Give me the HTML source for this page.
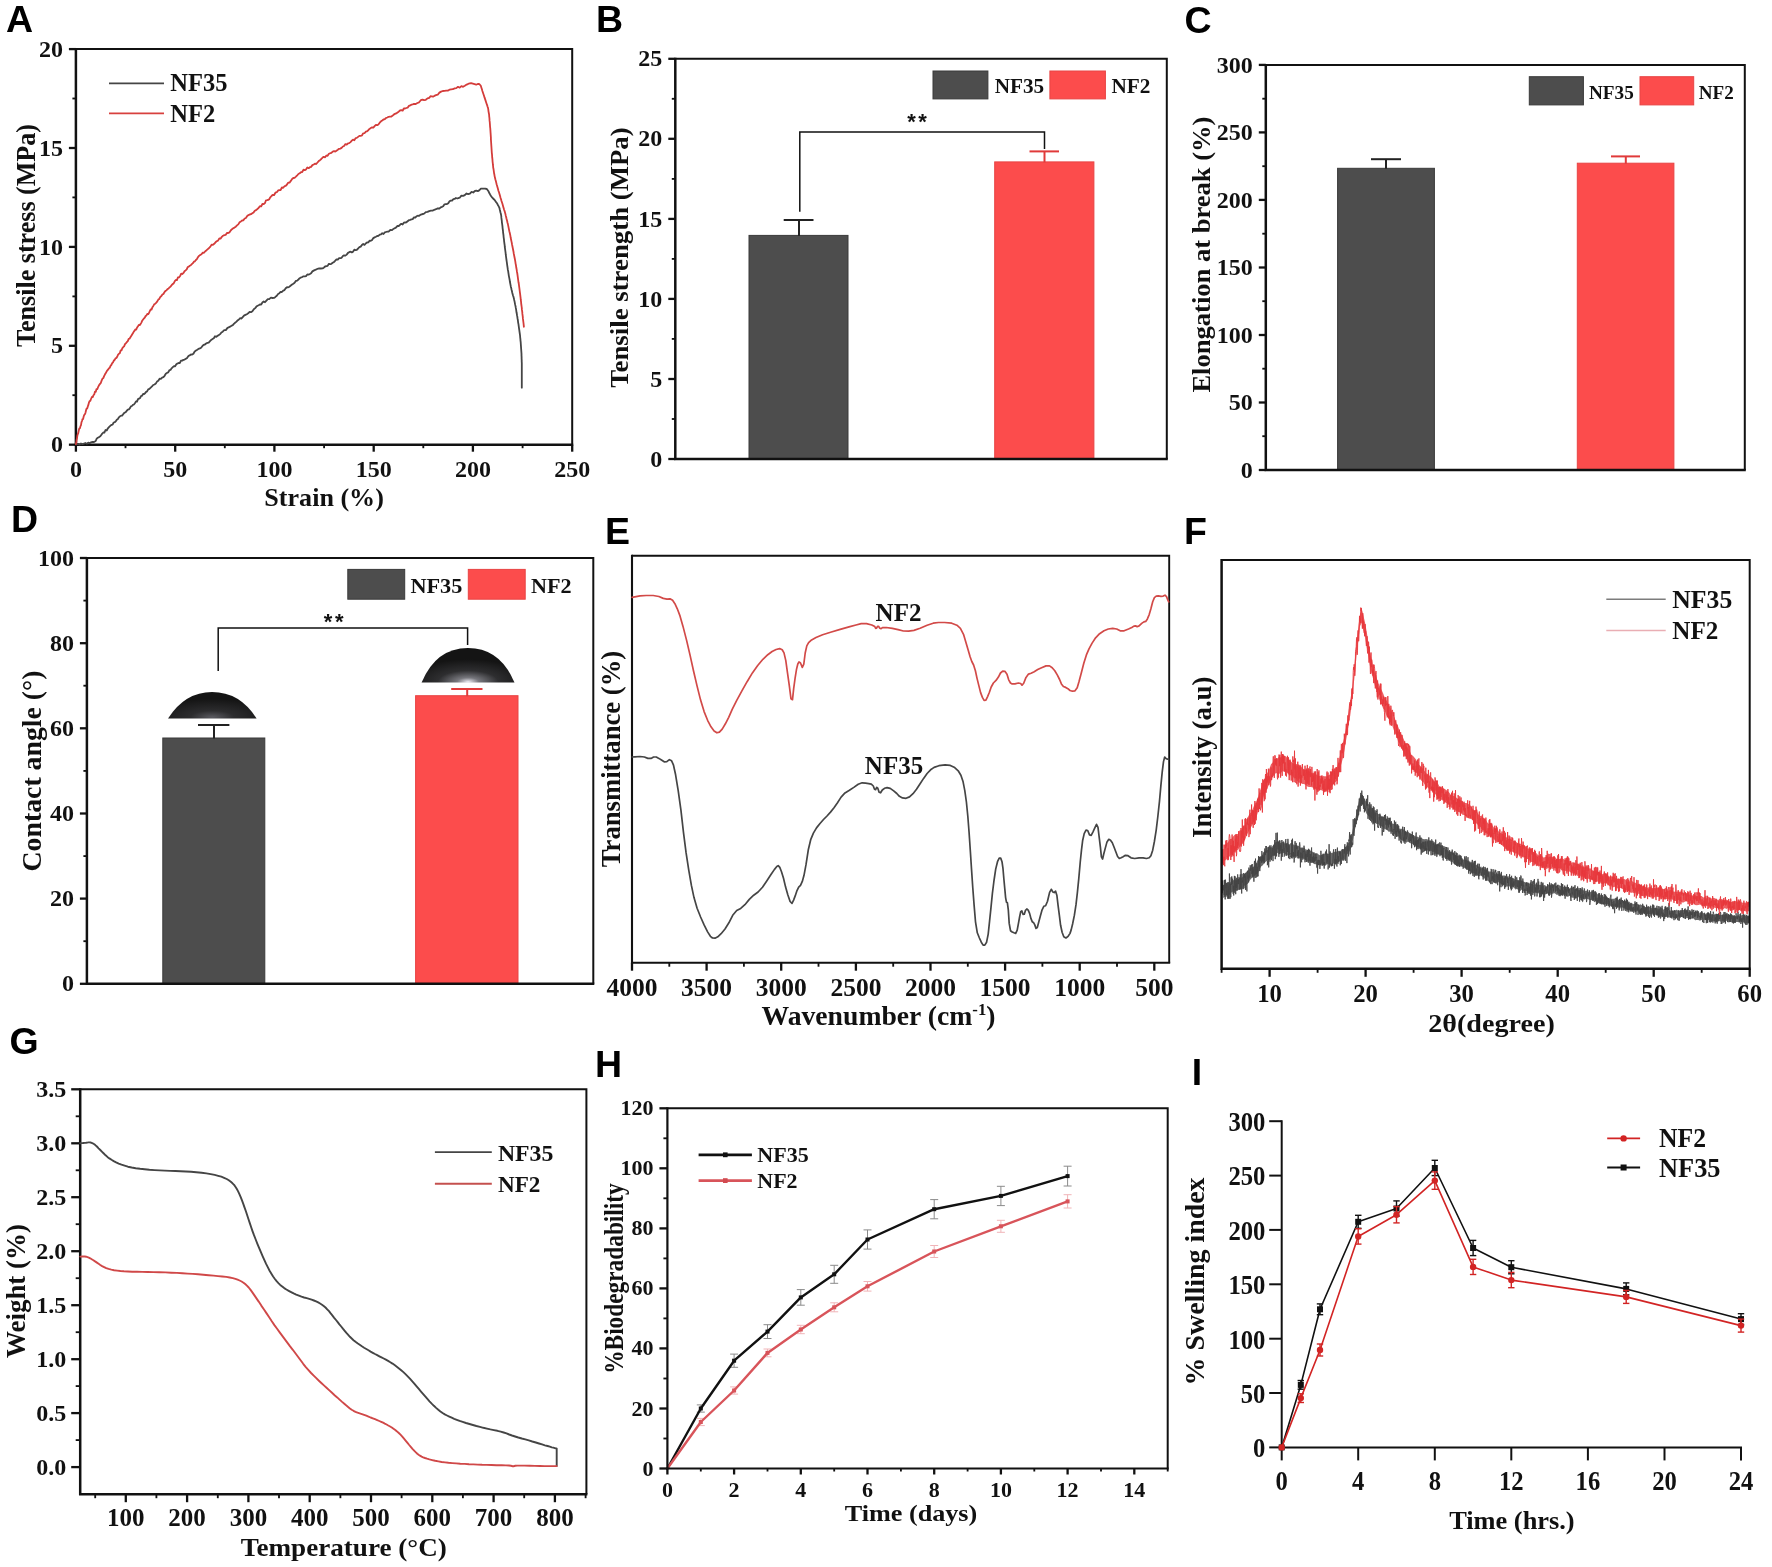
<!DOCTYPE html>
<html><head><meta charset="utf-8"><title>Figure</title>
<style>html,body{margin:0;padding:0;background:#fff}svg{display:block;filter:blur(0.45px)}</style></head>
<body><svg width="1772" height="1567" viewBox="0 0 1772 1567">
<rect width="1772" height="1567" fill="#fff"/>
<text x="6.0" y="32.3" font-size="37.5" text-anchor="start" font-family="Liberation Sans, sans-serif" font-weight="bold" fill="#000" >A</text>
<text x="596.0" y="32.3" font-size="37.5" text-anchor="start" font-family="Liberation Sans, sans-serif" font-weight="bold" fill="#000" >B</text>
<text x="1184.5" y="33.0" font-size="37.5" text-anchor="start" font-family="Liberation Sans, sans-serif" font-weight="bold" fill="#000" >C</text>
<text x="11.0" y="532.0" font-size="37.5" text-anchor="start" font-family="Liberation Sans, sans-serif" font-weight="bold" fill="#000" >D</text>
<text x="605.0" y="543.5" font-size="37.5" text-anchor="start" font-family="Liberation Sans, sans-serif" font-weight="bold" fill="#000" >E</text>
<text x="1184.0" y="543.5" font-size="37.5" text-anchor="start" font-family="Liberation Sans, sans-serif" font-weight="bold" fill="#000" >F</text>
<text x="9.5" y="1053.5" font-size="37.5" text-anchor="start" font-family="Liberation Sans, sans-serif" font-weight="bold" fill="#000" >G</text>
<text x="595.0" y="1077.0" font-size="37.5" text-anchor="start" font-family="Liberation Sans, sans-serif" font-weight="bold" fill="#000" >H</text>
<text x="1191.7" y="1085.0" font-size="37.5" text-anchor="start" font-family="Liberation Sans, sans-serif" font-weight="bold" fill="#000" >I</text>
<path d="M75.9,48.1 V444.7 H573.2" fill="none" stroke="#111" stroke-width="2.5" stroke-linejoin="miter"/>
<path d="M75.9,49.1 H572.2 V444.7" fill="none" stroke="#111" stroke-width="2.0" stroke-linejoin="miter"/>
<line x1="68.9" y1="49.1" x2="75.9" y2="49.1" stroke="#111" stroke-width="2.3" />
<text x="62.9" y="56.7" font-size="24" text-anchor="end" font-family="Liberation Serif, serif" font-weight="bold" fill="#111" >20</text>
<line x1="68.9" y1="148.0" x2="75.9" y2="148.0" stroke="#111" stroke-width="2.3" />
<text x="62.9" y="155.6" font-size="24" text-anchor="end" font-family="Liberation Serif, serif" font-weight="bold" fill="#111" >15</text>
<line x1="68.9" y1="246.9" x2="75.9" y2="246.9" stroke="#111" stroke-width="2.3" />
<text x="62.9" y="254.5" font-size="24" text-anchor="end" font-family="Liberation Serif, serif" font-weight="bold" fill="#111" >10</text>
<line x1="68.9" y1="345.8" x2="75.9" y2="345.8" stroke="#111" stroke-width="2.3" />
<text x="62.9" y="353.4" font-size="24" text-anchor="end" font-family="Liberation Serif, serif" font-weight="bold" fill="#111" >5</text>
<line x1="68.9" y1="444.7" x2="75.9" y2="444.7" stroke="#111" stroke-width="2.3" />
<text x="62.9" y="452.3" font-size="24" text-anchor="end" font-family="Liberation Serif, serif" font-weight="bold" fill="#111" >0</text>
<line x1="72.4" y1="98.5" x2="75.9" y2="98.5" stroke="#111" stroke-width="1.8399999999999999" />
<line x1="72.4" y1="197.4" x2="75.9" y2="197.4" stroke="#111" stroke-width="1.8399999999999999" />
<line x1="72.4" y1="296.4" x2="75.9" y2="296.4" stroke="#111" stroke-width="1.8399999999999999" />
<line x1="72.4" y1="395.2" x2="75.9" y2="395.2" stroke="#111" stroke-width="1.8399999999999999" />
<line x1="75.9" y1="444.7" x2="75.9" y2="451.7" stroke="#111" stroke-width="2.3" />
<text x="75.9" y="476.8" font-size="24" text-anchor="middle" font-family="Liberation Serif, serif" font-weight="bold" fill="#111" >0</text>
<line x1="175.2" y1="444.7" x2="175.2" y2="451.7" stroke="#111" stroke-width="2.3" />
<text x="175.2" y="476.8" font-size="24" text-anchor="middle" font-family="Liberation Serif, serif" font-weight="bold" fill="#111" >50</text>
<line x1="274.4" y1="444.7" x2="274.4" y2="451.7" stroke="#111" stroke-width="2.3" />
<text x="274.4" y="476.8" font-size="24" text-anchor="middle" font-family="Liberation Serif, serif" font-weight="bold" fill="#111" >100</text>
<line x1="373.7" y1="444.7" x2="373.7" y2="451.7" stroke="#111" stroke-width="2.3" />
<text x="373.7" y="476.8" font-size="24" text-anchor="middle" font-family="Liberation Serif, serif" font-weight="bold" fill="#111" >150</text>
<line x1="472.9" y1="444.7" x2="472.9" y2="451.7" stroke="#111" stroke-width="2.3" />
<text x="472.9" y="476.8" font-size="24" text-anchor="middle" font-family="Liberation Serif, serif" font-weight="bold" fill="#111" >200</text>
<line x1="572.2" y1="444.7" x2="572.2" y2="451.7" stroke="#111" stroke-width="2.3" />
<text x="572.2" y="476.8" font-size="24" text-anchor="middle" font-family="Liberation Serif, serif" font-weight="bold" fill="#111" >250</text>
<line x1="125.5" y1="444.7" x2="125.5" y2="448.2" stroke="#111" stroke-width="1.8399999999999999" />
<line x1="224.8" y1="444.7" x2="224.8" y2="448.2" stroke="#111" stroke-width="1.8399999999999999" />
<line x1="324.1" y1="444.7" x2="324.1" y2="448.2" stroke="#111" stroke-width="1.8399999999999999" />
<line x1="423.3" y1="444.7" x2="423.3" y2="448.2" stroke="#111" stroke-width="1.8399999999999999" />
<line x1="522.6" y1="444.7" x2="522.6" y2="448.2" stroke="#111" stroke-width="1.8399999999999999" />
<text x="324.1" y="506.0" font-size="24.5" text-anchor="middle" font-family="Liberation Serif, serif" font-weight="bold" fill="#111"  textLength="119.5" lengthAdjust="spacingAndGlyphs">Strain (%)</text>
<text transform="translate(35.0,235.5) rotate(-90)" font-size="26.5" text-anchor="middle" font-family="Liberation Serif, serif" font-weight="bold" fill="#111"  textLength="223.0" lengthAdjust="spacingAndGlyphs">Tensile stress (MPa)</text>
<polyline points="75.9,444.3 78.1,443.8 79.5,444.6 81.0,443.5 82.5,444.2 83.9,443.7 85.3,443.0 86.8,443.7 88.2,442.7 89.6,443.2 91.0,442.4 92.5,441.9 94.0,442.0 95.7,441.0 96.7,438.6 97.8,437.7 99.1,437.1 100.3,436.3 101.8,434.2 103.3,432.5 104.4,432.6 105.5,430.0 106.7,430.5 107.9,428.3 109.2,426.8 110.5,425.6 111.5,424.9 112.6,424.7 113.7,422.5 114.7,422.2 115.8,421.3 116.8,419.8 117.9,419.1 118.9,417.3 120.0,416.3 121.1,415.7 122.1,415.6 123.2,414.2 124.3,412.9 125.5,412.3 126.7,410.9 127.8,409.6 128.9,409.4 129.9,408.2 130.9,406.4 131.9,406.0 132.9,404.9 133.9,404.5 134.9,403.2 136.0,401.4 137.0,401.6 138.0,399.1 139.0,398.6 140.0,398.2 141.0,396.1 142.1,395.7 143.1,393.9 144.1,394.0 145.1,393.2 146.1,391.9 147.1,391.4 148.2,389.4 149.4,388.9 150.7,387.6 152.0,386.4 153.2,385.0 154.5,384.5 155.8,383.6 157.0,381.6 158.3,380.8 159.6,378.7 160.9,378.8 162.1,377.6 163.4,377.2 164.6,375.8 165.8,373.8 167.0,372.9 168.2,372.4 169.4,370.2 170.5,369.9 171.6,368.3 172.8,367.2 174.0,366.1 175.1,366.4 176.3,364.3 177.4,363.6 178.6,363.0 179.8,363.0 181.0,360.7 182.2,360.6 183.4,359.9 184.6,359.6 185.9,358.7 187.1,357.9 188.4,356.0 189.6,355.4 190.9,354.5 192.2,354.6 193.4,353.8 194.7,351.5 196.0,350.6 197.3,349.8 198.5,348.9 199.8,348.4 201.1,347.7 202.3,346.2 203.6,344.8 204.9,344.5 206.1,343.5 207.4,342.9 208.7,342.6 210.0,341.2 211.2,339.9 212.5,339.1 213.8,338.3 215.0,336.3 216.3,336.9 217.6,335.8 218.8,335.1 220.1,334.1 221.4,332.5 222.7,331.7 224.2,330.2 225.8,330.1 227.3,328.1 228.7,327.3 230.1,326.7 231.5,325.8 232.8,325.1 234.1,323.6 235.4,322.5 236.5,321.6 237.6,320.4 238.7,319.8 240.0,318.2 241.3,318.7 242.5,317.3 244.0,315.6 245.4,314.9 246.8,314.2 248.2,313.3 249.6,311.9 251.0,312.2 252.4,311.3 253.8,309.2 255.2,308.1 256.4,306.6 257.6,305.8 258.7,305.3 259.9,304.4 261.2,304.5 262.4,302.5 263.7,301.4 265.0,302.2 266.4,300.7 267.8,299.2 269.2,299.2 270.9,297.7 272.6,298.0 274.0,297.9 275.4,296.9 276.8,295.7 278.1,294.0 279.4,293.2 280.6,291.9 281.9,292.0 283.2,290.6 284.5,290.1 285.7,288.3 287.0,287.2 288.3,287.3 289.5,286.7 290.8,285.5 292.1,284.5 293.3,283.7 294.6,282.7 295.9,280.9 297.2,280.6 298.4,279.5 299.7,278.2 301.0,277.4 302.2,277.1 303.5,276.3 304.8,276.4 306.0,276.1 307.3,274.5 308.6,274.6 309.9,274.0 311.1,273.2 312.4,271.4 314.1,270.4 315.8,269.7 317.5,268.8 319.2,268.3 320.9,268.5 322.6,268.4 323.8,267.7 325.1,266.5 326.4,266.2 327.6,265.9 328.9,263.8 330.2,264.1 331.4,263.8 332.7,262.8 334.0,262.0 335.3,260.7 336.5,259.4 337.8,259.7 339.1,258.2 340.3,258.2 341.6,257.8 342.9,256.0 344.1,255.3 345.4,255.6 346.7,254.6 348.0,252.9 349.2,252.2 350.5,251.7 351.8,252.4 353.0,251.7 354.3,249.7 355.6,250.2 356.8,249.8 358.1,248.5 359.4,247.1 360.7,246.6 361.9,245.0 363.2,244.0 364.5,244.9 365.7,243.5 367.0,242.5 368.3,242.4 369.5,240.7 370.8,240.8 372.1,239.9 373.3,238.1 374.6,237.4 375.9,236.8 377.2,236.0 378.4,235.9 379.7,234.7 381.0,234.4 382.2,233.2 383.5,234.0 384.8,232.4 386.0,232.0 387.3,231.6 388.6,231.6 390.3,230.0 392.0,230.2 393.7,228.7 394.9,228.1 396.2,227.4 397.5,225.9 398.7,226.0 400.0,224.8 401.3,223.8 402.6,224.5 403.8,222.7 405.1,222.5 406.4,222.3 407.6,221.3 408.9,220.2 410.2,219.9 411.4,219.4 412.7,219.1 414.0,217.3 415.3,217.5 416.5,216.3 417.8,215.7 419.1,215.9 420.3,214.8 421.6,214.3 422.9,214.0 424.1,213.7 425.8,212.2 427.5,211.9 429.2,211.1 430.9,210.7 432.6,210.6 434.3,209.8 436.0,209.2 437.7,208.4 439.4,208.5 440.7,207.4 441.9,206.9 443.2,206.3 444.5,204.3 445.7,204.1 447.0,204.1 448.3,203.2 449.5,201.3 450.8,200.6 452.1,200.5 453.4,199.2 454.6,198.9 455.9,198.0 457.2,198.5 458.4,198.1 459.7,197.7 461.4,195.6 463.1,195.9 464.8,195.1 466.5,193.5 468.2,194.2 469.9,193.7 471.6,191.8 473.2,192.5 474.9,191.0 476.4,190.7 477.8,191.1 479.2,190.4 480.9,188.7 482.6,188.7 485.1,188.6 486.8,189.0 488.5,191.3 489.3,193.0 490.2,194.7 491.2,196.2 492.3,197.7 493.6,199.0 494.8,200.2 496.0,201.9 497.2,203.6 497.9,205.0 498.7,206.4 499.4,207.8 499.7,209.3 500.1,210.7 500.4,212.2 500.8,213.6 501.1,215.0 501.3,216.5 501.4,217.9 501.6,219.4 501.8,220.8 501.9,222.3 502.1,223.7 502.3,225.2 502.5,226.6 502.6,228.1 502.8,229.5 503.0,231.0 503.1,232.5 503.3,233.9 503.5,235.4 503.6,236.8 503.8,238.3 504.0,239.7 504.1,241.2 504.3,242.6 504.5,244.1 504.7,245.5 504.8,247.0 505.0,248.4 505.2,249.9 505.4,251.3 505.6,252.8 505.7,254.2 505.9,255.7 506.1,257.1 506.3,258.6 506.5,260.0 506.7,261.5 506.9,262.9 507.1,264.4 507.3,265.8 507.5,267.2 507.7,268.6 507.9,270.0 508.2,271.4 508.4,272.8 508.6,274.2 508.8,275.6 509.1,277.1 509.4,278.7 509.7,280.2 509.9,281.8 510.2,283.3 510.5,284.9 510.8,286.4 511.2,287.9 511.5,289.5 511.9,291.0 512.2,292.5 512.6,294.0 513.0,295.5 513.5,296.9 513.9,298.4 514.2,300.0 514.6,301.6 514.9,303.3 515.2,304.9 515.6,306.5 515.8,307.9 516.1,309.4 516.3,310.8 516.5,312.3 516.8,313.7 517.0,315.2 517.3,316.6 517.5,318.2 517.8,319.7 518.0,321.3 518.2,322.8 518.5,324.4 518.7,325.9 518.9,327.4 519.1,328.8 519.3,330.2 519.5,331.6 519.7,333.0 519.9,334.4 520.1,336.0 520.2,337.5 520.4,339.1 520.5,340.6 520.7,342.2 520.8,343.7 520.9,345.2 521.0,346.6 521.1,348.1 521.2,349.5 521.3,351.0 521.4,352.4 521.5,353.9 521.5,355.4 521.6,356.9 521.6,358.5 521.7,360.0 521.7,361.5 521.8,363.1 521.8,364.6 521.8,366.2 521.8,367.6 521.8,369.0 521.8,370.5 521.8,371.9 521.8,373.3 521.8,374.8 521.8,376.2 521.8,377.7 521.8,379.1 521.8,380.5 521.8,382.0 521.8,383.4 521.8,384.9 521.8,386.3 521.8,387.7" fill="none" stroke="#454545" stroke-width="1.8" stroke-linejoin="round" stroke-linecap="round" />
<polyline points="75.9,444.1 76.1,442.9 76.4,442.2 76.6,439.6 76.9,439.1 77.1,437.5 77.4,435.4 77.8,434.2 78.3,432.9 78.7,430.9 79.3,428.4 79.9,428.4 80.4,426.4 81.0,425.2 81.5,422.2 82.0,421.0 82.5,419.1 83.1,419.1 83.6,416.8 84.1,415.2 84.6,414.4 85.1,413.9 85.6,412.3 86.1,410.0 86.7,408.4 87.2,408.4 87.8,406.4 88.3,405.2 88.9,402.7 89.6,401.2 90.3,400.9 91.0,399.0 91.9,397.0 92.7,397.1 93.5,395.2 94.3,394.2 95.0,391.6 95.8,391.8 96.5,389.1 97.4,389.0 98.2,386.8 99.1,385.1 99.9,384.0 100.7,383.2 101.6,380.6 102.4,378.8 103.3,378.1 104.1,376.1 105.0,374.3 105.8,373.0 106.7,371.3 107.4,370.4 108.2,369.4 109.0,368.2 109.7,367.8 110.5,365.8 111.3,365.0 112.2,363.2 113.0,362.3 113.9,360.5 114.7,359.8 115.6,358.1 116.4,358.1 117.3,356.5 118.1,354.6 118.9,353.8 119.8,353.3 120.6,350.5 121.5,350.4 122.3,348.3 123.2,347.1 124.1,346.4 125.0,344.2 126.0,343.1 126.9,342.0 127.8,341.2 128.7,338.9 129.5,338.7 130.4,337.3 131.2,336.1 132.1,334.5 132.9,333.3 133.8,331.6 134.6,330.6 135.5,329.4 136.3,329.5 137.1,327.5 138.0,326.2 138.8,324.9 139.7,325.1 140.5,324.1 141.4,322.6 142.2,320.7 143.1,319.5 143.9,318.5 144.8,317.7 145.6,316.0 146.5,315.4 147.3,313.9 148.2,314.1 149.0,313.0 149.8,311.1 150.7,309.4 151.5,309.6 152.4,307.3 153.2,306.2 154.2,304.3 155.3,303.7 156.3,302.6 157.3,301.4 158.3,299.6 159.3,298.9 160.3,296.9 161.4,296.1 162.4,294.6 163.4,294.0 164.4,292.3 165.3,291.1 166.3,290.5 167.3,289.3 168.2,288.8 169.4,287.5 170.5,286.6 171.6,285.2 172.8,284.0 173.8,283.2 174.8,281.2 175.8,280.0 176.9,280.1 177.9,277.5 179.0,277.3 180.1,276.0 181.2,273.7 182.3,274.0 183.5,272.9 184.5,271.3 185.6,270.4 186.7,269.4 187.7,267.1 188.8,266.7 189.8,265.7 190.8,265.2 191.8,264.2 192.9,263.2 193.9,261.7 194.9,261.3 195.9,260.0 196.9,259.1 197.9,257.3 199.0,255.9 200.2,255.0 201.5,254.2 202.8,252.6 204.0,252.8 205.3,251.2 206.6,250.2 207.8,249.1 209.1,248.0 210.4,246.6 211.6,244.6 212.9,244.9 214.2,243.8 215.5,242.3 216.7,241.3 218.0,240.6 219.3,238.5 220.5,238.7 221.8,236.9 223.1,235.7 224.3,235.1 225.6,234.9 226.9,233.0 228.2,233.0 229.4,232.4 230.7,230.5 232.0,229.2 233.2,228.3 234.5,227.6 235.8,226.7 237.0,225.4 238.3,224.4 239.6,222.3 240.9,221.4 242.1,220.5 243.4,220.3 244.7,218.5 245.9,218.0 247.2,216.0 248.5,215.1 249.7,214.5 251.0,214.2 252.3,213.3 253.6,212.4 254.8,210.8 256.1,210.1 257.4,209.0 258.6,207.9 259.9,206.2 261.2,206.4 262.4,204.0 263.7,204.2 265.0,203.0 266.0,200.3 267.1,200.2 268.2,199.9 269.2,199.2 270.3,197.3 271.5,196.0 272.6,195.0 274.0,195.2 275.4,192.7 276.8,192.2 278.1,190.5 279.4,190.2 280.6,190.0 281.9,187.5 283.2,187.8 284.5,186.2 285.7,185.8 287.0,184.5 288.3,182.6 289.5,182.7 290.8,180.9 292.1,179.0 293.3,178.0 294.6,177.8 295.9,176.6 297.2,175.3 298.4,174.0 299.7,173.3 301.0,172.2 302.2,172.0 303.5,169.7 304.8,170.2 306.0,169.5 307.3,167.4 308.6,168.2 309.9,167.2 311.1,166.9 312.4,165.1 313.7,164.5 314.9,163.7 316.2,164.0 317.5,162.5 318.7,161.1 320.0,160.2 321.3,159.0 322.6,157.6 323.8,156.8 325.1,157.3 326.4,155.5 327.6,155.8 328.9,153.8 330.2,153.2 331.4,152.9 332.7,151.6 334.0,151.2 335.3,151.5 336.5,150.7 337.8,149.8 339.1,148.8 340.3,148.6 341.6,147.9 342.9,146.5 344.1,146.0 345.4,144.1 346.7,144.6 348.0,143.3 349.2,143.1 350.5,142.1 351.8,140.7 353.0,139.6 354.3,140.3 355.6,138.1 356.8,137.9 358.1,136.9 359.4,135.9 360.7,135.9 361.9,135.5 363.2,133.3 364.5,133.2 365.7,131.7 367.0,131.3 368.3,130.2 369.5,128.9 370.8,128.1 372.1,127.3 373.3,127.7 374.6,126.1 375.9,124.8 377.2,125.2 378.4,124.5 379.7,122.7 381.0,121.3 382.2,120.5 383.5,119.5 384.8,119.2 386.0,118.0 387.3,117.5 388.6,116.8 389.9,116.7 391.1,116.7 392.4,115.8 393.7,114.6 394.9,113.9 396.2,113.4 397.5,112.5 398.7,111.7 400.0,110.5 401.3,110.2 402.6,110.7 403.8,108.5 405.1,108.5 406.4,108.0 407.6,107.7 408.9,105.9 410.2,105.4 411.4,104.7 412.7,104.3 414.0,103.8 415.7,104.0 417.4,103.0 419.1,102.3 420.8,100.2 422.5,99.6 424.1,100.2 425.8,99.8 427.5,98.4 429.2,97.9 430.5,96.2 431.8,96.3 433.0,96.7 434.3,95.9 436.0,95.2 437.7,94.7 439.4,92.6 441.1,91.6 442.8,91.0 444.5,90.9 446.2,90.7 447.8,90.6 449.5,89.7 451.2,89.3 452.9,89.2 454.6,88.4 456.3,88.1 458.0,86.8 459.7,87.7 461.4,86.2 463.1,86.8 464.8,85.8 466.7,84.6 468.6,83.7 471.1,83.2 473.7,83.9 476.2,84.7 478.2,83.8 479.5,84.2 480.8,85.8 481.4,87.7 482.0,89.6 482.4,91.0 482.9,92.5 483.4,94.0 484.0,95.7 484.5,97.4 485.1,99.1 485.6,100.6 486.1,102.2 486.6,103.7 487.1,105.1 487.5,106.5 488.0,107.9 488.3,109.6 488.5,111.3 488.8,113.0 489.1,114.7 489.2,116.3 489.4,117.8 489.5,119.4 489.6,120.9 489.8,122.5 489.9,124.0 490.0,125.5 490.1,127.0 490.3,128.6 490.4,130.1 490.5,131.6 490.6,133.1 490.7,134.6 490.8,136.1 490.9,137.6 490.9,139.1 491.0,140.5 491.1,142.0 491.2,143.5 491.3,145.0 491.4,146.5 491.5,148.0 491.6,149.6 491.7,151.2 491.8,152.8 492.0,154.3 492.1,155.9 492.2,157.5 492.4,158.9 492.5,160.4 492.6,161.8 492.8,163.3 492.9,164.7 493.1,166.2 493.2,167.6 493.5,169.0 493.7,170.4 493.9,171.9 494.1,173.3 494.4,174.7 494.6,176.1 495.0,177.8 495.4,179.5 495.9,181.2 496.3,182.9 496.6,184.2 497.0,185.6 497.4,186.9 497.8,188.3 498.1,189.6 498.5,191.0 499.0,192.3 499.4,193.7 499.8,195.1 500.2,196.4 500.6,197.9 501.1,199.5 501.5,201.0 502.0,202.5 502.5,204.0 502.9,205.4 503.3,206.9 503.7,208.3 504.1,209.7 504.6,211.1 505.0,212.5 505.4,213.9 505.7,215.4 506.1,216.8 506.4,218.3 506.8,219.8 507.2,221.2 507.5,222.7 507.9,224.1 508.2,225.6 508.5,227.1 508.8,228.6 509.1,230.1 509.4,231.5 509.8,233.0 510.1,234.5 510.4,235.9 510.6,237.3 510.9,238.7 511.2,240.2 511.5,241.6 511.8,243.0 512.0,244.4 512.3,245.8 512.6,247.2 512.9,248.7 513.2,250.2 513.5,251.7 513.7,253.2 514.0,254.7 514.3,256.2 514.6,257.7 514.9,259.2 515.2,260.8 515.4,262.2 515.6,263.6 515.9,265.0 516.1,266.4 516.3,267.8 516.6,269.2 516.8,270.6 517.0,272.0 517.3,273.5 517.5,274.9 517.7,276.4 517.9,277.9 518.1,279.4 518.3,280.9 518.5,282.3 518.8,283.8 519.0,285.3 519.2,286.9 519.4,288.4 519.6,290.0 519.8,291.6 520.0,293.2 520.2,294.7 520.4,296.3 520.6,297.8 520.7,299.2 520.9,300.7 521.1,302.1 521.2,303.6 521.4,305.0 521.6,306.5 521.8,307.9 521.9,309.4 522.1,310.9 522.3,312.4 522.4,313.9 522.6,315.4 522.8,316.9 522.9,318.4 523.1,319.9 523.3,321.5 523.5,323.0 523.7,324.9 523.9,326.8" fill="none" stroke="#d43c3a" stroke-width="1.8" stroke-linejoin="round" stroke-linecap="round" />
<line x1="109.0" y1="83.3" x2="164.0" y2="83.3" stroke="#454545" stroke-width="1.7" />
<text x="170.3" y="91.4" font-size="24.5" text-anchor="start" font-family="Liberation Serif, serif" font-weight="bold" fill="#111" >NF35</text>
<line x1="109.0" y1="113.4" x2="164.0" y2="113.4" stroke="#d8403e" stroke-width="1.7" />
<text x="170.3" y="121.9" font-size="24.5" text-anchor="start" font-family="Liberation Serif, serif" font-weight="bold" fill="#111" >NF2</text>
<rect x="749.0" y="235.4" width="99.0" height="223.6" fill="#4d4d4d" stroke="#3a3a3a" stroke-width="1"/>
<rect x="994.7" y="161.9" width="99.2" height="297.1" fill="#fc4c4c" stroke="#e84444" stroke-width="1"/>
<line x1="799.0" y1="220.0" x2="799.0" y2="235.9" stroke="#222" stroke-width="2" />
<line x1="783.7" y1="220.0" x2="813.5" y2="220.0" stroke="#222" stroke-width="2" />
<line x1="1044.5" y1="151.4" x2="1044.5" y2="162.4" stroke="#e03a3a" stroke-width="2" />
<line x1="1029.5" y1="151.4" x2="1059.0" y2="151.4" stroke="#e03a3a" stroke-width="2" />
<path d="M675.3,57.8 V459.0 H1167.8" fill="none" stroke="#111" stroke-width="2.5" stroke-linejoin="miter"/>
<path d="M675.3,58.8 H1166.8 V459.0" fill="none" stroke="#111" stroke-width="2.0" stroke-linejoin="miter"/>
<line x1="668.3" y1="58.8" x2="675.3" y2="58.8" stroke="#111" stroke-width="2.3" />
<text x="662.3" y="66.4" font-size="24" text-anchor="end" font-family="Liberation Serif, serif" font-weight="bold" fill="#111" >25</text>
<line x1="668.3" y1="138.8" x2="675.3" y2="138.8" stroke="#111" stroke-width="2.3" />
<text x="662.3" y="146.4" font-size="24" text-anchor="end" font-family="Liberation Serif, serif" font-weight="bold" fill="#111" >20</text>
<line x1="668.3" y1="218.9" x2="675.3" y2="218.9" stroke="#111" stroke-width="2.3" />
<text x="662.3" y="226.5" font-size="24" text-anchor="end" font-family="Liberation Serif, serif" font-weight="bold" fill="#111" >15</text>
<line x1="668.3" y1="298.9" x2="675.3" y2="298.9" stroke="#111" stroke-width="2.3" />
<text x="662.3" y="306.5" font-size="24" text-anchor="end" font-family="Liberation Serif, serif" font-weight="bold" fill="#111" >10</text>
<line x1="668.3" y1="379.0" x2="675.3" y2="379.0" stroke="#111" stroke-width="2.3" />
<text x="662.3" y="386.6" font-size="24" text-anchor="end" font-family="Liberation Serif, serif" font-weight="bold" fill="#111" >5</text>
<line x1="668.3" y1="459.0" x2="675.3" y2="459.0" stroke="#111" stroke-width="2.3" />
<text x="662.3" y="466.6" font-size="24" text-anchor="end" font-family="Liberation Serif, serif" font-weight="bold" fill="#111" >0</text>
<line x1="671.8" y1="98.8" x2="675.3" y2="98.8" stroke="#111" stroke-width="1.8399999999999999" />
<line x1="671.8" y1="178.9" x2="675.3" y2="178.9" stroke="#111" stroke-width="1.8399999999999999" />
<line x1="671.8" y1="258.9" x2="675.3" y2="258.9" stroke="#111" stroke-width="1.8399999999999999" />
<line x1="671.8" y1="338.9" x2="675.3" y2="338.9" stroke="#111" stroke-width="1.8399999999999999" />
<line x1="671.8" y1="419.0" x2="675.3" y2="419.0" stroke="#111" stroke-width="1.8399999999999999" />
<text transform="translate(627.8,257.6) rotate(-90)" font-size="25" text-anchor="middle" font-family="Liberation Serif, serif" font-weight="bold" fill="#111"  textLength="260.5" lengthAdjust="spacingAndGlyphs">Tensile strength (MPa)</text>
<polyline points="799.8,211.7 799.8,132 1044.5,132 1044.5,149" fill="none" stroke="#111" stroke-width="1.5"/>
<text x="918.3" y="128.7" font-size="22" text-anchor="middle" font-family="Liberation Sans, sans-serif" font-weight="bold" fill="#111" letter-spacing="2.5">**</text>
<rect x="933.0" y="71.0" width="54.9" height="27.9" fill="#4d4d4d" stroke="#3a3a3a" stroke-width="1"/>
<text x="994.7" y="92.8" font-size="21" text-anchor="start" font-family="Liberation Serif, serif" font-weight="bold" fill="#111"  textLength="49.5" lengthAdjust="spacingAndGlyphs">NF35</text>
<rect x="1049.9" y="71.0" width="55.5" height="27.9" fill="#fc4c4c" stroke="#e84444" stroke-width="1"/>
<text x="1111.5" y="92.8" font-size="21" text-anchor="start" font-family="Liberation Serif, serif" font-weight="bold" fill="#111"  textLength="39.0" lengthAdjust="spacingAndGlyphs">NF2</text>
<rect x="1337.6" y="168.3" width="96.8" height="301.7" fill="#4d4d4d" stroke="#3a3a3a" stroke-width="1"/>
<rect x="1577.3" y="163.2" width="96.6" height="306.8" fill="#fc4c4c" stroke="#e84444" stroke-width="1"/>
<line x1="1386.0" y1="159.2" x2="1386.0" y2="168.8" stroke="#222" stroke-width="2" />
<line x1="1371.0" y1="159.2" x2="1401.0" y2="159.2" stroke="#222" stroke-width="2" />
<line x1="1625.8" y1="156.4" x2="1625.8" y2="163.7" stroke="#e03a3a" stroke-width="2" />
<line x1="1611.0" y1="156.4" x2="1640.0" y2="156.4" stroke="#e03a3a" stroke-width="2" />
<path d="M1265.8,63.9 V470.0 H1745.8" fill="none" stroke="#111" stroke-width="2.5" stroke-linejoin="miter"/>
<path d="M1265.8,64.9 H1744.8 V470.0" fill="none" stroke="#111" stroke-width="2.0" stroke-linejoin="miter"/>
<line x1="1258.8" y1="64.9" x2="1265.8" y2="64.9" stroke="#111" stroke-width="2.3" />
<text x="1252.8" y="72.5" font-size="24" text-anchor="end" font-family="Liberation Serif, serif" font-weight="bold" fill="#111" >300</text>
<line x1="1258.8" y1="132.4" x2="1265.8" y2="132.4" stroke="#111" stroke-width="2.3" />
<text x="1252.8" y="140.0" font-size="24" text-anchor="end" font-family="Liberation Serif, serif" font-weight="bold" fill="#111" >250</text>
<line x1="1258.8" y1="199.9" x2="1265.8" y2="199.9" stroke="#111" stroke-width="2.3" />
<text x="1252.8" y="207.5" font-size="24" text-anchor="end" font-family="Liberation Serif, serif" font-weight="bold" fill="#111" >200</text>
<line x1="1258.8" y1="267.5" x2="1265.8" y2="267.5" stroke="#111" stroke-width="2.3" />
<text x="1252.8" y="275.1" font-size="24" text-anchor="end" font-family="Liberation Serif, serif" font-weight="bold" fill="#111" >150</text>
<line x1="1258.8" y1="335.0" x2="1265.8" y2="335.0" stroke="#111" stroke-width="2.3" />
<text x="1252.8" y="342.6" font-size="24" text-anchor="end" font-family="Liberation Serif, serif" font-weight="bold" fill="#111" >100</text>
<line x1="1258.8" y1="402.5" x2="1265.8" y2="402.5" stroke="#111" stroke-width="2.3" />
<text x="1252.8" y="410.1" font-size="24" text-anchor="end" font-family="Liberation Serif, serif" font-weight="bold" fill="#111" >50</text>
<line x1="1258.8" y1="470.0" x2="1265.8" y2="470.0" stroke="#111" stroke-width="2.3" />
<text x="1252.8" y="477.6" font-size="24" text-anchor="end" font-family="Liberation Serif, serif" font-weight="bold" fill="#111" >0</text>
<line x1="1262.3" y1="98.7" x2="1265.8" y2="98.7" stroke="#111" stroke-width="1.8399999999999999" />
<line x1="1262.3" y1="166.2" x2="1265.8" y2="166.2" stroke="#111" stroke-width="1.8399999999999999" />
<line x1="1262.3" y1="233.7" x2="1265.8" y2="233.7" stroke="#111" stroke-width="1.8399999999999999" />
<line x1="1262.3" y1="301.2" x2="1265.8" y2="301.2" stroke="#111" stroke-width="1.8399999999999999" />
<line x1="1262.3" y1="368.7" x2="1265.8" y2="368.7" stroke="#111" stroke-width="1.8399999999999999" />
<line x1="1262.3" y1="436.2" x2="1265.8" y2="436.2" stroke="#111" stroke-width="1.8399999999999999" />
<text transform="translate(1210.0,254.6) rotate(-90)" font-size="24.7" text-anchor="middle" font-family="Liberation Serif, serif" font-weight="bold" fill="#111"  textLength="276.0" lengthAdjust="spacingAndGlyphs">Elongation at break (%)</text>
<rect x="1529.3" y="76.7" width="54.1" height="28.2" fill="#4d4d4d" stroke="#3a3a3a" stroke-width="1"/>
<text x="1589.0" y="99.2" font-size="19.5" text-anchor="start" font-family="Liberation Serif, serif" font-weight="bold" fill="#111"  textLength="44.8" lengthAdjust="spacingAndGlyphs">NF35</text>
<rect x="1640.0" y="76.7" width="53.7" height="28.2" fill="#fc4c4c" stroke="#e84444" stroke-width="1"/>
<text x="1698.8" y="99.2" font-size="19.5" text-anchor="start" font-family="Liberation Serif, serif" font-weight="bold" fill="#111"  textLength="35.0" lengthAdjust="spacingAndGlyphs">NF2</text>
<rect x="162.8" y="738.0" width="102.0" height="245.8" fill="#4d4d4d" stroke="#3a3a3a" stroke-width="1"/>
<rect x="415.6" y="695.7" width="102.4" height="288.1" fill="#fc4c4c" stroke="#e84444" stroke-width="1"/>
<line x1="214.0" y1="725.0" x2="214.0" y2="738.5" stroke="#222" stroke-width="2" />
<line x1="198.0" y1="725.0" x2="229.4" y2="725.0" stroke="#222" stroke-width="2" />
<line x1="467.2" y1="689.0" x2="467.2" y2="696.2" stroke="#e03a3a" stroke-width="2" />
<line x1="451.2" y1="689.0" x2="482.5" y2="689.0" stroke="#e03a3a" stroke-width="2" />
<path d="M86.9,557.0 V983.8 H594.3" fill="none" stroke="#111" stroke-width="2.5" stroke-linejoin="miter"/>
<path d="M86.9,558.0 H593.3 V983.8" fill="none" stroke="#111" stroke-width="2.0" stroke-linejoin="miter"/>
<line x1="79.9" y1="558.0" x2="86.9" y2="558.0" stroke="#111" stroke-width="2.3" />
<text x="73.9" y="565.6" font-size="24" text-anchor="end" font-family="Liberation Serif, serif" font-weight="bold" fill="#111" >100</text>
<line x1="79.9" y1="643.2" x2="86.9" y2="643.2" stroke="#111" stroke-width="2.3" />
<text x="73.9" y="650.8" font-size="24" text-anchor="end" font-family="Liberation Serif, serif" font-weight="bold" fill="#111" >80</text>
<line x1="79.9" y1="728.3" x2="86.9" y2="728.3" stroke="#111" stroke-width="2.3" />
<text x="73.9" y="735.9" font-size="24" text-anchor="end" font-family="Liberation Serif, serif" font-weight="bold" fill="#111" >60</text>
<line x1="79.9" y1="813.5" x2="86.9" y2="813.5" stroke="#111" stroke-width="2.3" />
<text x="73.9" y="821.1" font-size="24" text-anchor="end" font-family="Liberation Serif, serif" font-weight="bold" fill="#111" >40</text>
<line x1="79.9" y1="898.6" x2="86.9" y2="898.6" stroke="#111" stroke-width="2.3" />
<text x="73.9" y="906.2" font-size="24" text-anchor="end" font-family="Liberation Serif, serif" font-weight="bold" fill="#111" >20</text>
<line x1="79.9" y1="983.8" x2="86.9" y2="983.8" stroke="#111" stroke-width="2.3" />
<text x="73.9" y="991.4" font-size="24" text-anchor="end" font-family="Liberation Serif, serif" font-weight="bold" fill="#111" >0</text>
<line x1="83.4" y1="600.6" x2="86.9" y2="600.6" stroke="#111" stroke-width="1.8399999999999999" />
<line x1="83.4" y1="685.7" x2="86.9" y2="685.7" stroke="#111" stroke-width="1.8399999999999999" />
<line x1="83.4" y1="770.9" x2="86.9" y2="770.9" stroke="#111" stroke-width="1.8399999999999999" />
<line x1="83.4" y1="856.1" x2="86.9" y2="856.1" stroke="#111" stroke-width="1.8399999999999999" />
<line x1="83.4" y1="941.2" x2="86.9" y2="941.2" stroke="#111" stroke-width="1.8399999999999999" />
<text transform="translate(40.5,771.0) rotate(-90)" font-size="26.5" text-anchor="middle" font-family="Liberation Serif, serif" font-weight="bold" fill="#111"  textLength="201.0" lengthAdjust="spacingAndGlyphs">Contact angle (°)</text>
<polyline points="218.2,671 218.2,628 467.6,628 467.6,645" fill="none" stroke="#111" stroke-width="1.5"/>
<text x="334.9" y="628.5" font-size="22" text-anchor="middle" font-family="Liberation Sans, sans-serif" font-weight="bold" fill="#111" letter-spacing="2.5">**</text>
<rect x="347.8" y="569.4" width="56.9" height="29.8" fill="#4d4d4d" stroke="#3a3a3a" stroke-width="1"/>
<text x="410.4" y="592.8" font-size="22" text-anchor="start" font-family="Liberation Serif, serif" font-weight="bold" fill="#111"  textLength="52.0" lengthAdjust="spacingAndGlyphs">NF35</text>
<rect x="468.3" y="569.4" width="56.9" height="29.8" fill="#fc4c4c" stroke="#e84444" stroke-width="1"/>
<text x="531.0" y="592.8" font-size="22" text-anchor="start" font-family="Liberation Serif, serif" font-weight="bold" fill="#111"  textLength="40.6" lengthAdjust="spacingAndGlyphs">NF2</text>
<defs><radialGradient id="dg1" cx="0.5" cy="0.95" r="0.7"><stop offset="0" stop-color="#5a5a60"/><stop offset="0.35" stop-color="#2c2c2e"/><stop offset="1" stop-color="#141414"/></radialGradient>
<radialGradient id="dg2" cx="0.5" cy="0.98" r="0.65"><stop offset="0" stop-color="#e8e8f0"/><stop offset="0.18" stop-color="#77777d"/><stop offset="0.5" stop-color="#2e2e30"/><stop offset="1" stop-color="#141414"/></radialGradient></defs>
<path d="M168,718.5 Q185,692 212,692 Q240,692 256.6,718.5 Z" fill="url(#dg1)"/>
<path d="M421.6,682.5 Q436,648 468,648 Q500,648 514.5,682.5 Z" fill="url(#dg2)"/>
<path d="M632.0,554.8 V962.7 H1170.2" fill="none" stroke="#111" stroke-width="2.1" stroke-linejoin="miter"/>
<path d="M632.0,555.8 H1169.2 V962.7" fill="none" stroke="#111" stroke-width="1.9" stroke-linejoin="miter"/>
<line x1="632.0" y1="962.7" x2="632.0" y2="970.7" stroke="#111" stroke-width="2.3" />
<text x="632.0" y="995.6" font-size="25.5" text-anchor="middle" font-family="Liberation Serif, serif" font-weight="bold" fill="#111" >4000</text>
<line x1="706.6" y1="962.7" x2="706.6" y2="970.7" stroke="#111" stroke-width="2.3" />
<text x="706.6" y="995.6" font-size="25.5" text-anchor="middle" font-family="Liberation Serif, serif" font-weight="bold" fill="#111" >3500</text>
<line x1="781.2" y1="962.7" x2="781.2" y2="970.7" stroke="#111" stroke-width="2.3" />
<text x="781.2" y="995.6" font-size="25.5" text-anchor="middle" font-family="Liberation Serif, serif" font-weight="bold" fill="#111" >3000</text>
<line x1="855.9" y1="962.7" x2="855.9" y2="970.7" stroke="#111" stroke-width="2.3" />
<text x="855.9" y="995.6" font-size="25.5" text-anchor="middle" font-family="Liberation Serif, serif" font-weight="bold" fill="#111" >2500</text>
<line x1="930.5" y1="962.7" x2="930.5" y2="970.7" stroke="#111" stroke-width="2.3" />
<text x="930.5" y="995.6" font-size="25.5" text-anchor="middle" font-family="Liberation Serif, serif" font-weight="bold" fill="#111" >2000</text>
<line x1="1005.1" y1="962.7" x2="1005.1" y2="970.7" stroke="#111" stroke-width="2.3" />
<text x="1005.1" y="995.6" font-size="25.5" text-anchor="middle" font-family="Liberation Serif, serif" font-weight="bold" fill="#111" >1500</text>
<line x1="1079.7" y1="962.7" x2="1079.7" y2="970.7" stroke="#111" stroke-width="2.3" />
<text x="1079.7" y="995.6" font-size="25.5" text-anchor="middle" font-family="Liberation Serif, serif" font-weight="bold" fill="#111" >1000</text>
<line x1="1154.3" y1="962.7" x2="1154.3" y2="970.7" stroke="#111" stroke-width="2.3" />
<text x="1154.3" y="995.6" font-size="25.5" text-anchor="middle" font-family="Liberation Serif, serif" font-weight="bold" fill="#111" >500</text>
<line x1="669.3" y1="962.7" x2="669.3" y2="966.7" stroke="#111" stroke-width="1.8399999999999999" />
<line x1="743.9" y1="962.7" x2="743.9" y2="966.7" stroke="#111" stroke-width="1.8399999999999999" />
<line x1="818.5" y1="962.7" x2="818.5" y2="966.7" stroke="#111" stroke-width="1.8399999999999999" />
<line x1="893.2" y1="962.7" x2="893.2" y2="966.7" stroke="#111" stroke-width="1.8399999999999999" />
<line x1="967.8" y1="962.7" x2="967.8" y2="966.7" stroke="#111" stroke-width="1.8399999999999999" />
<line x1="1042.4" y1="962.7" x2="1042.4" y2="966.7" stroke="#111" stroke-width="1.8399999999999999" />
<line x1="1117.0" y1="962.7" x2="1117.0" y2="966.7" stroke="#111" stroke-width="1.8399999999999999" />
<text x="878.5" y="1025.0" font-size="26.5" text-anchor="middle" font-family="Liberation Serif, serif" font-weight="bold" fill="#111"  textLength="234.0" lengthAdjust="spacingAndGlyphs">Wavenumber (cm<tspan dy="-10" font-size="16">-1</tspan><tspan dy="10">)</tspan></text>
<text transform="translate(620.0,759.0) rotate(-90)" font-size="26.5" text-anchor="middle" font-family="Liberation Serif, serif" font-weight="bold" fill="#111"  textLength="216.5" lengthAdjust="spacingAndGlyphs">Transmittance (%)</text>
<polyline points="632.1,597.3 634.8,596.8 640.0,595.9 646.2,595.5 653.2,595.5 658.9,596.5 663.3,598.4 667.0,599.2 670.0,598.8 672.6,600.3 674.9,603.7 677.3,608.8 680.0,615.9 683.0,626.4 686.6,640.4 690.1,655.4 693.6,671.2 697.1,686.1 700.6,700.1 704.1,711.6 707.6,720.3 711.0,726.8 714.1,731.0 716.9,732.8 719.4,732.1 722.2,729.1 725.4,723.8 728.7,717.3 732.2,709.4 736.6,700.6 741.9,690.9 747.1,681.7 752.4,672.9 757.7,665.5 762.9,659.3 767.8,654.7 772.1,651.5 776.1,649.5 779.6,648.6 782.2,649.8 784.0,652.9 785.8,660.6 787.5,672.9 789.3,685.7 791.0,698.8 792.5,699.7 793.7,688.3 795.1,678.2 796.5,669.4 797.8,664.0 799.0,661.9 800.5,663.0 802.3,667.4 803.8,664.1 805.2,653.0 806.8,645.9 808.6,642.7 811.6,639.9 816.0,637.5 822.6,634.8 831.4,632.0 840.2,629.4 849.0,626.9 856.0,625.0 861.2,623.6 866.5,623.6 871.8,625.0 874.8,626.6 875.7,628.3 876.6,628.2 877.5,626.3 878.5,626.3 879.8,628.2 881.1,628.7 882.5,627.6 886.3,627.5 892.4,628.4 898.1,629.6 903.4,631.0 908.6,631.2 913.9,630.4 920.1,628.3 927.1,625.2 933.2,623.2 938.5,622.5 944.6,622.5 951.7,623.2 956.9,625.2 960.4,628.3 963.5,634.3 966.1,643.1 968.3,650.5 970.1,656.7 971.8,661.5 973.6,665.0 975.4,670.7 977.1,678.6 978.9,685.9 980.6,692.6 982.4,697.4 984.1,700.4 985.9,700.1 987.6,696.6 989.4,692.2 991.2,687.0 993.4,683.0 996.0,680.4 998.4,677.1 1000.5,673.0 1002.7,671.1 1004.9,671.3 1007.0,674.2 1008.7,679.8 1010.5,683.0 1012.2,683.9 1014.9,683.9 1018.4,683.0 1020.7,683.5 1022.0,685.2 1023.7,683.2 1026.0,677.4 1028.5,674.1 1031.1,673.2 1034.2,671.7 1037.7,669.6 1041.6,667.7 1046.0,665.9 1049.5,665.9 1052.2,667.7 1054.8,670.7 1057.4,675.1 1059.6,679.5 1061.4,683.9 1063.4,686.5 1065.7,687.4 1067.9,688.7 1070.0,690.5 1072.4,691.2 1075.0,690.8 1077.2,687.8 1078.9,682.0 1081.1,673.8 1083.8,663.3 1086.4,654.9 1089.0,648.8 1092.1,643.1 1095.6,637.8 1099.6,633.7 1104.0,630.7 1108.3,629.0 1112.7,628.4 1116.7,629.0 1120.2,630.8 1124.1,630.8 1128.5,629.0 1131.8,627.5 1133.9,626.1 1135.6,625.8 1137.1,626.7 1139.1,625.9 1141.7,623.4 1143.9,621.9 1145.7,621.4 1147.4,618.9 1149.2,614.6 1150.9,608.8 1152.7,601.8 1154.4,597.6 1156.2,596.2 1158.4,595.8 1161.0,596.3 1163.2,596.1 1165.0,595.2 1166.5,596.6 1167.9,600.1 1168.7,601.8" fill="none" stroke="#d24a48" stroke-width="1.7" stroke-linejoin="round" stroke-linecap="round" />
<polyline points="632.1,757.0 634.8,756.8 640.0,756.5 644.4,757.0 647.9,758.4 651.0,758.4 653.6,757.0 656.3,757.0 658.9,758.4 661.5,760.0 664.2,761.8 666.8,761.7 669.4,759.7 671.6,760.8 673.4,764.8 675.6,774.8 678.2,790.6 680.9,809.9 683.5,832.7 686.1,852.9 688.8,870.4 691.4,885.4 694.0,897.6 697.1,908.2 700.6,917.0 704.1,924.9 707.6,931.9 710.4,936.3 712.5,938.0 715.0,938.2 717.8,936.8 721.1,933.7 725.0,929.0 728.9,922.8 732.7,915.3 736.7,910.5 740.7,908.4 744.9,904.7 749.3,899.4 753.7,895.2 758.1,892.0 762.5,887.2 766.9,880.7 770.8,874.8 774.3,869.6 776.8,866.5 778.2,865.6 779.8,867.4 781.5,871.8 783.5,878.3 785.6,887.1 787.8,894.8 790.1,901.5 792.0,903.3 793.6,900.1 795.2,895.9 797.0,890.6 798.7,887.1 800.5,885.4 802.3,881.4 804.0,875.3 806.0,864.7 808.3,849.8 810.8,839.3 813.4,833.1 816.5,827.9 820.0,823.5 823.5,819.5 827.0,816.0 830.5,812.1 834.0,807.7 837.5,802.7 841.1,797.1 845.0,792.9 849.4,790.3 853.8,787.4 858.2,784.2 862.1,782.8 865.6,783.2 868.7,783.6 871.3,784.1 873.3,786.0 874.5,789.2 875.6,789.6 876.7,787.3 877.8,788.2 879.1,792.2 880.6,792.8 882.3,790.0 884.5,788.3 887.1,787.6 890.2,788.4 893.7,790.9 896.8,793.5 899.4,796.3 902.5,797.9 906.0,798.3 909.5,796.9 913.0,793.7 916.5,789.3 920.1,783.7 923.6,778.4 927.1,773.5 930.6,769.8 934.1,767.4 938.9,765.7 945.1,764.8 950.3,765.4 954.7,767.6 958.2,770.8 960.9,775.2 963.1,781.8 964.8,790.6 966.4,802.0 967.8,816.0 969.1,832.7 970.4,852.0 971.6,870.4 972.8,888.0 974.1,905.1 975.5,921.8 977.3,932.8 979.4,938.0 981.3,942.2 983.1,945.1 984.8,945.1 986.6,942.2 988.2,934.1 989.6,920.9 991.0,907.3 992.4,893.3 994.0,880.5 995.7,869.1 997.5,861.7 999.2,858.1 1000.7,858.1 1002.0,861.7 1003.0,868.7 1003.9,879.2 1004.8,888.9 1005.6,897.6 1006.5,902.3 1007.4,902.8 1008.3,909.8 1009.2,923.4 1010.5,930.7 1012.2,932.0 1014.0,932.8 1015.7,933.4 1017.2,930.1 1018.5,923.1 1019.6,917.0 1020.7,911.7 1021.8,910.8 1023.0,914.3 1024.3,914.2 1025.5,910.3 1026.8,909.0 1028.2,910.2 1029.6,913.4 1031.0,918.7 1032.3,921.8 1033.6,922.7 1034.8,924.9 1036.0,928.4 1037.3,927.5 1038.7,922.2 1040.3,916.3 1042.1,909.8 1043.8,906.3 1045.6,905.8 1047.5,901.2 1049.6,892.4 1051.4,889.3 1052.8,891.9 1054.2,892.6 1055.6,891.2 1056.9,895.5 1058.1,905.7 1059.4,915.6 1060.6,925.3 1062.1,932.3 1063.8,936.7 1065.9,938.0 1068.1,936.3 1069.9,933.6 1071.1,930.1 1072.6,924.0 1074.4,915.2 1076.0,904.7 1077.4,892.4 1078.8,878.3 1080.2,862.5 1081.5,849.8 1082.7,840.2 1084.2,833.6 1086.0,830.1 1087.7,830.5 1089.5,834.9 1091.2,835.3 1093.0,831.8 1094.7,828.1 1096.5,824.3 1098.0,827.3 1099.2,837.3 1100.4,847.2 1101.4,856.8 1102.6,859.0 1103.8,853.8 1105.3,848.1 1107.0,841.9 1108.8,839.3 1110.5,840.2 1112.3,842.8 1114.1,847.2 1115.8,851.7 1117.6,856.5 1119.3,858.5 1121.1,857.8 1123.1,856.7 1125.4,855.3 1128.0,855.7 1131.0,857.8 1134.7,858.5 1139.1,857.8 1143.0,857.8 1146.5,858.5 1149.2,857.8 1150.9,855.7 1152.7,850.2 1154.4,841.5 1156.2,830.1 1157.9,816.0 1159.5,801.1 1160.9,785.3 1162.2,772.1 1163.5,761.6 1164.7,757.0 1165.9,758.4 1167.1,759.1 1168.1,759.1 1168.7,759.1" fill="none" stroke="#454545" stroke-width="1.7" stroke-linejoin="round" stroke-linecap="round" />
<text x="898.5" y="621.0" font-size="25" text-anchor="middle" font-family="Liberation Serif, serif" font-weight="bold" fill="#111" >NF2</text>
<text x="894.0" y="774.0" font-size="25" text-anchor="middle" font-family="Liberation Serif, serif" font-weight="bold" fill="#111" >NF35</text>
<clipPath id="cf"><rect x="1221.6" y="559.9" width="528.1000000000001" height="408.9"/></clipPath>
<polygon points="1223.2,885.2 1224.8,883.6 1226.5,882.8 1228.1,882.6 1229.8,883.0 1231.4,881.0 1233.1,880.5 1234.7,878.9 1236.4,879.8 1238.0,879.7 1239.7,877.5 1241.3,878.3 1243.0,876.4 1244.6,873.8 1246.3,871.8 1247.9,870.8 1249.6,868.8 1251.2,867.9 1252.9,867.3 1254.5,865.5 1256.2,863.2 1257.8,859.7 1259.5,857.7 1261.1,857.0 1262.8,853.9 1264.4,850.7 1266.1,850.5 1267.7,849.8 1269.4,847.0 1271.0,847.4 1272.7,846.1 1274.3,843.2 1276.0,842.0 1277.6,841.5 1279.3,842.4 1280.9,842.9 1282.6,841.7 1284.2,843.3 1285.9,843.6 1287.5,842.5 1289.2,844.4 1290.8,843.1 1292.5,843.0 1294.1,845.6 1295.8,844.8 1297.4,845.6 1299.1,845.9 1300.7,847.9 1302.4,848.2 1304.0,847.4 1305.7,849.5 1307.3,849.7 1309.0,849.6 1310.6,850.8 1312.3,851.5 1313.9,853.2 1315.6,853.4 1317.2,853.2 1318.9,854.7 1320.5,855.4 1322.2,854.6 1323.8,854.0 1325.5,853.3 1327.1,853.4 1328.8,854.0 1330.4,852.2 1332.1,853.3 1333.7,851.8 1335.4,851.9 1337.0,851.5 1338.7,850.8 1340.3,851.1 1342.0,849.4 1343.6,849.6 1345.3,847.1 1346.9,845.1 1348.6,842.4 1350.2,840.9 1351.9,833.7 1353.5,825.4 1355.2,818.9 1356.8,811.3 1358.5,803.0 1360.1,795.7 1361.8,794.1 1363.4,797.0 1365.1,800.1 1366.7,803.0 1368.4,803.9 1370.0,805.2 1371.7,808.3 1373.3,809.6 1375.0,812.8 1376.6,812.3 1378.3,814.0 1379.9,814.2 1381.6,816.2 1383.2,816.6 1384.9,817.2 1386.5,818.5 1388.2,820.9 1389.8,822.3 1391.5,822.7 1393.1,824.1 1394.8,823.6 1396.4,824.7 1398.1,827.5 1399.7,828.8 1401.4,828.8 1403.0,828.9 1404.7,830.2 1406.3,831.8 1408.0,831.7 1409.6,833.1 1411.3,834.0 1412.9,835.4 1414.6,835.7 1416.2,836.7 1417.9,836.8 1419.5,838.0 1421.2,837.3 1422.8,839.1 1424.5,839.3 1426.1,838.9 1427.8,839.6 1429.4,840.4 1431.1,841.2 1432.7,840.7 1434.4,842.1 1436.0,844.0 1437.7,845.0 1439.3,844.8 1441.0,845.7 1442.6,847.6 1444.3,848.3 1445.9,849.5 1447.6,850.1 1449.2,851.9 1450.9,851.7 1452.5,852.8 1454.2,852.7 1455.8,855.8 1457.5,856.1 1459.1,855.4 1460.8,856.6 1462.4,859.0 1464.1,859.7 1465.7,859.7 1467.4,860.6 1469.0,860.6 1470.7,862.9 1472.3,863.4 1474.0,863.1 1475.6,864.6 1477.3,865.5 1478.9,866.7 1480.6,868.2 1482.2,867.9 1483.9,869.1 1485.5,870.3 1487.2,869.7 1488.8,871.6 1490.5,871.5 1492.1,871.7 1493.8,873.2 1495.4,874.2 1497.1,874.1 1498.7,874.0 1500.4,874.8 1502.0,875.6 1503.7,875.5 1505.3,875.5 1507.0,877.0 1508.6,878.2 1510.3,877.1 1511.9,877.5 1513.6,878.5 1515.2,879.5 1516.9,879.7 1518.5,879.9 1520.2,880.5 1521.8,881.0 1523.5,881.5 1525.1,882.3 1526.8,882.8 1528.4,882.4 1530.1,883.9 1531.7,884.1 1533.4,884.6 1535.0,884.2 1536.7,884.2 1538.3,885.0 1540.0,884.8 1541.6,885.6 1543.3,885.5 1544.9,885.1 1546.6,886.4 1548.2,884.8 1549.9,884.5 1551.5,885.3 1553.2,884.3 1554.8,886.3 1556.5,885.8 1558.1,884.4 1559.8,885.6 1561.4,886.2 1563.1,886.9 1564.7,886.8 1566.4,886.7 1568.0,887.1 1569.7,888.5 1571.3,887.1 1573.0,887.8 1574.6,889.8 1576.3,888.3 1577.9,889.6 1579.6,889.9 1581.2,889.3 1582.9,889.4 1584.5,891.5 1586.2,890.4 1587.8,891.6 1589.5,892.8 1591.1,891.6 1592.8,891.5 1594.4,891.8 1596.1,892.8 1597.7,894.3 1599.4,895.5 1601.0,895.1 1602.7,896.5 1604.3,896.8 1606.0,896.4 1607.6,897.8 1609.3,898.5 1610.9,899.1 1612.6,898.8 1614.2,898.7 1615.9,897.9 1617.5,898.8 1619.2,900.2 1620.8,899.3 1622.5,900.2 1624.1,901.4 1625.8,900.6 1627.4,901.5 1629.1,901.6 1630.7,903.3 1632.4,903.6 1634.0,904.2 1635.7,902.8 1637.3,903.8 1639.0,905.0 1640.6,904.3 1642.3,905.4 1643.9,905.8 1645.6,907.4 1647.2,906.8 1648.9,906.3 1650.5,907.5 1652.2,908.4 1653.8,907.9 1655.5,908.2 1657.1,907.9 1658.8,909.5 1660.4,907.4 1662.1,907.7 1663.7,909.7 1665.4,907.8 1667.0,909.3 1668.7,910.5 1670.3,910.5 1672.0,910.8 1673.6,910.5 1675.3,910.7 1676.9,909.4 1678.6,911.4 1680.2,910.0 1681.9,909.7 1683.5,910.0 1685.2,910.4 1686.8,910.5 1688.5,912.6 1690.1,911.3 1691.8,912.6 1693.4,911.8 1695.1,913.2 1696.7,912.2 1698.4,911.3 1700.0,913.4 1701.7,911.7 1703.3,912.9 1705.0,914.3 1706.6,913.2 1708.3,912.5 1709.9,913.5 1711.6,914.6 1713.2,915.0 1714.9,914.2 1716.5,914.2 1718.2,913.8 1719.8,915.0 1721.5,914.9 1723.1,914.0 1724.8,915.3 1726.4,914.2 1728.1,914.2 1729.7,915.2 1731.4,914.1 1733.0,915.6 1734.7,916.3 1736.3,916.2 1738.0,915.2 1739.6,916.6 1741.3,915.2 1742.9,914.9 1744.6,915.3 1746.2,916.6 1747.9,915.3 1749.5,916.9 1749.5,923.1 1747.9,923.6 1746.2,923.2 1744.6,923.7 1742.9,921.5 1741.3,921.3 1739.6,922.6 1738.0,922.1 1736.3,922.0 1734.7,922.7 1733.0,922.2 1731.4,922.2 1729.7,921.0 1728.1,922.8 1726.4,920.6 1724.8,922.8 1723.1,920.4 1721.5,922.0 1719.8,921.3 1718.2,920.7 1716.5,922.4 1714.9,921.6 1713.2,921.2 1711.6,921.2 1709.9,919.6 1708.3,919.9 1706.6,920.5 1705.0,919.8 1703.3,920.1 1701.7,919.8 1700.0,920.8 1698.4,920.0 1696.7,920.0 1695.1,920.2 1693.4,918.2 1691.8,918.4 1690.1,919.5 1688.5,918.4 1686.8,917.7 1685.2,919.2 1683.5,917.7 1681.9,917.0 1680.2,916.8 1678.6,916.6 1676.9,917.7 1675.3,918.1 1673.6,918.1 1672.0,917.0 1670.3,917.5 1668.7,917.4 1667.0,916.3 1665.4,917.1 1663.7,916.5 1662.1,917.3 1660.4,915.4 1658.8,915.2 1657.1,916.1 1655.5,914.7 1653.8,914.4 1652.2,914.4 1650.5,914.4 1648.9,914.1 1647.2,914.0 1645.6,915.6 1643.9,913.3 1642.3,914.7 1640.6,913.4 1639.0,911.9 1637.3,911.0 1635.7,912.0 1634.0,910.2 1632.4,911.3 1630.7,909.3 1629.1,910.7 1627.4,909.9 1625.8,909.3 1624.1,908.2 1622.5,907.4 1620.8,907.5 1619.2,907.1 1617.5,908.0 1615.9,906.6 1614.2,906.4 1612.6,905.4 1610.9,906.0 1609.3,905.3 1607.6,904.2 1606.0,904.2 1604.3,903.7 1602.7,904.1 1601.0,904.2 1599.4,903.6 1597.7,903.0 1596.1,901.3 1594.4,902.3 1592.8,900.2 1591.1,899.3 1589.5,900.1 1587.8,898.9 1586.2,898.7 1584.5,899.4 1582.9,898.4 1581.2,898.0 1579.6,897.7 1577.9,896.9 1576.3,898.5 1574.6,897.7 1573.0,897.7 1571.3,897.5 1569.7,895.8 1568.0,896.7 1566.4,896.5 1564.7,894.1 1563.1,895.5 1561.4,895.3 1559.8,894.3 1558.1,894.7 1556.5,894.8 1554.8,893.3 1553.2,893.4 1551.5,894.0 1549.9,893.3 1548.2,893.3 1546.6,894.0 1544.9,894.6 1543.3,893.7 1541.6,893.8 1540.0,893.8 1538.3,893.3 1536.7,892.7 1535.0,892.2 1533.4,893.2 1531.7,891.4 1530.1,892.9 1528.4,891.7 1526.8,890.9 1525.1,890.9 1523.5,891.5 1521.8,889.5 1520.2,891.0 1518.5,890.0 1516.9,889.0 1515.2,889.6 1513.6,886.8 1511.9,886.7 1510.3,887.2 1508.6,885.4 1507.0,887.0 1505.3,884.3 1503.7,885.1 1502.0,884.2 1500.4,883.4 1498.7,882.3 1497.1,882.0 1495.4,883.3 1493.8,881.8 1492.1,880.8 1490.5,881.7 1488.8,881.5 1487.2,880.6 1485.5,879.8 1483.9,877.7 1482.2,876.6 1480.6,875.6 1478.9,876.6 1477.3,875.2 1475.6,873.7 1474.0,873.3 1472.3,873.4 1470.7,871.4 1469.0,869.8 1467.4,870.0 1465.7,869.0 1464.1,867.6 1462.4,866.8 1460.8,866.4 1459.1,866.6 1457.5,865.8 1455.8,865.0 1454.2,864.4 1452.5,861.7 1450.9,862.1 1449.2,859.9 1447.6,859.3 1445.9,859.0 1444.3,857.5 1442.6,856.6 1441.0,855.1 1439.3,854.7 1437.7,853.9 1436.0,853.7 1434.4,851.2 1432.7,852.4 1431.1,850.4 1429.4,851.6 1427.8,850.6 1426.1,850.8 1424.5,849.2 1422.8,848.5 1421.2,848.5 1419.5,848.1 1417.9,847.1 1416.2,846.6 1414.6,846.4 1412.9,844.0 1411.3,843.6 1409.6,842.9 1408.0,841.5 1406.3,842.8 1404.7,841.0 1403.0,841.1 1401.4,840.1 1399.7,838.6 1398.1,836.1 1396.4,836.8 1394.8,834.3 1393.1,832.8 1391.5,831.6 1389.8,831.8 1388.2,831.5 1386.5,829.0 1384.9,829.5 1383.2,827.4 1381.6,826.3 1379.9,826.2 1378.3,823.7 1376.6,824.0 1375.0,822.7 1373.3,821.4 1371.7,819.0 1370.0,817.0 1368.4,815.7 1366.7,813.9 1365.1,810.6 1363.4,806.7 1361.8,803.3 1360.1,806.4 1358.5,813.5 1356.8,821.3 1355.2,828.6 1353.5,836.7 1351.9,845.7 1350.2,849.9 1348.6,853.0 1346.9,854.6 1345.3,859.0 1343.6,860.6 1342.0,859.6 1340.3,860.9 1338.7,861.7 1337.0,863.4 1335.4,864.1 1333.7,863.5 1332.1,863.9 1330.4,865.0 1328.8,864.5 1327.1,864.3 1325.5,865.5 1323.8,864.2 1322.2,866.1 1320.5,865.0 1318.9,865.3 1317.2,864.6 1315.6,864.3 1313.9,864.1 1312.3,861.9 1310.6,861.4 1309.0,861.1 1307.3,861.9 1305.7,860.0 1304.0,859.0 1302.4,858.1 1300.7,857.8 1299.1,858.8 1297.4,858.4 1295.8,855.7 1294.1,857.1 1292.5,855.9 1290.8,854.3 1289.2,855.1 1287.5,855.5 1285.9,854.9 1284.2,853.0 1282.6,853.3 1280.9,853.2 1279.3,854.5 1277.6,852.7 1276.0,854.6 1274.3,856.1 1272.7,855.8 1271.0,858.3 1269.4,859.9 1267.7,860.3 1266.1,861.5 1264.4,863.0 1262.8,865.2 1261.1,866.6 1259.5,869.8 1257.8,873.4 1256.2,874.3 1254.5,876.1 1252.9,877.5 1251.2,878.6 1249.6,880.7 1247.9,883.8 1246.3,884.5 1244.6,885.4 1243.0,888.5 1241.3,890.0 1239.7,889.3 1238.0,890.2 1236.4,890.8 1234.7,890.8 1233.1,891.6 1231.4,892.6 1229.8,894.7 1228.1,895.2 1226.5,896.7 1224.8,896.7 1223.2,897.9" fill="#454545" fill-opacity="0.8" clip-path="url(#cf)"/>
<polyline points="1221.9,882.1 1222.2,893.2 1222.5,885.1 1222.8,880.3 1223.2,890.1 1223.5,890.2 1223.8,885.1 1224.2,895.0 1224.5,879.9 1224.8,894.1 1225.2,899.4 1225.5,879.7 1225.8,888.1 1226.1,883.0 1226.5,894.8 1226.8,885.2 1227.1,883.3 1227.5,894.8 1227.8,898.8 1228.1,882.0 1228.5,898.5 1228.8,886.2 1229.1,898.7 1229.4,873.5 1229.8,885.8 1230.1,898.8 1230.4,884.1 1230.8,897.2 1231.1,877.3 1231.4,884.7 1231.8,876.4 1232.1,883.9 1232.4,878.7 1232.7,880.4 1233.1,893.7 1233.4,885.9 1233.7,895.5 1234.1,883.3 1234.4,875.9 1234.7,892.7 1235.1,876.3 1235.4,880.4 1235.7,894.2 1236.0,880.4 1236.4,887.8 1236.7,877.8 1237.0,890.5 1237.4,887.7 1237.7,874.4 1238.0,884.0 1238.4,879.0 1238.7,884.1 1239.0,877.2 1239.3,889.1 1239.7,889.7 1240.0,880.7 1240.3,874.4 1240.7,888.9 1241.0,869.1 1241.3,884.2 1241.7,893.5 1242.0,873.8 1242.3,882.6 1242.6,881.2 1243.0,880.2 1243.3,889.1 1243.6,873.1 1244.0,876.5 1244.3,877.9 1244.6,873.8 1245.0,888.3 1245.3,875.9 1245.6,889.9 1245.9,873.2 1246.3,882.0 1246.6,885.2 1246.9,891.4 1247.3,873.2 1247.6,870.7 1247.9,878.8 1248.3,875.6 1248.6,882.3 1248.9,867.6 1249.2,878.3 1249.6,872.6 1249.9,877.2 1250.2,865.2 1250.6,870.7 1250.9,867.3 1251.2,867.4 1251.6,864.8 1251.9,874.1 1252.2,864.0 1252.5,876.6 1252.9,867.4 1253.2,873.2 1253.5,869.6 1253.9,881.7 1254.2,864.3 1254.5,860.9 1254.9,876.9 1255.2,877.9 1255.5,858.6 1255.8,870.2 1256.2,877.5 1256.5,868.4 1256.8,863.3 1257.2,876.5 1257.5,866.8 1257.8,876.4 1258.2,876.2 1258.5,856.1 1258.8,862.7 1259.1,867.2 1259.5,857.0 1259.8,871.1 1260.1,856.5 1260.5,860.7 1260.8,859.9 1261.1,856.5 1261.5,862.7 1261.8,851.1 1262.1,852.4 1262.4,861.1 1262.8,855.5 1263.1,862.5 1263.4,856.7 1263.8,860.7 1264.1,852.1 1264.4,863.2 1264.8,848.5 1265.1,854.9 1265.4,854.9 1265.7,846.2 1266.1,846.8 1266.4,846.0 1266.7,852.6 1267.1,847.3 1267.4,865.2 1267.7,861.1 1268.1,863.9 1268.4,846.9 1268.7,867.4 1269.0,850.4 1269.4,846.1 1269.7,845.5 1270.0,861.7 1270.4,847.6 1270.7,846.6 1271.0,845.4 1271.4,860.2 1271.7,857.6 1272.0,852.1 1272.3,848.2 1272.7,852.1 1273.0,861.1 1273.3,848.2 1273.7,845.3 1274.0,851.6 1274.3,855.3 1274.7,840.0 1275.0,844.1 1275.3,859.2 1275.6,852.3 1276.0,832.9 1276.3,846.9 1276.6,856.4 1277.0,842.2 1277.3,832.6 1277.6,844.6 1278.0,849.4 1278.3,841.5 1278.6,847.2 1278.9,856.9 1279.3,840.5 1279.6,853.8 1279.9,840.5 1280.3,851.0 1280.6,844.9 1280.9,846.9 1281.3,860.7 1281.6,848.8 1281.9,840.0 1282.2,856.9 1282.6,849.3 1282.9,850.6 1283.2,851.3 1283.6,841.6 1283.9,842.2 1284.2,856.6 1284.6,855.7 1284.9,847.8 1285.2,847.6 1285.5,840.4 1285.9,839.1 1286.2,855.9 1286.5,843.9 1286.9,847.5 1287.2,849.3 1287.5,851.8 1287.9,838.9 1288.2,843.5 1288.5,858.2 1288.8,845.5 1289.2,845.5 1289.5,853.1 1289.8,859.1 1290.2,856.2 1290.5,856.7 1290.8,853.9 1291.2,853.1 1291.5,857.9 1291.8,839.8 1292.1,858.5 1292.5,838.7 1292.8,852.7 1293.1,857.4 1293.5,852.0 1293.8,856.8 1294.1,862.5 1294.5,859.7 1294.8,844.6 1295.1,841.2 1295.4,857.3 1295.8,857.7 1296.1,842.9 1296.4,845.2 1296.8,849.0 1297.1,846.5 1297.4,856.1 1297.8,851.8 1298.1,855.5 1298.4,850.2 1298.7,857.7 1299.1,856.5 1299.4,844.0 1299.7,842.4 1300.1,846.5 1300.4,867.4 1300.7,852.7 1301.1,852.9 1301.4,859.9 1301.7,862.3 1302.0,847.5 1302.4,853.5 1302.7,859.5 1303.0,859.6 1303.4,850.9 1303.7,851.8 1304.0,845.7 1304.4,849.4 1304.7,854.4 1305.0,862.3 1305.3,853.8 1305.7,859.9 1306.0,851.3 1306.3,862.0 1306.7,860.0 1307.0,854.0 1307.3,857.0 1307.7,850.1 1308.0,851.6 1308.3,862.7 1308.6,848.8 1309.0,852.4 1309.3,849.8 1309.6,860.9 1310.0,865.7 1310.3,854.1 1310.6,862.6 1311.0,859.5 1311.3,850.9 1311.6,847.5 1311.9,863.0 1312.3,857.2 1312.6,859.4 1312.9,862.3 1313.3,856.2 1313.6,862.7 1313.9,852.3 1314.3,862.0 1314.6,861.7 1314.9,857.3 1315.2,860.9 1315.6,856.8 1315.9,853.5 1316.2,857.8 1316.6,857.0 1316.9,867.6 1317.2,862.2 1317.6,873.6 1317.9,860.2 1318.2,865.1 1318.5,859.9 1318.9,861.2 1319.2,862.6 1319.5,860.3 1319.9,868.9 1320.2,863.5 1320.5,865.1 1320.9,850.8 1321.2,856.7 1321.5,858.0 1321.8,863.6 1322.2,854.8 1322.5,860.1 1322.8,865.5 1323.2,853.7 1323.5,864.9 1323.8,862.1 1324.2,868.6 1324.5,862.1 1324.8,865.6 1325.1,855.1 1325.5,851.6 1325.8,854.5 1326.1,854.1 1326.5,849.6 1326.8,863.4 1327.1,853.8 1327.5,861.6 1327.8,856.1 1328.1,869.4 1328.4,865.3 1328.8,864.4 1329.1,844.2 1329.4,867.7 1329.8,853.6 1330.1,851.4 1330.4,864.0 1330.8,864.3 1331.1,866.2 1331.4,864.0 1331.7,866.2 1332.1,865.1 1332.4,863.1 1332.7,865.9 1333.1,853.5 1333.4,851.0 1333.7,849.3 1334.1,857.9 1334.4,868.7 1334.7,864.5 1335.0,858.9 1335.4,864.3 1335.7,849.0 1336.0,861.4 1336.4,859.4 1336.7,865.6 1337.0,866.5 1337.4,847.6 1337.7,859.2 1338.0,863.8 1338.3,856.0 1338.7,861.8 1339.0,857.4 1339.3,852.1 1339.7,854.2 1340.0,851.5 1340.3,865.3 1340.7,852.2 1341.0,857.4 1341.3,864.0 1341.6,859.8 1342.0,856.7 1342.3,849.1 1342.6,857.2 1343.0,860.7 1343.3,857.1 1343.6,857.3 1344.0,849.0 1344.3,853.4 1344.6,845.9 1344.9,844.2 1345.3,860.9 1345.6,857.9 1345.9,847.0 1346.3,849.8 1346.6,849.5 1346.9,863.1 1347.3,842.3 1347.6,850.8 1347.9,847.3 1348.2,846.1 1348.6,856.4 1348.9,839.6 1349.2,841.2 1349.6,832.1 1349.9,849.5 1350.2,854.5 1350.6,835.4 1350.9,839.3 1351.2,834.2 1351.5,847.1 1351.9,847.0 1352.2,842.5 1352.5,845.2 1352.9,844.2 1353.2,819.2 1353.5,834.8 1353.9,834.6 1354.2,835.6 1354.5,818.3 1354.8,826.7 1355.2,827.0 1355.5,824.7 1355.8,818.7 1356.2,824.2 1356.5,822.6 1356.8,809.5 1357.2,820.3 1357.5,814.5 1357.8,817.4 1358.1,805.7 1358.5,815.4 1358.8,814.1 1359.1,798.5 1359.5,798.7 1359.8,803.5 1360.1,811.5 1360.5,805.9 1360.8,792.9 1361.1,803.1 1361.4,805.9 1361.8,790.6 1362.1,804.2 1362.4,795.0 1362.8,804.3 1363.1,796.0 1363.4,807.2 1363.8,809.0 1364.1,798.7 1364.4,812.3 1364.7,805.8 1365.1,807.8 1365.4,810.4 1365.7,808.1 1366.1,807.6 1366.4,798.8 1366.7,805.5 1367.1,801.7 1367.4,805.7 1367.7,795.2 1368.0,818.8 1368.4,809.5 1368.7,808.7 1369.0,815.6 1369.4,819.8 1369.7,802.3 1370.0,805.5 1370.4,819.1 1370.7,820.9 1371.0,804.3 1371.3,811.1 1371.7,822.2 1372.0,822.5 1372.3,812.1 1372.7,808.0 1373.0,824.3 1373.3,806.4 1373.7,823.3 1374.0,807.3 1374.3,820.3 1374.6,830.6 1375.0,810.2 1375.3,813.5 1375.6,822.7 1376.0,814.6 1376.3,811.0 1376.6,812.1 1377.0,809.3 1377.3,810.1 1377.6,827.1 1377.9,827.5 1378.3,826.8 1378.6,827.8 1378.9,822.3 1379.3,817.0 1379.6,819.8 1379.9,813.7 1380.3,821.7 1380.6,827.9 1380.9,819.4 1381.2,816.9 1381.6,818.3 1381.9,829.3 1382.2,835.5 1382.6,829.6 1382.9,816.8 1383.2,818.5 1383.6,832.0 1383.9,831.0 1384.2,819.1 1384.5,815.0 1384.9,819.6 1385.2,820.7 1385.5,814.5 1385.9,824.7 1386.2,823.1 1386.5,819.2 1386.9,829.9 1387.2,816.4 1387.5,817.4 1387.8,825.3 1388.2,820.1 1388.5,827.4 1388.8,817.8 1389.2,824.5 1389.5,818.1 1389.8,823.5 1390.2,817.7 1390.5,826.6 1390.8,822.9 1391.1,833.7 1391.5,821.3 1391.8,828.2 1392.1,828.4 1392.5,832.3 1392.8,835.3 1393.1,832.7 1393.5,835.9 1393.8,829.0 1394.1,829.9 1394.4,820.5 1394.8,824.5 1395.1,838.8 1395.4,822.6 1395.8,821.8 1396.1,832.4 1396.4,831.2 1396.8,837.0 1397.1,824.1 1397.4,831.4 1397.7,824.5 1398.1,825.0 1398.4,833.3 1398.7,825.9 1399.1,840.6 1399.4,831.1 1399.7,833.3 1400.1,830.0 1400.4,830.2 1400.7,842.4 1401.0,841.3 1401.4,843.5 1401.7,842.1 1402.0,832.8 1402.4,831.9 1402.7,826.7 1403.0,835.0 1403.4,840.2 1403.7,837.8 1404.0,842.6 1404.3,827.0 1404.7,831.5 1405.0,843.8 1405.3,831.5 1405.7,835.1 1406.0,832.5 1406.3,839.3 1406.7,837.0 1407.0,836.3 1407.3,830.6 1407.6,830.5 1408.0,835.7 1408.3,838.5 1408.6,839.8 1409.0,840.7 1409.3,842.0 1409.6,839.2 1410.0,833.7 1410.3,838.8 1410.6,841.1 1410.9,836.2 1411.3,834.3 1411.6,848.2 1411.9,844.4 1412.3,831.6 1412.6,838.1 1412.9,837.9 1413.3,835.0 1413.6,844.6 1413.9,837.4 1414.2,843.8 1414.6,847.2 1414.9,845.4 1415.2,840.6 1415.6,845.1 1415.9,834.6 1416.2,832.5 1416.6,850.2 1416.9,840.4 1417.2,848.9 1417.5,840.0 1417.9,841.6 1418.2,843.5 1418.5,839.3 1418.9,849.1 1419.2,841.7 1419.5,839.3 1419.9,835.4 1420.2,839.9 1420.5,849.3 1420.8,837.9 1421.2,854.6 1421.5,843.4 1421.8,848.5 1422.2,852.7 1422.5,844.1 1422.8,841.8 1423.2,852.1 1423.5,844.5 1423.8,841.9 1424.1,845.4 1424.5,851.3 1424.8,846.7 1425.1,841.7 1425.5,850.4 1425.8,841.5 1426.1,850.8 1426.5,848.4 1426.8,853.9 1427.1,843.7 1427.4,841.4 1427.8,845.4 1428.1,847.3 1428.4,854.5 1428.8,837.4 1429.1,850.9 1429.4,851.0 1429.8,847.5 1430.1,840.6 1430.4,847.1 1430.7,848.9 1431.1,855.3 1431.4,840.2 1431.7,839.4 1432.1,840.7 1432.4,852.5 1432.7,855.1 1433.1,843.7 1433.4,844.4 1433.7,842.9 1434.0,854.5 1434.4,844.6 1434.7,854.4 1435.0,855.8 1435.4,849.8 1435.7,839.6 1436.0,854.4 1436.4,844.7 1436.7,856.7 1437.0,856.7 1437.3,846.8 1437.7,844.0 1438.0,854.5 1438.3,843.6 1438.7,844.0 1439.0,846.1 1439.3,843.1 1439.7,842.4 1440.0,856.2 1440.3,846.0 1440.6,846.9 1441.0,842.7 1441.3,854.9 1441.6,847.3 1442.0,845.0 1442.3,857.8 1442.6,845.9 1443.0,860.3 1443.3,860.4 1443.6,847.7 1443.9,846.2 1444.3,848.7 1444.6,848.7 1444.9,848.3 1445.3,846.9 1445.6,854.5 1445.9,858.8 1446.3,850.8 1446.6,847.0 1446.9,860.8 1447.2,857.6 1447.6,856.1 1447.9,847.5 1448.2,850.5 1448.6,859.4 1448.9,854.0 1449.2,860.8 1449.6,850.2 1449.9,859.5 1450.2,853.9 1450.5,859.5 1450.9,852.5 1451.2,851.5 1451.5,864.6 1451.9,863.2 1452.2,849.6 1452.5,852.6 1452.9,854.8 1453.2,852.6 1453.5,859.7 1453.8,854.3 1454.2,862.0 1454.5,863.8 1454.8,851.1 1455.2,862.1 1455.5,855.0 1455.8,864.7 1456.2,852.5 1456.5,858.1 1456.8,865.9 1457.1,853.1 1457.5,859.1 1457.8,866.4 1458.1,859.5 1458.5,864.4 1458.8,861.3 1459.1,854.7 1459.5,866.8 1459.8,862.4 1460.1,864.2 1460.4,855.4 1460.8,859.6 1461.1,855.9 1461.4,865.4 1461.8,858.1 1462.1,861.8 1462.4,860.3 1462.8,864.2 1463.1,868.7 1463.4,867.9 1463.7,866.5 1464.1,863.1 1464.4,860.2 1464.7,856.4 1465.1,860.4 1465.4,867.9 1465.7,857.8 1466.1,856.1 1466.4,856.4 1466.7,869.4 1467.0,869.0 1467.4,866.5 1467.7,860.2 1468.0,857.2 1468.4,868.4 1468.7,873.6 1469.0,861.9 1469.4,871.1 1469.7,863.0 1470.0,869.1 1470.3,874.2 1470.7,872.0 1471.0,861.8 1471.3,864.3 1471.7,868.4 1472.0,873.4 1472.3,859.9 1472.7,871.6 1473.0,875.9 1473.3,868.3 1473.6,865.1 1474.0,861.5 1474.3,876.9 1474.6,861.1 1475.0,863.9 1475.3,860.8 1475.6,875.6 1476.0,872.5 1476.3,868.5 1476.6,869.0 1476.9,875.8 1477.3,864.6 1477.6,867.9 1477.9,863.6 1478.3,870.2 1478.6,878.0 1478.9,879.3 1479.3,863.8 1479.6,873.4 1479.9,872.9 1480.2,871.5 1480.6,868.6 1480.9,866.8 1481.2,871.4 1481.6,875.2 1481.9,874.0 1482.2,873.3 1482.6,867.5 1482.9,874.0 1483.2,879.5 1483.5,866.6 1483.9,869.4 1484.2,875.0 1484.5,874.2 1484.9,867.0 1485.2,867.0 1485.5,880.6 1485.9,868.1 1486.2,878.6 1486.5,880.6 1486.8,869.5 1487.2,876.4 1487.5,867.9 1487.8,872.4 1488.2,877.3 1488.5,872.5 1488.8,874.7 1489.2,877.1 1489.5,882.4 1489.8,880.4 1490.1,880.8 1490.5,881.9 1490.8,884.1 1491.1,868.9 1491.5,870.0 1491.8,882.0 1492.1,884.1 1492.5,876.1 1492.8,878.5 1493.1,869.2 1493.4,882.4 1493.8,878.3 1494.1,871.5 1494.4,878.3 1494.8,882.9 1495.1,869.7 1495.4,872.1 1495.8,870.2 1496.1,883.5 1496.4,876.4 1496.7,872.6 1497.1,876.6 1497.4,875.7 1497.7,885.2 1498.1,871.1 1498.4,876.5 1498.7,880.2 1499.1,880.3 1499.4,871.1 1499.7,891.4 1500.0,873.4 1500.4,875.6 1500.7,880.7 1501.0,887.2 1501.4,871.9 1501.7,884.3 1502.0,884.5 1502.4,876.4 1502.7,886.3 1503.0,883.2 1503.3,884.7 1503.7,880.6 1504.0,878.2 1504.3,877.9 1504.7,888.8 1505.0,878.6 1505.3,876.5 1505.7,887.2 1506.0,880.2 1506.3,877.9 1506.6,874.1 1507.0,878.2 1507.3,878.8 1507.6,883.0 1508.0,876.4 1508.3,889.9 1508.6,886.4 1509.0,881.7 1509.3,878.4 1509.6,874.3 1509.9,878.4 1510.3,877.7 1510.6,888.5 1510.9,877.6 1511.3,890.3 1511.6,875.8 1511.9,889.1 1512.3,883.6 1512.6,885.4 1512.9,878.4 1513.2,887.4 1513.6,881.8 1513.9,881.4 1514.2,885.6 1514.6,883.6 1514.9,879.8 1515.2,875.9 1515.6,876.7 1515.9,887.7 1516.2,877.5 1516.5,878.4 1516.9,877.6 1517.2,885.9 1517.5,887.1 1517.9,881.9 1518.2,880.8 1518.5,889.2 1518.9,892.8 1519.2,881.4 1519.5,892.4 1519.8,877.2 1520.2,887.9 1520.5,881.0 1520.8,875.5 1521.2,876.7 1521.5,885.8 1521.8,880.7 1522.2,880.7 1522.5,892.9 1522.8,878.5 1523.1,882.0 1523.5,886.3 1523.8,885.7 1524.1,893.0 1524.5,892.2 1524.8,888.9 1525.1,895.5 1525.5,893.5 1525.8,888.8 1526.1,882.8 1526.4,885.8 1526.8,882.2 1527.1,895.0 1527.4,888.2 1527.8,893.0 1528.1,883.5 1528.4,892.5 1528.8,893.7 1529.1,890.4 1529.4,886.7 1529.7,893.8 1530.1,893.8 1530.4,882.6 1530.7,895.7 1531.1,880.1 1531.4,899.4 1531.7,894.6 1532.1,882.7 1532.4,881.5 1532.7,894.9 1533.0,894.4 1533.4,880.8 1533.7,880.9 1534.0,884.1 1534.4,879.0 1534.7,896.4 1535.0,894.7 1535.4,887.5 1535.7,891.7 1536.0,892.6 1536.3,882.7 1536.7,888.9 1537.0,896.5 1537.3,892.8 1537.7,884.0 1538.0,878.9 1538.3,889.4 1538.7,881.5 1539.0,891.9 1539.3,890.3 1539.6,897.2 1540.0,893.1 1540.3,897.2 1540.6,887.9 1541.0,884.1 1541.3,881.9 1541.6,896.5 1542.0,885.6 1542.3,883.6 1542.6,894.3 1542.9,882.6 1543.3,887.0 1543.6,901.0 1543.9,893.7 1544.3,889.9 1544.6,897.6 1544.9,891.8 1545.3,888.1 1545.6,891.5 1545.9,886.9 1546.2,890.4 1546.6,891.5 1546.9,893.3 1547.2,889.4 1547.6,884.1 1547.9,890.2 1548.2,890.2 1548.6,894.8 1548.9,892.0 1549.2,896.0 1549.5,882.5 1549.9,895.0 1550.2,885.8 1550.5,887.5 1550.9,890.1 1551.2,883.3 1551.5,897.6 1551.9,894.4 1552.2,884.2 1552.5,887.7 1552.8,885.6 1553.2,887.2 1553.5,891.4 1553.8,884.7 1554.2,886.2 1554.5,885.7 1554.8,883.3 1555.2,888.5 1555.5,891.6 1555.8,882.6 1556.1,887.7 1556.5,886.5 1556.8,887.4 1557.1,891.0 1557.5,884.9 1557.8,893.1 1558.1,892.3 1558.5,887.9 1558.8,889.8 1559.1,895.9 1559.4,891.4 1559.8,889.5 1560.1,896.2 1560.4,890.1 1560.8,895.3 1561.1,894.1 1561.4,883.2 1561.8,894.7 1562.1,884.0 1562.4,895.5 1562.7,884.3 1563.1,892.2 1563.4,890.4 1563.7,893.8 1564.1,892.2 1564.4,895.9 1564.7,885.6 1565.1,898.7 1565.4,887.5 1565.7,887.5 1566.0,892.2 1566.4,889.5 1566.7,896.1 1567.0,887.8 1567.4,884.7 1567.7,889.7 1568.0,891.5 1568.4,887.1 1568.7,893.1 1569.0,889.0 1569.3,890.6 1569.7,889.3 1570.0,895.3 1570.3,893.6 1570.7,898.9 1571.0,901.0 1571.3,891.3 1571.7,885.9 1572.0,887.6 1572.3,893.5 1572.6,892.6 1573.0,895.4 1573.3,887.3 1573.6,888.3 1574.0,886.7 1574.3,899.9 1574.6,895.5 1575.0,885.2 1575.3,897.7 1575.6,898.4 1575.9,889.2 1576.3,890.6 1576.6,890.7 1576.9,888.2 1577.3,900.9 1577.6,886.5 1577.9,895.8 1578.3,893.2 1578.6,892.7 1578.9,888.0 1579.2,888.2 1579.6,901.6 1579.9,891.8 1580.2,894.1 1580.6,888.0 1580.9,899.8 1581.2,895.0 1581.6,900.4 1581.9,890.3 1582.2,887.4 1582.5,901.7 1582.9,901.4 1583.2,894.0 1583.5,898.5 1583.9,899.2 1584.2,888.4 1584.5,888.9 1584.9,894.2 1585.2,895.3 1585.5,897.4 1585.8,896.4 1586.2,893.4 1586.5,902.1 1586.8,900.6 1587.2,895.2 1587.5,889.5 1587.8,889.9 1588.2,895.2 1588.5,896.3 1588.8,893.9 1589.1,894.5 1589.5,890.4 1589.8,904.9 1590.1,902.8 1590.5,900.6 1590.8,899.1 1591.1,900.1 1591.5,894.8 1591.8,893.3 1592.1,890.3 1592.4,892.6 1592.8,900.9 1593.1,898.2 1593.4,889.9 1593.8,899.8 1594.1,894.6 1594.4,896.5 1594.8,895.9 1595.1,891.1 1595.4,900.9 1595.7,892.3 1596.1,892.2 1596.4,904.8 1596.7,902.1 1597.1,897.8 1597.4,904.1 1597.7,900.1 1598.1,902.4 1598.4,901.5 1598.7,893.4 1599.0,901.0 1599.4,893.2 1599.7,902.3 1600.0,903.3 1600.4,897.9 1600.7,903.2 1601.0,896.1 1601.4,893.5 1601.7,903.5 1602.0,904.4 1602.3,895.0 1602.7,895.7 1603.0,902.8 1603.3,904.0 1603.7,902.6 1604.0,904.8 1604.3,894.0 1604.7,901.6 1605.0,906.7 1605.3,900.1 1605.6,894.7 1606.0,899.4 1606.3,896.4 1606.6,905.8 1607.0,897.8 1607.3,897.6 1607.6,900.2 1608.0,905.2 1608.3,906.0 1608.6,898.0 1608.9,899.4 1609.3,907.3 1609.6,901.6 1609.9,901.8 1610.3,897.3 1610.6,897.0 1610.9,894.7 1611.3,906.6 1611.6,900.0 1611.9,903.0 1612.2,902.5 1612.6,908.6 1612.9,904.2 1613.2,909.2 1613.6,904.9 1613.9,900.8 1614.2,905.3 1614.6,913.2 1614.9,907.7 1615.2,903.7 1615.5,906.6 1615.9,906.4 1616.2,897.8 1616.5,908.8 1616.9,904.5 1617.2,896.7 1617.5,906.9 1617.9,900.4 1618.2,902.3 1618.5,905.7 1618.8,906.2 1619.2,910.4 1619.5,898.9 1619.8,908.5 1620.2,901.7 1620.5,904.2 1620.8,899.1 1621.2,897.6 1621.5,902.5 1621.8,910.9 1622.1,901.5 1622.5,900.0 1622.8,901.0 1623.1,902.8 1623.5,901.2 1623.8,910.5 1624.1,909.5 1624.5,899.7 1624.8,904.4 1625.1,907.3 1625.4,901.7 1625.8,911.0 1626.1,901.6 1626.4,898.6 1626.8,906.2 1627.1,911.6 1627.4,899.8 1627.8,908.0 1628.1,909.9 1628.4,902.8 1628.7,912.3 1629.1,908.5 1629.4,909.3 1629.7,904.4 1630.1,903.9 1630.4,911.4 1630.7,906.5 1631.1,902.9 1631.4,905.2 1631.7,911.5 1632.0,907.7 1632.4,907.8 1632.7,911.6 1633.0,909.4 1633.4,907.0 1633.7,912.8 1634.0,911.8 1634.4,910.2 1634.7,909.0 1635.0,901.4 1635.3,912.2 1635.7,903.7 1636.0,914.5 1636.3,905.9 1636.7,902.0 1637.0,904.4 1637.3,910.0 1637.7,907.5 1638.0,914.9 1638.3,913.1 1638.6,904.7 1639.0,906.4 1639.3,912.9 1639.6,913.7 1640.0,909.8 1640.3,915.0 1640.6,909.3 1641.0,912.5 1641.3,908.0 1641.6,910.7 1641.9,914.8 1642.3,914.0 1642.6,903.8 1642.9,904.8 1643.3,912.6 1643.6,909.5 1643.9,905.8 1644.3,913.6 1644.6,909.5 1644.9,913.3 1645.2,907.3 1645.6,913.5 1645.9,916.6 1646.2,915.4 1646.6,904.7 1646.9,916.0 1647.2,912.8 1647.6,912.8 1647.9,906.9 1648.2,906.5 1648.5,916.6 1648.9,910.5 1649.2,915.0 1649.5,918.0 1649.9,915.3 1650.2,915.7 1650.5,905.8 1650.9,906.1 1651.2,917.0 1651.5,917.5 1651.8,910.5 1652.2,909.8 1652.5,904.7 1652.8,912.7 1653.2,904.7 1653.5,915.5 1653.8,905.3 1654.2,909.2 1654.5,917.0 1654.8,913.6 1655.1,908.2 1655.5,910.1 1655.8,907.7 1656.1,913.0 1656.5,914.7 1656.8,905.9 1657.1,905.8 1657.5,914.9 1657.8,914.0 1658.1,911.6 1658.4,917.7 1658.8,906.1 1659.1,910.6 1659.4,916.6 1659.8,917.2 1660.1,906.7 1660.4,918.5 1660.8,918.2 1661.1,914.7 1661.4,914.3 1661.7,909.1 1662.1,905.8 1662.4,915.3 1662.7,916.7 1663.1,912.7 1663.4,916.5 1663.7,921.1 1664.1,917.0 1664.4,914.3 1664.7,918.8 1665.0,906.7 1665.4,909.9 1665.7,906.3 1666.0,917.0 1666.4,907.7 1666.7,908.9 1667.0,907.6 1667.4,907.4 1667.7,917.7 1668.0,907.6 1668.3,910.4 1668.7,908.3 1669.0,903.1 1669.3,907.9 1669.7,914.5 1670.0,912.6 1670.3,914.7 1670.7,917.3 1671.0,917.9 1671.3,907.0 1671.6,918.1 1672.0,918.5 1672.3,916.2 1672.6,910.8 1673.0,911.1 1673.3,912.8 1673.6,915.6 1674.0,920.2 1674.3,910.6 1674.6,911.9 1674.9,910.1 1675.3,919.4 1675.6,919.0 1675.9,914.2 1676.3,918.2 1676.6,915.6 1676.9,914.4 1677.3,915.9 1677.6,919.8 1677.9,919.5 1678.2,920.3 1678.6,910.2 1678.9,910.9 1679.2,920.7 1679.6,913.3 1679.9,916.7 1680.2,917.6 1680.6,916.8 1680.9,911.1 1681.2,916.2 1681.5,916.4 1681.9,917.0 1682.2,908.0 1682.5,909.7 1682.9,914.4 1683.2,917.0 1683.5,918.1 1683.9,913.4 1684.2,913.9 1684.5,909.3 1684.8,912.6 1685.2,908.5 1685.5,918.8 1685.8,910.4 1686.2,910.7 1686.5,910.4 1686.8,916.0 1687.2,909.6 1687.5,913.4 1687.8,915.9 1688.1,906.4 1688.5,919.7 1688.8,918.0 1689.1,918.9 1689.5,913.4 1689.8,910.1 1690.1,919.1 1690.5,911.6 1690.8,911.6 1691.1,913.6 1691.4,915.0 1691.8,909.5 1692.1,909.3 1692.4,910.4 1692.8,918.3 1693.1,910.5 1693.4,911.3 1693.8,909.9 1694.1,915.2 1694.4,916.7 1694.7,912.1 1695.1,916.5 1695.4,910.7 1695.7,916.1 1696.1,911.5 1696.4,912.1 1696.7,912.8 1697.1,910.4 1697.4,913.6 1697.7,918.1 1698.0,911.1 1698.4,915.8 1698.7,916.4 1699.0,915.7 1699.4,916.6 1699.7,916.2 1700.0,918.2 1700.4,919.4 1700.7,914.6 1701.0,912.2 1701.3,917.6 1701.7,911.0 1702.0,911.8 1702.3,919.7 1702.7,922.1 1703.0,920.0 1703.3,922.3 1703.7,922.3 1704.0,922.9 1704.3,913.0 1704.6,912.8 1705.0,916.2 1705.3,915.5 1705.6,920.0 1706.0,915.2 1706.3,923.2 1706.6,918.3 1707.0,919.6 1707.3,913.6 1707.6,922.9 1707.9,912.4 1708.3,918.1 1708.6,912.8 1708.9,916.5 1709.3,922.1 1709.6,921.8 1709.9,914.3 1710.3,922.5 1710.6,911.1 1710.9,914.6 1711.2,922.1 1711.6,917.7 1711.9,917.6 1712.2,914.2 1712.6,918.6 1712.9,922.6 1713.2,911.7 1713.6,913.5 1713.9,914.5 1714.2,915.9 1714.5,921.0 1714.9,920.8 1715.2,923.4 1715.5,917.5 1715.9,920.4 1716.2,913.8 1716.5,921.5 1716.9,914.2 1717.2,923.7 1717.5,914.5 1717.8,916.1 1718.2,921.3 1718.5,913.5 1718.8,913.4 1719.2,916.5 1719.5,919.0 1719.8,918.9 1720.2,913.9 1720.5,912.0 1720.8,913.8 1721.1,923.8 1721.5,922.3 1721.8,923.9 1722.1,921.4 1722.5,915.0 1722.8,919.4 1723.1,922.8 1723.5,918.6 1723.8,913.9 1724.1,912.0 1724.4,921.8 1724.8,914.8 1725.1,912.2 1725.4,923.6 1725.8,913.8 1726.1,918.5 1726.4,917.2 1726.8,913.1 1727.1,913.2 1727.4,920.7 1727.7,921.9 1728.1,916.3 1728.4,919.4 1728.7,914.0 1729.1,916.9 1729.4,915.0 1729.7,922.1 1730.1,921.0 1730.4,922.0 1730.7,913.4 1731.0,919.2 1731.4,914.6 1731.7,915.3 1732.0,917.5 1732.4,922.6 1732.7,921.3 1733.0,915.9 1733.4,923.5 1733.7,916.2 1734.0,915.6 1734.3,915.2 1734.7,922.6 1735.0,916.3 1735.3,922.7 1735.7,920.0 1736.0,913.2 1736.3,914.4 1736.7,915.0 1737.0,918.8 1737.3,917.1 1737.6,919.2 1738.0,911.6 1738.3,915.8 1738.6,915.5 1739.0,918.6 1739.3,922.2 1739.6,918.3 1740.0,914.1 1740.3,920.6 1740.6,913.4 1740.9,924.0 1741.3,918.6 1741.6,922.1 1741.9,918.3 1742.3,917.8 1742.6,927.6 1742.9,916.6 1743.3,914.0 1743.6,919.6 1743.9,915.2 1744.2,922.4 1744.6,917.3 1744.9,914.6 1745.2,922.2 1745.6,924.2 1745.9,924.9 1746.2,916.8 1746.6,914.9 1746.9,924.9 1747.2,923.2 1747.5,916.4 1747.9,919.1 1748.2,917.3 1748.5,922.5 1748.9,915.8 1749.2,923.4 1749.5,920.9" fill="none" stroke="#454545" stroke-width="0.9" stroke-linejoin="round" clip-path="url(#cf)"/>
<polygon points="1223.2,844.6 1224.8,844.7 1226.5,843.5 1228.1,842.0 1229.8,838.9 1231.4,839.0 1233.1,836.4 1234.7,834.7 1236.4,834.0 1238.0,833.9 1239.7,830.3 1241.3,830.3 1243.0,827.2 1244.6,825.3 1246.3,822.4 1247.9,817.1 1249.6,813.7 1251.2,812.2 1252.9,808.4 1254.5,804.5 1256.2,801.5 1257.8,798.1 1259.5,792.1 1261.1,787.6 1262.8,782.8 1264.4,779.3 1266.1,775.3 1267.7,772.3 1269.4,768.8 1271.0,764.3 1272.7,762.4 1274.3,758.9 1276.0,758.9 1277.6,758.2 1279.3,756.4 1280.9,757.8 1282.6,755.5 1284.2,756.1 1285.9,756.3 1287.5,758.2 1289.2,759.7 1290.8,761.2 1292.5,763.1 1294.1,763.7 1295.8,765.3 1297.4,765.5 1299.1,768.0 1300.7,766.8 1302.4,767.8 1304.0,770.1 1305.7,769.7 1307.3,770.1 1309.0,771.0 1310.6,773.8 1312.3,774.5 1313.9,773.1 1315.6,773.3 1317.2,775.4 1318.9,776.1 1320.5,775.7 1322.2,775.3 1323.8,776.3 1325.5,776.2 1327.1,776.6 1328.8,774.9 1330.4,774.3 1332.1,771.4 1333.7,769.3 1335.4,767.3 1337.0,767.9 1338.7,761.3 1340.3,754.2 1342.0,746.5 1343.6,740.0 1345.3,732.2 1346.9,722.1 1348.6,710.8 1350.2,700.8 1351.9,689.4 1353.5,673.2 1355.2,655.7 1356.8,639.4 1358.5,625.6 1360.1,613.6 1361.8,609.6 1363.4,615.4 1365.1,622.8 1366.7,631.8 1368.4,642.4 1370.0,652.3 1371.7,659.4 1373.3,667.0 1375.0,672.9 1376.6,677.5 1378.3,683.0 1379.9,686.6 1381.6,690.1 1383.2,693.6 1384.9,698.3 1386.5,700.4 1388.2,703.7 1389.8,706.6 1391.5,710.7 1393.1,714.8 1394.8,717.9 1396.4,723.3 1398.1,726.4 1399.7,731.0 1401.4,734.3 1403.0,737.5 1404.7,741.5 1406.3,744.7 1408.0,748.5 1409.6,750.3 1411.3,754.8 1412.9,755.7 1414.6,757.7 1416.2,759.7 1417.9,763.4 1419.5,765.3 1421.2,766.6 1422.8,768.6 1424.5,771.0 1426.1,773.2 1427.8,774.0 1429.4,775.6 1431.1,776.9 1432.7,778.6 1434.4,781.4 1436.0,782.9 1437.7,782.9 1439.3,786.2 1441.0,787.3 1442.6,787.1 1444.3,788.8 1445.9,789.7 1447.6,791.1 1449.2,792.6 1450.9,795.1 1452.5,796.2 1454.2,795.8 1455.8,797.3 1457.5,798.4 1459.1,799.3 1460.8,800.6 1462.4,800.7 1464.1,802.9 1465.7,803.0 1467.4,803.3 1469.0,804.4 1470.7,805.8 1472.3,808.6 1474.0,810.0 1475.6,811.8 1477.3,812.4 1478.9,815.0 1480.6,815.9 1482.2,816.2 1483.9,819.6 1485.5,819.1 1487.2,822.2 1488.8,824.0 1490.5,823.1 1492.1,824.7 1493.8,827.4 1495.4,828.6 1497.1,828.5 1498.7,831.6 1500.4,832.9 1502.0,833.4 1503.7,834.8 1505.3,837.1 1507.0,837.4 1508.6,839.0 1510.3,838.4 1511.9,840.0 1513.6,840.7 1515.2,841.1 1516.9,842.6 1518.5,843.5 1520.2,843.4 1521.8,844.8 1523.5,844.6 1525.1,846.0 1526.8,847.9 1528.4,848.5 1530.1,848.6 1531.7,850.7 1533.4,851.7 1535.0,853.5 1536.7,853.2 1538.3,855.5 1540.0,855.7 1541.6,855.5 1543.3,857.4 1544.9,857.2 1546.6,856.3 1548.2,857.6 1549.9,856.6 1551.5,856.7 1553.2,857.3 1554.8,856.6 1556.5,858.8 1558.1,859.0 1559.8,859.1 1561.4,857.8 1563.1,858.8 1564.7,860.0 1566.4,859.5 1568.0,860.3 1569.7,861.3 1571.3,862.5 1573.0,862.3 1574.6,862.7 1576.3,863.8 1577.9,864.0 1579.6,863.7 1581.2,866.5 1582.9,865.0 1584.5,867.5 1586.2,866.3 1587.8,867.5 1589.5,868.5 1591.1,868.6 1592.8,870.4 1594.4,870.9 1596.1,870.3 1597.7,871.2 1599.4,872.2 1601.0,873.1 1602.7,874.2 1604.3,873.1 1606.0,873.5 1607.6,875.1 1609.3,876.5 1610.9,876.5 1612.6,876.3 1614.2,876.7 1615.9,877.9 1617.5,879.0 1619.2,878.7 1620.8,879.6 1622.5,879.3 1624.1,879.0 1625.8,879.8 1627.4,881.9 1629.1,881.3 1630.7,881.7 1632.4,881.3 1634.0,882.4 1635.7,882.8 1637.3,884.7 1639.0,883.5 1640.6,884.8 1642.3,885.7 1643.9,885.4 1645.6,886.9 1647.2,887.8 1648.9,887.2 1650.5,887.0 1652.2,888.0 1653.8,887.7 1655.5,888.3 1657.1,887.8 1658.8,887.0 1660.4,888.5 1662.1,888.3 1663.7,889.3 1665.4,887.9 1667.0,888.6 1668.7,890.7 1670.3,889.7 1672.0,891.2 1673.6,891.4 1675.3,891.8 1676.9,891.4 1678.6,891.5 1680.2,891.8 1681.9,892.0 1683.5,892.8 1685.2,892.3 1686.8,893.2 1688.5,893.1 1690.1,895.2 1691.8,895.3 1693.4,895.5 1695.1,895.0 1696.7,896.4 1698.4,894.9 1700.0,896.0 1701.7,895.9 1703.3,897.5 1705.0,897.0 1706.6,898.5 1708.3,896.8 1709.9,898.1 1711.6,898.4 1713.2,897.7 1714.9,898.2 1716.5,899.3 1718.2,900.0 1719.8,898.7 1721.5,901.1 1723.1,899.7 1724.8,900.5 1726.4,899.5 1728.1,900.8 1729.7,901.6 1731.4,902.0 1733.0,902.1 1734.7,900.4 1736.3,901.7 1738.0,901.4 1739.6,901.1 1741.3,902.3 1742.9,902.8 1744.6,902.5 1746.2,903.6 1747.9,901.8 1749.5,902.1 1749.5,912.2 1747.9,910.7 1746.2,912.1 1744.6,910.4 1742.9,910.0 1741.3,911.7 1739.6,909.8 1738.0,910.3 1736.3,910.5 1734.7,909.3 1733.0,910.5 1731.4,910.3 1729.7,910.3 1728.1,908.1 1726.4,909.1 1724.8,908.1 1723.1,909.4 1721.5,909.5 1719.8,909.1 1718.2,907.5 1716.5,907.7 1714.9,908.0 1713.2,907.0 1711.6,906.1 1709.9,907.5 1708.3,905.6 1706.6,906.3 1705.0,905.0 1703.3,906.1 1701.7,905.8 1700.0,904.4 1698.4,905.1 1696.7,905.2 1695.1,905.1 1693.4,903.1 1691.8,903.0 1690.1,904.0 1688.5,902.1 1686.8,901.5 1685.2,901.6 1683.5,902.4 1681.9,902.6 1680.2,901.0 1678.6,899.8 1676.9,900.9 1675.3,900.9 1673.6,900.6 1672.0,899.3 1670.3,899.6 1668.7,899.6 1667.0,899.1 1665.4,899.3 1663.7,898.4 1662.1,897.6 1660.4,897.7 1658.8,897.0 1657.1,897.0 1655.5,896.2 1653.8,898.0 1652.2,896.0 1650.5,897.6 1648.9,896.7 1647.2,896.6 1645.6,895.4 1643.9,896.6 1642.3,896.1 1640.6,895.0 1639.0,893.4 1637.3,894.8 1635.7,892.5 1634.0,893.2 1632.4,892.4 1630.7,892.9 1629.1,890.5 1627.4,892.1 1625.8,889.6 1624.1,889.4 1622.5,888.9 1620.8,888.0 1619.2,888.0 1617.5,888.4 1615.9,887.5 1614.2,886.7 1612.6,887.7 1610.9,885.4 1609.3,886.3 1607.6,884.1 1606.0,883.6 1604.3,883.3 1602.7,884.5 1601.0,882.9 1599.4,882.0 1597.7,881.8 1596.1,881.1 1594.4,881.2 1592.8,880.5 1591.1,879.6 1589.5,879.2 1587.8,878.4 1586.2,879.3 1584.5,878.2 1582.9,876.5 1581.2,876.8 1579.6,875.1 1577.9,876.0 1576.3,875.3 1574.6,874.8 1573.0,873.4 1571.3,873.2 1569.7,871.5 1568.0,872.0 1566.4,870.7 1564.7,871.0 1563.1,870.4 1561.4,870.3 1559.8,868.2 1558.1,868.3 1556.5,869.0 1554.8,867.4 1553.2,868.7 1551.5,868.7 1549.9,867.3 1548.2,868.1 1546.6,869.0 1544.9,867.8 1543.3,868.2 1541.6,868.1 1540.0,865.9 1538.3,866.6 1536.7,865.0 1535.0,863.5 1533.4,862.1 1531.7,862.1 1530.1,861.5 1528.4,858.9 1526.8,859.1 1525.1,857.1 1523.5,857.5 1521.8,857.0 1520.2,854.9 1518.5,854.7 1516.9,853.5 1515.2,853.6 1513.6,851.7 1511.9,851.7 1510.3,850.4 1508.6,850.0 1507.0,850.1 1505.3,847.4 1503.7,847.0 1502.0,845.3 1500.4,844.2 1498.7,842.0 1497.1,842.5 1495.4,840.4 1493.8,838.9 1492.1,837.4 1490.5,837.3 1488.8,836.1 1487.2,833.5 1485.5,833.2 1483.9,830.3 1482.2,829.9 1480.6,827.0 1478.9,826.5 1477.3,824.3 1475.6,822.8 1474.0,822.0 1472.3,819.4 1470.7,818.9 1469.0,818.5 1467.4,817.7 1465.7,815.2 1464.1,815.0 1462.4,814.7 1460.8,813.3 1459.1,812.0 1457.5,810.8 1455.8,811.1 1454.2,808.7 1452.5,807.7 1450.9,807.8 1449.2,804.6 1447.6,803.7 1445.9,802.7 1444.3,801.2 1442.6,799.6 1441.0,800.0 1439.3,798.3 1437.7,797.3 1436.0,795.0 1434.4,793.1 1432.7,791.4 1431.1,789.4 1429.4,789.0 1427.8,787.8 1426.1,786.0 1424.5,784.2 1422.8,781.6 1421.2,780.6 1419.5,777.1 1417.9,775.1 1416.2,772.3 1414.6,770.2 1412.9,768.4 1411.3,766.2 1409.6,763.6 1408.0,760.4 1406.3,756.8 1404.7,755.4 1403.0,751.2 1401.4,748.1 1399.7,743.2 1398.1,741.4 1396.4,735.3 1394.8,732.9 1393.1,727.9 1391.5,723.6 1389.8,721.1 1388.2,717.8 1386.5,715.7 1384.9,711.0 1383.2,708.5 1381.6,704.7 1379.9,701.0 1378.3,696.8 1376.6,690.8 1375.0,686.4 1373.3,679.2 1371.7,674.1 1370.0,666.3 1368.4,656.4 1366.7,647.2 1365.1,636.4 1363.4,631.1 1361.8,622.4 1360.1,625.9 1358.5,639.2 1356.8,653.4 1355.2,670.5 1353.5,686.6 1351.9,702.8 1350.2,715.7 1348.6,724.9 1346.9,735.5 1345.3,745.1 1343.6,754.8 1342.0,761.7 1340.3,767.6 1338.7,773.3 1337.0,780.4 1335.4,782.3 1333.7,783.2 1332.1,786.2 1330.4,788.5 1328.8,789.8 1327.1,791.4 1325.5,790.7 1323.8,791.5 1322.2,790.6 1320.5,790.1 1318.9,791.0 1317.2,790.2 1315.6,789.2 1313.9,788.5 1312.3,787.2 1310.6,786.9 1309.0,786.9 1307.3,786.5 1305.7,784.9 1304.0,783.9 1302.4,783.9 1300.7,782.6 1299.1,782.8 1297.4,781.0 1295.8,778.2 1294.1,778.6 1292.5,775.8 1290.8,775.3 1289.2,775.6 1287.5,772.7 1285.9,771.9 1284.2,772.0 1282.6,770.7 1280.9,773.0 1279.3,773.8 1277.6,773.9 1276.0,772.7 1274.3,775.3 1272.7,776.7 1271.0,781.0 1269.4,783.2 1267.7,787.7 1266.1,790.9 1264.4,794.3 1262.8,799.8 1261.1,804.3 1259.5,807.1 1257.8,812.6 1256.2,817.9 1254.5,819.4 1252.9,824.1 1251.2,827.0 1249.6,829.3 1247.9,833.0 1246.3,836.4 1244.6,841.1 1243.0,843.4 1241.3,845.1 1239.7,847.1 1238.0,849.8 1236.4,850.5 1234.7,851.5 1233.1,852.5 1231.4,853.8 1229.8,856.3 1228.1,857.8 1226.5,859.5 1224.8,860.8 1223.2,860.8" fill="#e8383c" fill-opacity="0.8" clip-path="url(#cf)"/>
<polyline points="1221.9,866.2 1222.2,849.3 1222.5,863.3 1222.8,849.9 1223.2,849.2 1223.5,865.1 1223.8,856.9 1224.2,860.0 1224.5,864.5 1224.8,866.3 1225.2,844.7 1225.5,848.1 1225.8,840.6 1226.1,846.2 1226.5,846.2 1226.8,840.0 1227.1,857.1 1227.5,856.4 1227.8,860.2 1228.1,848.0 1228.5,859.6 1228.8,844.1 1229.1,836.9 1229.4,834.4 1229.8,836.0 1230.1,838.8 1230.4,844.4 1230.8,860.0 1231.1,850.5 1231.4,845.5 1231.8,856.8 1232.1,834.5 1232.4,855.0 1232.7,844.8 1233.1,855.9 1233.4,840.8 1233.7,850.0 1234.1,861.9 1234.4,846.4 1234.7,849.8 1235.1,852.4 1235.4,838.9 1235.7,849.7 1236.0,834.4 1236.4,856.2 1236.7,854.1 1237.0,835.9 1237.4,847.9 1237.7,842.3 1238.0,845.5 1238.4,842.2 1238.7,831.1 1239.0,841.3 1239.3,850.1 1239.7,851.4 1240.0,850.4 1240.3,851.7 1240.7,850.7 1241.0,828.0 1241.3,846.5 1241.7,831.2 1242.0,837.7 1242.3,819.5 1242.6,831.7 1243.0,842.6 1243.3,825.7 1243.6,845.7 1244.0,836.0 1244.3,840.0 1244.6,838.2 1245.0,818.9 1245.3,829.3 1245.6,818.1 1245.9,834.7 1246.3,827.8 1246.6,835.9 1246.9,819.1 1247.3,824.4 1247.6,820.8 1247.9,817.7 1248.3,825.1 1248.6,823.8 1248.9,837.1 1249.2,835.6 1249.6,813.8 1249.9,809.7 1250.2,834.2 1250.6,816.3 1250.9,815.6 1251.2,816.0 1251.6,804.5 1251.9,824.2 1252.2,820.8 1252.5,813.7 1252.9,810.1 1253.2,827.8 1253.5,810.7 1253.9,822.0 1254.2,818.1 1254.5,825.0 1254.9,801.0 1255.2,823.8 1255.5,805.5 1255.8,809.7 1256.2,820.3 1256.5,812.3 1256.8,802.8 1257.2,809.7 1257.5,799.0 1257.8,801.7 1258.2,797.7 1258.5,812.1 1258.8,810.2 1259.1,788.4 1259.5,809.0 1259.8,792.9 1260.1,804.8 1260.5,810.3 1260.8,808.7 1261.1,807.9 1261.5,805.2 1261.8,782.9 1262.1,800.5 1262.4,812.5 1262.8,779.2 1263.1,794.4 1263.4,780.4 1263.8,792.0 1264.1,801.2 1264.4,800.6 1264.8,778.9 1265.1,799.3 1265.4,775.5 1265.7,774.0 1266.1,792.7 1266.4,769.0 1266.7,789.2 1267.1,779.0 1267.4,782.5 1267.7,776.2 1268.1,780.1 1268.4,768.7 1268.7,785.0 1269.0,784.8 1269.4,776.4 1269.7,779.8 1270.0,780.8 1270.4,786.5 1270.7,785.0 1271.0,767.4 1271.4,779.9 1271.7,780.0 1272.0,775.7 1272.3,776.9 1272.7,772.2 1273.0,762.3 1273.3,756.3 1273.7,774.3 1274.0,774.0 1274.3,777.9 1274.7,755.2 1275.0,755.5 1275.3,755.7 1275.6,764.6 1276.0,759.4 1276.3,765.9 1276.6,758.1 1277.0,759.7 1277.3,777.3 1277.6,779.3 1278.0,772.6 1278.3,775.4 1278.6,777.6 1278.9,754.7 1279.3,755.3 1279.6,766.1 1279.9,754.7 1280.3,761.3 1280.6,777.6 1280.9,763.9 1281.3,751.6 1281.6,763.4 1281.9,770.4 1282.2,775.9 1282.6,754.0 1282.9,763.8 1283.2,754.5 1283.6,762.9 1283.9,756.7 1284.2,755.8 1284.6,770.9 1284.9,764.6 1285.2,762.4 1285.5,775.5 1285.9,769.5 1286.2,773.5 1286.5,776.5 1286.9,770.2 1287.2,762.9 1287.5,755.8 1287.9,762.4 1288.2,773.3 1288.5,757.3 1288.8,763.1 1289.2,780.1 1289.5,764.1 1289.8,759.9 1290.2,759.7 1290.5,762.1 1290.8,769.9 1291.2,780.6 1291.5,769.9 1291.8,773.5 1292.1,772.0 1292.5,782.2 1292.8,756.4 1293.1,762.0 1293.5,759.8 1293.8,775.0 1294.1,782.2 1294.5,750.7 1294.8,769.2 1295.1,766.4 1295.4,758.4 1295.8,782.8 1296.1,764.1 1296.4,781.4 1296.8,784.3 1297.1,783.2 1297.4,768.4 1297.8,761.7 1298.1,786.6 1298.4,780.5 1298.7,764.6 1299.1,778.6 1299.4,777.7 1299.7,765.4 1300.1,776.1 1300.4,785.6 1300.7,765.4 1301.1,783.3 1301.4,775.4 1301.7,777.2 1302.0,777.5 1302.4,764.0 1302.7,769.1 1303.0,769.3 1303.4,775.8 1303.7,772.1 1304.0,769.2 1304.4,776.9 1304.7,779.8 1305.0,765.7 1305.3,772.8 1305.7,781.5 1306.0,789.4 1306.3,768.6 1306.7,773.3 1307.0,783.7 1307.3,764.9 1307.7,782.5 1308.0,783.7 1308.3,779.0 1308.6,768.4 1309.0,784.9 1309.3,777.5 1309.6,768.6 1310.0,766.4 1310.3,777.1 1310.6,769.0 1311.0,773.9 1311.3,772.9 1311.6,785.5 1311.9,766.9 1312.3,782.0 1312.6,781.0 1312.9,772.9 1313.3,781.0 1313.6,775.7 1313.9,789.6 1314.3,771.5 1314.6,786.7 1314.9,800.5 1315.2,787.3 1315.6,771.4 1315.9,787.7 1316.2,787.0 1316.6,787.5 1316.9,794.7 1317.2,769.0 1317.6,785.8 1317.9,792.1 1318.2,772.2 1318.5,789.2 1318.9,770.4 1319.2,777.8 1319.5,790.2 1319.9,785.1 1320.2,786.6 1320.5,784.7 1320.9,778.7 1321.2,783.4 1321.5,775.9 1321.8,783.3 1322.2,781.2 1322.5,777.5 1322.8,788.9 1323.2,784.0 1323.5,794.9 1323.8,780.5 1324.2,792.2 1324.5,790.0 1324.8,782.7 1325.1,779.0 1325.5,790.8 1325.8,791.7 1326.1,788.9 1326.5,789.5 1326.8,772.6 1327.1,771.5 1327.5,795.7 1327.8,776.0 1328.1,772.5 1328.4,788.7 1328.8,778.7 1329.1,792.1 1329.4,791.1 1329.8,779.1 1330.1,793.2 1330.4,771.5 1330.8,775.7 1331.1,790.0 1331.4,771.5 1331.7,775.9 1332.1,789.3 1332.4,768.9 1332.7,775.3 1333.1,765.1 1333.4,784.3 1333.7,781.8 1334.1,781.4 1334.4,771.2 1334.7,785.4 1335.0,768.9 1335.4,777.5 1335.7,778.9 1336.0,775.1 1336.4,767.1 1336.7,772.0 1337.0,784.3 1337.4,781.8 1337.7,773.5 1338.0,757.9 1338.3,776.6 1338.7,774.4 1339.0,762.9 1339.3,767.9 1339.7,772.2 1340.0,759.1 1340.3,750.4 1340.7,772.1 1341.0,757.0 1341.3,743.9 1341.6,744.8 1342.0,752.3 1342.3,753.2 1342.6,742.9 1343.0,749.9 1343.3,758.1 1343.6,757.2 1344.0,747.8 1344.3,733.7 1344.6,739.0 1344.9,744.4 1345.3,734.0 1345.6,734.3 1345.9,730.9 1346.3,723.8 1346.6,734.7 1346.9,726.1 1347.3,735.1 1347.6,733.5 1347.9,715.4 1348.2,725.3 1348.6,718.5 1348.9,720.4 1349.2,708.5 1349.6,703.4 1349.9,702.3 1350.2,704.0 1350.6,709.7 1350.9,699.9 1351.2,703.4 1351.5,706.0 1351.9,688.5 1352.2,698.8 1352.5,687.7 1352.9,693.9 1353.2,672.3 1353.5,667.2 1353.9,669.9 1354.2,664.3 1354.5,670.0 1354.8,675.8 1355.2,671.0 1355.5,651.7 1355.8,649.8 1356.2,646.5 1356.5,638.8 1356.8,637.3 1357.2,654.8 1357.5,650.8 1357.8,637.2 1358.1,630.4 1358.5,641.1 1358.8,641.2 1359.1,630.6 1359.5,615.9 1359.8,621.3 1360.1,618.4 1360.5,623.0 1360.8,607.6 1361.1,611.3 1361.4,608.1 1361.8,613.2 1362.1,624.3 1362.4,628.7 1362.8,613.2 1363.1,627.7 1363.4,620.8 1363.8,623.8 1364.1,633.0 1364.4,632.7 1364.7,636.3 1365.1,624.1 1365.4,633.6 1365.7,631.3 1366.1,643.1 1366.4,645.9 1366.7,642.1 1367.1,636.3 1367.4,650.7 1367.7,653.4 1368.0,651.9 1368.4,641.7 1368.7,642.7 1369.0,662.6 1369.4,646.6 1369.7,659.3 1370.0,658.8 1370.4,674.0 1370.7,673.5 1371.0,652.5 1371.3,667.1 1371.7,659.6 1372.0,661.2 1372.3,673.0 1372.7,669.9 1373.0,675.6 1373.3,664.6 1373.7,683.1 1374.0,664.7 1374.3,666.9 1374.6,668.3 1375.0,673.7 1375.3,688.4 1375.6,672.9 1376.0,671.1 1376.3,674.4 1376.6,692.0 1377.0,692.2 1377.3,697.4 1377.6,680.5 1377.9,699.5 1378.3,687.7 1378.6,689.4 1378.9,688.5 1379.3,689.3 1379.6,693.9 1379.9,695.1 1380.3,683.7 1380.6,704.4 1380.9,683.7 1381.2,699.8 1381.6,696.7 1381.9,703.9 1382.2,702.6 1382.6,705.7 1382.9,699.1 1383.2,703.7 1383.6,696.6 1383.9,697.8 1384.2,710.8 1384.5,712.4 1384.9,720.7 1385.2,697.3 1385.5,705.9 1385.9,697.2 1386.2,702.3 1386.5,705.0 1386.9,704.1 1387.2,717.4 1387.5,716.1 1387.8,696.1 1388.2,709.9 1388.5,718.3 1388.8,703.9 1389.2,711.3 1389.5,723.5 1389.8,715.9 1390.2,725.3 1390.5,717.9 1390.8,705.7 1391.1,707.5 1391.5,725.7 1391.8,717.6 1392.1,710.8 1392.5,709.9 1392.8,713.5 1393.1,712.8 1393.5,716.2 1393.8,712.2 1394.1,714.3 1394.4,722.6 1394.8,734.5 1395.1,728.6 1395.4,721.8 1395.8,720.4 1396.1,723.5 1396.4,724.7 1396.8,737.8 1397.1,724.6 1397.4,732.2 1397.7,738.2 1398.1,731.5 1398.4,743.9 1398.7,746.0 1399.1,743.6 1399.4,729.6 1399.7,741.1 1400.1,747.2 1400.4,733.2 1400.7,732.3 1401.0,745.6 1401.4,745.0 1401.7,748.5 1402.0,734.9 1402.4,740.4 1402.7,740.7 1403.0,750.2 1403.4,745.4 1403.7,756.5 1404.0,753.0 1404.3,746.2 1404.7,741.4 1405.0,756.4 1405.3,743.4 1405.7,749.0 1406.0,747.1 1406.3,759.2 1406.7,743.3 1407.0,745.3 1407.3,743.4 1407.6,758.8 1408.0,762.6 1408.3,749.3 1408.6,743.9 1409.0,751.9 1409.3,765.6 1409.6,745.6 1410.0,746.8 1410.3,763.9 1410.6,759.6 1410.9,754.9 1411.3,757.4 1411.6,773.4 1411.9,766.4 1412.3,766.4 1412.6,769.6 1412.9,763.5 1413.3,767.9 1413.6,770.0 1413.9,766.1 1414.2,771.7 1414.6,760.4 1414.9,761.0 1415.2,775.7 1415.6,769.7 1415.9,772.9 1416.2,765.8 1416.6,769.9 1416.9,761.5 1417.2,777.2 1417.5,759.6 1417.9,764.8 1418.2,776.1 1418.5,761.8 1418.9,758.4 1419.2,768.7 1419.5,770.3 1419.9,779.5 1420.2,773.7 1420.5,767.4 1420.8,769.9 1421.2,773.0 1421.5,766.2 1421.8,762.1 1422.2,763.6 1422.5,782.5 1422.8,785.9 1423.2,763.8 1423.5,770.1 1423.8,765.9 1424.1,773.6 1424.5,774.7 1424.8,779.7 1425.1,780.1 1425.5,789.5 1425.8,767.7 1426.1,782.6 1426.5,788.4 1426.8,781.2 1427.1,774.9 1427.4,782.8 1427.8,781.4 1428.1,782.2 1428.4,769.9 1428.8,782.6 1429.1,792.7 1429.4,781.5 1429.8,798.1 1430.1,778.5 1430.4,772.7 1430.7,772.3 1431.1,790.7 1431.4,788.8 1431.7,786.8 1432.1,786.7 1432.4,791.5 1432.7,779.4 1433.1,792.7 1433.4,787.3 1433.7,801.6 1434.0,781.3 1434.4,797.2 1434.7,788.4 1435.0,777.4 1435.4,779.9 1435.7,783.7 1436.0,790.5 1436.4,780.6 1436.7,796.7 1437.0,799.8 1437.3,780.5 1437.7,798.8 1438.0,796.9 1438.3,798.7 1438.7,787.2 1439.0,801.3 1439.3,796.1 1439.7,786.8 1440.0,793.3 1440.3,800.9 1440.6,786.8 1441.0,797.0 1441.3,788.8 1441.6,788.5 1442.0,793.0 1442.3,786.1 1442.6,790.8 1443.0,800.4 1443.3,798.6 1443.6,789.2 1443.9,803.9 1444.3,793.8 1444.6,802.4 1444.9,802.6 1445.3,800.8 1445.6,793.8 1445.9,791.7 1446.3,792.0 1446.6,800.4 1446.9,794.7 1447.2,807.8 1447.6,799.5 1447.9,789.1 1448.2,804.6 1448.6,797.2 1448.9,798.5 1449.2,807.0 1449.6,802.6 1449.9,809.4 1450.2,795.5 1450.5,795.3 1450.9,799.7 1451.2,800.2 1451.5,792.7 1451.9,804.4 1452.2,799.5 1452.5,790.8 1452.9,809.5 1453.2,807.9 1453.5,800.3 1453.8,809.4 1454.2,793.3 1454.5,801.0 1454.8,812.0 1455.2,806.4 1455.5,790.1 1455.8,804.2 1456.2,802.0 1456.5,802.3 1456.8,814.3 1457.1,805.5 1457.5,799.0 1457.8,815.8 1458.1,795.1 1458.5,797.6 1458.8,811.9 1459.1,799.7 1459.5,807.0 1459.8,796.3 1460.1,810.6 1460.4,816.0 1460.8,800.0 1461.1,797.5 1461.4,806.7 1461.8,812.6 1462.1,802.5 1462.4,801.6 1462.8,806.8 1463.1,804.6 1463.4,810.4 1463.7,806.1 1464.1,801.7 1464.4,812.0 1464.7,805.3 1465.1,820.9 1465.4,808.2 1465.7,816.0 1466.1,814.5 1466.4,815.1 1466.7,816.1 1467.0,817.6 1467.4,807.9 1467.7,800.3 1468.0,808.5 1468.4,807.1 1468.7,817.8 1469.0,817.4 1469.4,805.5 1469.7,800.8 1470.0,816.0 1470.3,815.5 1470.7,817.9 1471.0,815.2 1471.3,806.5 1471.7,810.1 1472.0,810.5 1472.3,815.9 1472.7,820.1 1473.0,805.8 1473.3,815.4 1473.6,823.9 1474.0,810.8 1474.3,810.5 1474.6,831.5 1475.0,812.8 1475.3,810.1 1475.6,830.5 1476.0,806.6 1476.3,812.7 1476.6,809.5 1476.9,809.9 1477.3,813.1 1477.6,819.5 1477.9,824.2 1478.3,828.8 1478.6,821.2 1478.9,816.3 1479.3,811.5 1479.6,833.6 1479.9,825.5 1480.2,822.1 1480.6,818.3 1480.9,824.7 1481.2,832.9 1481.6,829.5 1481.9,817.8 1482.2,815.3 1482.6,814.5 1482.9,831.7 1483.2,817.8 1483.5,823.6 1483.9,821.0 1484.2,835.2 1484.5,818.6 1484.9,835.2 1485.2,833.4 1485.5,831.6 1485.9,817.6 1486.2,831.6 1486.5,831.0 1486.8,835.5 1487.2,837.1 1487.5,834.7 1487.8,829.6 1488.2,828.1 1488.5,836.6 1488.8,827.3 1489.2,820.1 1489.5,834.5 1489.8,819.1 1490.1,828.7 1490.5,837.2 1490.8,823.0 1491.1,822.9 1491.5,836.3 1491.8,823.6 1492.1,835.2 1492.5,846.5 1492.8,829.5 1493.1,843.2 1493.4,842.5 1493.8,840.5 1494.1,833.0 1494.4,833.7 1494.8,825.7 1495.1,832.2 1495.4,828.6 1495.8,843.0 1496.1,835.0 1496.4,825.8 1496.7,831.6 1497.1,827.4 1497.4,835.5 1497.7,840.4 1498.1,842.0 1498.4,841.6 1498.7,838.1 1499.1,833.8 1499.4,844.0 1499.7,829.4 1500.0,829.4 1500.4,843.5 1500.7,839.8 1501.0,841.9 1501.4,840.9 1501.7,844.8 1502.0,831.5 1502.4,841.1 1502.7,837.7 1503.0,837.5 1503.3,827.3 1503.7,845.6 1504.0,838.2 1504.3,830.9 1504.7,851.1 1505.0,841.1 1505.3,832.7 1505.7,837.1 1506.0,848.9 1506.3,840.3 1506.6,849.3 1507.0,850.7 1507.3,847.8 1507.6,832.0 1508.0,851.0 1508.3,850.3 1508.6,843.3 1509.0,835.5 1509.3,842.5 1509.6,853.5 1509.9,836.5 1510.3,841.3 1510.6,851.6 1510.9,849.7 1511.3,854.7 1511.6,841.7 1511.9,837.2 1512.3,840.7 1512.6,837.9 1512.9,839.0 1513.2,848.7 1513.6,846.7 1513.9,852.5 1514.2,841.6 1514.6,855.5 1514.9,840.5 1515.2,841.1 1515.6,845.3 1515.9,845.3 1516.2,856.2 1516.5,856.8 1516.9,858.1 1517.2,843.3 1517.5,856.5 1517.9,852.7 1518.2,849.2 1518.5,842.0 1518.9,838.5 1519.2,847.0 1519.5,844.3 1519.8,856.3 1520.2,846.0 1520.5,846.6 1520.8,856.1 1521.2,858.3 1521.5,838.1 1521.8,843.4 1522.2,852.4 1522.5,845.4 1522.8,856.3 1523.1,841.6 1523.5,846.2 1523.8,848.5 1524.1,847.5 1524.5,845.6 1524.8,862.2 1525.1,856.1 1525.5,867.8 1525.8,855.1 1526.1,846.4 1526.4,862.1 1526.8,846.3 1527.1,846.8 1527.4,845.6 1527.8,848.5 1528.1,853.6 1528.4,859.0 1528.8,864.9 1529.1,850.9 1529.4,857.0 1529.7,847.4 1530.1,862.6 1530.4,861.6 1530.7,848.5 1531.1,852.1 1531.4,849.1 1531.7,848.5 1532.1,854.5 1532.4,848.1 1532.7,865.9 1533.0,865.8 1533.4,858.0 1533.7,852.4 1534.0,865.4 1534.4,856.0 1534.7,849.8 1535.0,864.4 1535.4,851.1 1535.7,862.7 1536.0,855.6 1536.3,865.9 1536.7,865.7 1537.0,864.5 1537.3,856.6 1537.7,857.9 1538.0,865.4 1538.3,857.4 1538.7,856.4 1539.0,854.4 1539.3,851.4 1539.6,861.6 1540.0,862.0 1540.3,870.1 1540.6,854.2 1541.0,864.6 1541.3,865.7 1541.6,848.0 1542.0,854.7 1542.3,867.4 1542.6,862.4 1542.9,867.0 1543.3,861.5 1543.6,865.6 1543.9,866.7 1544.3,868.1 1544.6,869.8 1544.9,861.1 1545.3,876.2 1545.6,870.3 1545.9,862.0 1546.2,855.1 1546.6,866.6 1546.9,866.8 1547.2,850.8 1547.6,863.8 1547.9,857.5 1548.2,853.8 1548.6,861.3 1548.9,864.6 1549.2,872.2 1549.5,867.1 1549.9,854.0 1550.2,861.0 1550.5,869.4 1550.9,857.0 1551.2,853.1 1551.5,853.8 1551.9,864.0 1552.2,858.8 1552.5,866.7 1552.8,862.3 1553.2,856.4 1553.5,856.6 1553.8,870.6 1554.2,869.4 1554.5,856.5 1554.8,867.9 1555.2,860.1 1555.5,865.1 1555.8,870.1 1556.1,871.4 1556.5,859.3 1556.8,873.1 1557.1,864.2 1557.5,873.1 1557.8,855.4 1558.1,873.4 1558.5,854.0 1558.8,858.8 1559.1,860.9 1559.4,872.5 1559.8,871.4 1560.1,862.3 1560.4,859.2 1560.8,865.8 1561.1,868.4 1561.4,856.3 1561.8,861.4 1562.1,856.1 1562.4,870.7 1562.7,870.6 1563.1,873.4 1563.4,874.6 1563.7,868.4 1564.1,863.3 1564.4,872.2 1564.7,876.1 1565.1,858.4 1565.4,864.4 1565.7,863.9 1566.0,863.6 1566.4,857.8 1566.7,872.1 1567.0,873.6 1567.4,856.3 1567.7,868.2 1568.0,856.8 1568.4,876.0 1568.7,858.1 1569.0,858.9 1569.3,865.5 1569.7,863.4 1570.0,865.0 1570.3,863.6 1570.7,860.9 1571.0,869.8 1571.3,875.6 1571.7,864.9 1572.0,869.7 1572.3,867.1 1572.6,871.4 1573.0,866.3 1573.3,875.7 1573.6,869.2 1574.0,862.7 1574.3,872.9 1574.6,872.1 1575.0,867.2 1575.3,875.7 1575.6,865.6 1575.9,860.2 1576.3,868.4 1576.6,874.0 1576.9,856.5 1577.3,867.3 1577.6,869.9 1577.9,863.7 1578.3,866.9 1578.6,870.6 1578.9,878.1 1579.2,865.2 1579.6,877.7 1579.9,872.5 1580.2,862.8 1580.6,868.5 1580.9,869.2 1581.2,880.4 1581.6,874.9 1581.9,862.1 1582.2,874.6 1582.5,867.7 1582.9,879.7 1583.2,867.2 1583.5,881.1 1583.9,881.1 1584.2,870.4 1584.5,876.6 1584.9,861.3 1585.2,864.6 1585.5,878.9 1585.8,867.6 1586.2,865.5 1586.5,871.3 1586.8,878.9 1587.2,882.6 1587.5,881.6 1587.8,865.4 1588.2,870.6 1588.5,865.3 1588.8,866.7 1589.1,873.9 1589.5,874.5 1589.8,879.0 1590.1,881.9 1590.5,881.2 1590.8,876.1 1591.1,876.7 1591.5,864.1 1591.8,879.2 1592.1,877.4 1592.4,879.6 1592.8,877.8 1593.1,871.2 1593.4,882.7 1593.8,884.1 1594.1,871.4 1594.4,867.6 1594.8,884.0 1595.1,878.9 1595.4,881.8 1595.7,866.9 1596.1,882.1 1596.4,879.6 1596.7,867.6 1597.1,867.4 1597.4,874.7 1597.7,867.5 1598.1,875.5 1598.4,872.2 1598.7,883.7 1599.0,877.2 1599.4,872.4 1599.7,883.7 1600.0,870.5 1600.4,879.0 1600.7,874.5 1601.0,881.3 1601.4,865.9 1601.7,884.6 1602.0,889.8 1602.3,883.5 1602.7,875.6 1603.0,884.9 1603.3,886.9 1603.7,880.2 1604.0,873.9 1604.3,871.5 1604.7,874.9 1605.0,881.8 1605.3,885.9 1605.6,873.9 1606.0,873.3 1606.3,876.8 1606.6,882.6 1607.0,874.5 1607.3,880.7 1607.6,872.4 1608.0,885.2 1608.3,881.9 1608.6,877.3 1608.9,878.4 1609.3,881.2 1609.6,881.3 1609.9,883.3 1610.3,889.6 1610.6,875.6 1610.9,879.8 1611.3,885.0 1611.6,879.8 1611.9,885.5 1612.2,890.7 1612.6,877.1 1612.9,880.6 1613.2,872.8 1613.6,882.4 1613.9,874.5 1614.2,874.0 1614.6,882.1 1614.9,880.1 1615.2,873.3 1615.5,891.1 1615.9,879.7 1616.2,890.8 1616.5,875.9 1616.9,880.3 1617.2,880.7 1617.5,881.8 1617.9,884.8 1618.2,878.6 1618.5,891.7 1618.8,885.6 1619.2,888.0 1619.5,891.3 1619.8,879.5 1620.2,878.6 1620.5,883.6 1620.8,876.9 1621.2,882.5 1621.5,888.1 1621.8,877.2 1622.1,881.7 1622.5,883.9 1622.8,878.1 1623.1,876.4 1623.5,891.6 1623.8,891.5 1624.1,884.6 1624.5,892.8 1624.8,885.3 1625.1,891.8 1625.4,887.9 1625.8,892.2 1626.1,885.8 1626.4,884.9 1626.8,879.2 1627.1,886.5 1627.4,892.0 1627.8,878.2 1628.1,885.2 1628.4,890.7 1628.7,879.7 1629.1,894.9 1629.4,885.7 1629.7,891.8 1630.1,882.7 1630.4,877.9 1630.7,879.6 1631.1,882.0 1631.4,879.7 1631.7,876.0 1632.0,885.3 1632.4,884.8 1632.7,888.2 1633.0,889.1 1633.4,884.6 1633.7,891.3 1634.0,877.2 1634.4,896.5 1634.7,894.7 1635.0,893.5 1635.3,887.8 1635.7,890.2 1636.0,890.5 1636.3,898.3 1636.7,879.9 1637.0,884.5 1637.3,895.5 1637.7,890.1 1638.0,880.2 1638.3,891.2 1638.6,889.6 1639.0,884.4 1639.3,885.0 1639.6,890.4 1640.0,898.0 1640.3,885.1 1640.6,896.2 1641.0,898.7 1641.3,884.4 1641.6,887.0 1641.9,896.0 1642.3,890.5 1642.6,889.9 1642.9,886.8 1643.3,890.9 1643.6,885.8 1643.9,890.9 1644.3,898.1 1644.6,884.4 1644.9,894.7 1645.2,897.6 1645.6,888.5 1645.9,889.1 1646.2,894.7 1646.6,884.5 1646.9,885.1 1647.2,894.1 1647.6,899.1 1647.9,892.0 1648.2,891.1 1648.5,891.4 1648.9,889.2 1649.2,891.4 1649.5,896.5 1649.9,883.6 1650.2,893.6 1650.5,892.0 1650.9,894.7 1651.2,885.4 1651.5,892.8 1651.8,895.7 1652.2,898.5 1652.5,891.5 1652.8,889.4 1653.2,898.6 1653.5,879.3 1653.8,893.3 1654.2,885.4 1654.5,886.8 1654.8,886.2 1655.1,884.5 1655.5,895.0 1655.8,898.9 1656.1,900.1 1656.5,885.2 1656.8,886.9 1657.1,893.3 1657.5,895.5 1657.8,892.0 1658.1,891.3 1658.4,888.0 1658.8,892.5 1659.1,901.0 1659.4,897.6 1659.8,885.7 1660.1,899.3 1660.4,885.1 1660.8,895.8 1661.1,887.5 1661.4,886.6 1661.7,899.2 1662.1,893.3 1662.4,894.5 1662.7,889.3 1663.1,901.8 1663.4,895.9 1663.7,899.4 1664.1,895.2 1664.4,889.4 1664.7,894.2 1665.0,899.4 1665.4,892.1 1665.7,896.9 1666.0,894.5 1666.4,886.4 1666.7,897.1 1667.0,893.9 1667.4,891.3 1667.7,901.0 1668.0,890.3 1668.3,887.4 1668.7,887.0 1669.0,892.0 1669.3,905.5 1669.7,900.4 1670.0,887.2 1670.3,897.1 1670.7,895.1 1671.0,901.5 1671.3,886.4 1671.6,897.4 1672.0,884.0 1672.3,894.5 1672.6,889.9 1673.0,887.7 1673.3,899.3 1673.6,899.7 1674.0,902.9 1674.3,896.2 1674.6,900.7 1674.9,898.4 1675.3,892.9 1675.6,892.1 1675.9,884.5 1676.3,891.4 1676.6,903.5 1676.9,894.0 1677.3,895.0 1677.6,903.8 1677.9,896.6 1678.2,890.1 1678.6,896.4 1678.9,903.7 1679.2,906.1 1679.6,899.0 1679.9,892.5 1680.2,900.9 1680.6,897.0 1680.9,904.3 1681.2,890.6 1681.5,894.4 1681.9,889.2 1682.2,893.6 1682.5,894.0 1682.9,893.4 1683.2,895.7 1683.5,893.8 1683.9,899.9 1684.2,890.5 1684.5,891.5 1684.8,892.2 1685.2,894.9 1685.5,892.4 1685.8,900.8 1686.2,893.6 1686.5,900.8 1686.8,899.7 1687.2,895.7 1687.5,895.9 1687.8,891.3 1688.1,904.2 1688.5,896.1 1688.8,892.1 1689.1,898.5 1689.5,906.1 1689.8,905.9 1690.1,890.7 1690.5,900.6 1690.8,897.6 1691.1,892.9 1691.4,895.1 1691.8,905.0 1692.1,900.2 1692.4,904.5 1692.8,901.5 1693.1,896.3 1693.4,899.0 1693.8,894.1 1694.1,904.3 1694.4,902.7 1694.7,892.6 1695.1,899.5 1695.4,897.8 1695.7,898.4 1696.1,892.3 1696.4,901.1 1696.7,896.4 1697.1,898.0 1697.4,900.9 1697.7,892.4 1698.0,894.6 1698.4,888.4 1698.7,902.1 1699.0,903.0 1699.4,892.5 1699.7,900.3 1700.0,893.1 1700.4,898.3 1700.7,902.0 1701.0,904.0 1701.3,903.9 1701.7,904.3 1702.0,899.3 1702.3,906.3 1702.7,902.7 1703.0,907.8 1703.3,908.5 1703.7,906.8 1704.0,900.6 1704.3,906.2 1704.6,902.1 1705.0,890.2 1705.3,907.1 1705.6,907.9 1706.0,895.8 1706.3,904.7 1706.6,903.4 1707.0,902.6 1707.3,900.6 1707.6,895.8 1707.9,909.0 1708.3,902.9 1708.6,902.9 1708.9,908.2 1709.3,906.4 1709.6,902.1 1709.9,897.5 1710.3,901.8 1710.6,908.5 1710.9,901.4 1711.2,902.5 1711.6,900.6 1711.9,910.3 1712.2,903.7 1712.6,896.0 1712.9,898.4 1713.2,908.8 1713.6,903.4 1713.9,900.2 1714.2,902.5 1714.5,905.0 1714.9,903.8 1715.2,900.6 1715.5,905.5 1715.9,905.4 1716.2,898.8 1716.5,911.2 1716.9,903.3 1717.2,904.8 1717.5,908.1 1717.8,905.8 1718.2,903.6 1718.5,909.4 1718.8,901.1 1719.2,911.8 1719.5,914.8 1719.8,911.3 1720.2,898.8 1720.5,896.4 1720.8,902.0 1721.1,903.8 1721.5,908.1 1721.8,899.2 1722.1,910.6 1722.5,904.8 1722.8,901.6 1723.1,899.7 1723.5,905.7 1723.8,898.1 1724.1,904.7 1724.4,900.5 1724.8,903.2 1725.1,901.6 1725.4,897.1 1725.8,905.5 1726.1,902.1 1726.4,904.4 1726.8,901.1 1727.1,901.1 1727.4,900.7 1727.7,902.8 1728.1,908.6 1728.4,911.7 1728.7,899.0 1729.1,905.0 1729.4,901.8 1729.7,908.0 1730.1,902.1 1730.4,910.8 1730.7,898.6 1731.0,901.4 1731.4,908.2 1731.7,913.0 1732.0,906.5 1732.4,908.0 1732.7,905.4 1733.0,901.1 1733.4,908.6 1733.7,905.7 1734.0,909.4 1734.3,904.7 1734.7,901.1 1735.0,913.2 1735.3,910.3 1735.7,911.4 1736.0,912.4 1736.3,905.1 1736.7,896.9 1737.0,902.3 1737.3,910.9 1737.6,913.0 1738.0,901.3 1738.3,899.6 1738.6,910.5 1739.0,909.0 1739.3,900.5 1739.6,909.9 1740.0,905.7 1740.3,899.3 1740.6,900.7 1740.9,900.7 1741.3,910.9 1741.6,908.2 1741.9,913.7 1742.3,913.4 1742.6,905.3 1742.9,908.9 1743.3,914.0 1743.6,906.7 1743.9,900.7 1744.2,911.0 1744.6,910.7 1744.9,908.4 1745.2,906.2 1745.6,908.2 1745.9,903.6 1746.2,902.2 1746.6,901.3 1746.9,913.1 1747.2,914.2 1747.5,902.6 1747.9,903.3 1748.2,906.7 1748.5,902.0 1748.9,904.7 1749.2,901.6 1749.5,911.8" fill="none" stroke="#e8383c" stroke-width="0.9" stroke-linejoin="round" clip-path="url(#cf)"/>
<path d="M1221.6,558.9 V968.8 H1750.7" fill="none" stroke="#111" stroke-width="2.5" stroke-linejoin="miter"/>
<path d="M1221.6,559.9 H1749.7 V968.8" fill="none" stroke="#111" stroke-width="2.0" stroke-linejoin="miter"/>
<line x1="1269.6" y1="968.8" x2="1269.6" y2="976.8" stroke="#111" stroke-width="2.3" />
<text x="1269.6" y="1001.8" font-size="26" text-anchor="middle" font-family="Liberation Serif, serif" font-weight="bold" fill="#111"  textLength="24.7" lengthAdjust="spacingAndGlyphs">10</text>
<line x1="1365.6" y1="968.8" x2="1365.6" y2="976.8" stroke="#111" stroke-width="2.3" />
<text x="1365.6" y="1001.8" font-size="26" text-anchor="middle" font-family="Liberation Serif, serif" font-weight="bold" fill="#111"  textLength="24.7" lengthAdjust="spacingAndGlyphs">20</text>
<line x1="1461.6" y1="968.8" x2="1461.6" y2="976.8" stroke="#111" stroke-width="2.3" />
<text x="1461.6" y="1001.8" font-size="26" text-anchor="middle" font-family="Liberation Serif, serif" font-weight="bold" fill="#111"  textLength="24.7" lengthAdjust="spacingAndGlyphs">30</text>
<line x1="1557.7" y1="968.8" x2="1557.7" y2="976.8" stroke="#111" stroke-width="2.3" />
<text x="1557.7" y="1001.8" font-size="26" text-anchor="middle" font-family="Liberation Serif, serif" font-weight="bold" fill="#111"  textLength="24.7" lengthAdjust="spacingAndGlyphs">40</text>
<line x1="1653.7" y1="968.8" x2="1653.7" y2="976.8" stroke="#111" stroke-width="2.3" />
<text x="1653.7" y="1001.8" font-size="26" text-anchor="middle" font-family="Liberation Serif, serif" font-weight="bold" fill="#111"  textLength="24.7" lengthAdjust="spacingAndGlyphs">50</text>
<line x1="1749.7" y1="968.8" x2="1749.7" y2="976.8" stroke="#111" stroke-width="2.3" />
<text x="1749.7" y="1001.8" font-size="26" text-anchor="middle" font-family="Liberation Serif, serif" font-weight="bold" fill="#111"  textLength="24.7" lengthAdjust="spacingAndGlyphs">60</text>
<line x1="1317.6" y1="968.8" x2="1317.6" y2="972.8" stroke="#111" stroke-width="1.8399999999999999" />
<line x1="1413.6" y1="968.8" x2="1413.6" y2="972.8" stroke="#111" stroke-width="1.8399999999999999" />
<line x1="1509.7" y1="968.8" x2="1509.7" y2="972.8" stroke="#111" stroke-width="1.8399999999999999" />
<line x1="1605.7" y1="968.8" x2="1605.7" y2="972.8" stroke="#111" stroke-width="1.8399999999999999" />
<line x1="1701.7" y1="968.8" x2="1701.7" y2="972.8" stroke="#111" stroke-width="1.8399999999999999" />
<line x1="1221.6" y1="968.8" x2="1221.6" y2="972.8" stroke="#111" stroke-width="1.8399999999999999" />
<text x="1491.5" y="1032.0" font-size="25.5" text-anchor="middle" font-family="Liberation Serif, serif" font-weight="bold" fill="#111"  textLength="126.5" lengthAdjust="spacingAndGlyphs">2θ(degree)</text>
<text transform="translate(1211.0,757.2) rotate(-90)" font-size="27" text-anchor="middle" font-family="Liberation Serif, serif" font-weight="bold" fill="#111"  textLength="161.5" lengthAdjust="spacingAndGlyphs">Intensity (a.u)</text>
<line x1="1606.3" y1="599.3" x2="1665.7" y2="599.3" stroke="#7c7c7c" stroke-width="1.4" />
<text x="1672.3" y="607.7" font-size="25" text-anchor="start" font-family="Liberation Serif, serif" font-weight="bold" fill="#111"  textLength="60.0" lengthAdjust="spacingAndGlyphs">NF35</text>
<line x1="1606.3" y1="630.5" x2="1665.7" y2="630.5" stroke="#e9aeb4" stroke-width="1.4" />
<text x="1672.3" y="638.9" font-size="25" text-anchor="start" font-family="Liberation Serif, serif" font-weight="bold" fill="#111"  textLength="46.0" lengthAdjust="spacingAndGlyphs">NF2</text>
<path d="M80.2,1088.3 V1494.2 H587.4" fill="none" stroke="#111" stroke-width="2.5" stroke-linejoin="miter"/>
<path d="M80.2,1089.3 H586.4 V1494.2" fill="none" stroke="#111" stroke-width="2.0" stroke-linejoin="miter"/>
<line x1="71.2" y1="1089.3" x2="80.2" y2="1089.3" stroke="#111" stroke-width="2.3" />
<text x="66.2" y="1096.9" font-size="24" text-anchor="end" font-family="Liberation Serif, serif" font-weight="bold" fill="#111" >3.5</text>
<line x1="71.2" y1="1143.3" x2="80.2" y2="1143.3" stroke="#111" stroke-width="2.3" />
<text x="66.2" y="1150.9" font-size="24" text-anchor="end" font-family="Liberation Serif, serif" font-weight="bold" fill="#111" >3.0</text>
<line x1="71.2" y1="1197.2" x2="80.2" y2="1197.2" stroke="#111" stroke-width="2.3" />
<text x="66.2" y="1204.8" font-size="24" text-anchor="end" font-family="Liberation Serif, serif" font-weight="bold" fill="#111" >2.5</text>
<line x1="71.2" y1="1251.2" x2="80.2" y2="1251.2" stroke="#111" stroke-width="2.3" />
<text x="66.2" y="1258.8" font-size="24" text-anchor="end" font-family="Liberation Serif, serif" font-weight="bold" fill="#111" >2.0</text>
<line x1="71.2" y1="1305.2" x2="80.2" y2="1305.2" stroke="#111" stroke-width="2.3" />
<text x="66.2" y="1312.8" font-size="24" text-anchor="end" font-family="Liberation Serif, serif" font-weight="bold" fill="#111" >1.5</text>
<line x1="71.2" y1="1359.2" x2="80.2" y2="1359.2" stroke="#111" stroke-width="2.3" />
<text x="66.2" y="1366.8" font-size="24" text-anchor="end" font-family="Liberation Serif, serif" font-weight="bold" fill="#111" >1.0</text>
<line x1="71.2" y1="1413.1" x2="80.2" y2="1413.1" stroke="#111" stroke-width="2.3" />
<text x="66.2" y="1420.7" font-size="24" text-anchor="end" font-family="Liberation Serif, serif" font-weight="bold" fill="#111" >0.5</text>
<line x1="71.2" y1="1467.1" x2="80.2" y2="1467.1" stroke="#111" stroke-width="2.3" />
<text x="66.2" y="1474.7" font-size="24" text-anchor="end" font-family="Liberation Serif, serif" font-weight="bold" fill="#111" >0.0</text>
<line x1="75.7" y1="1116.3" x2="80.2" y2="1116.3" stroke="#111" stroke-width="1.8399999999999999" />
<line x1="75.7" y1="1170.3" x2="80.2" y2="1170.3" stroke="#111" stroke-width="1.8399999999999999" />
<line x1="75.7" y1="1224.2" x2="80.2" y2="1224.2" stroke="#111" stroke-width="1.8399999999999999" />
<line x1="75.7" y1="1278.2" x2="80.2" y2="1278.2" stroke="#111" stroke-width="1.8399999999999999" />
<line x1="75.7" y1="1332.2" x2="80.2" y2="1332.2" stroke="#111" stroke-width="1.8399999999999999" />
<line x1="75.7" y1="1386.1" x2="80.2" y2="1386.1" stroke="#111" stroke-width="1.8399999999999999" />
<line x1="75.7" y1="1440.1" x2="80.2" y2="1440.1" stroke="#111" stroke-width="1.8399999999999999" />
<line x1="125.8" y1="1494.2" x2="125.8" y2="1502.2" stroke="#111" stroke-width="2.3" />
<text x="125.8" y="1526.3" font-size="25" text-anchor="middle" font-family="Liberation Serif, serif" font-weight="bold" fill="#111" >100</text>
<line x1="187.1" y1="1494.2" x2="187.1" y2="1502.2" stroke="#111" stroke-width="2.3" />
<text x="187.1" y="1526.3" font-size="25" text-anchor="middle" font-family="Liberation Serif, serif" font-weight="bold" fill="#111" >200</text>
<line x1="248.4" y1="1494.2" x2="248.4" y2="1502.2" stroke="#111" stroke-width="2.3" />
<text x="248.4" y="1526.3" font-size="25" text-anchor="middle" font-family="Liberation Serif, serif" font-weight="bold" fill="#111" >300</text>
<line x1="309.7" y1="1494.2" x2="309.7" y2="1502.2" stroke="#111" stroke-width="2.3" />
<text x="309.7" y="1526.3" font-size="25" text-anchor="middle" font-family="Liberation Serif, serif" font-weight="bold" fill="#111" >400</text>
<line x1="371.0" y1="1494.2" x2="371.0" y2="1502.2" stroke="#111" stroke-width="2.3" />
<text x="371.0" y="1526.3" font-size="25" text-anchor="middle" font-family="Liberation Serif, serif" font-weight="bold" fill="#111" >500</text>
<line x1="432.3" y1="1494.2" x2="432.3" y2="1502.2" stroke="#111" stroke-width="2.3" />
<text x="432.3" y="1526.3" font-size="25" text-anchor="middle" font-family="Liberation Serif, serif" font-weight="bold" fill="#111" >600</text>
<line x1="493.6" y1="1494.2" x2="493.6" y2="1502.2" stroke="#111" stroke-width="2.3" />
<text x="493.6" y="1526.3" font-size="25" text-anchor="middle" font-family="Liberation Serif, serif" font-weight="bold" fill="#111" >700</text>
<line x1="554.9" y1="1494.2" x2="554.9" y2="1502.2" stroke="#111" stroke-width="2.3" />
<text x="554.9" y="1526.3" font-size="25" text-anchor="middle" font-family="Liberation Serif, serif" font-weight="bold" fill="#111" >800</text>
<line x1="156.4" y1="1494.2" x2="156.4" y2="1498.2" stroke="#111" stroke-width="1.8399999999999999" />
<line x1="217.8" y1="1494.2" x2="217.8" y2="1498.2" stroke="#111" stroke-width="1.8399999999999999" />
<line x1="279.0" y1="1494.2" x2="279.0" y2="1498.2" stroke="#111" stroke-width="1.8399999999999999" />
<line x1="340.4" y1="1494.2" x2="340.4" y2="1498.2" stroke="#111" stroke-width="1.8399999999999999" />
<line x1="401.6" y1="1494.2" x2="401.6" y2="1498.2" stroke="#111" stroke-width="1.8399999999999999" />
<line x1="462.9" y1="1494.2" x2="462.9" y2="1498.2" stroke="#111" stroke-width="1.8399999999999999" />
<line x1="524.2" y1="1494.2" x2="524.2" y2="1498.2" stroke="#111" stroke-width="1.8399999999999999" />
<line x1="95.2" y1="1494.2" x2="95.2" y2="1498.2" stroke="#111" stroke-width="1.8399999999999999" />
<line x1="585.6" y1="1494.2" x2="585.6" y2="1498.2" stroke="#111" stroke-width="1.8399999999999999" />
<text x="343.8" y="1555.8" font-size="25.3" text-anchor="middle" font-family="Liberation Serif, serif" font-weight="bold" fill="#111"  textLength="206.0" lengthAdjust="spacingAndGlyphs">Temperature (°C)</text>
<text transform="translate(25.3,1291.0) rotate(-90)" font-size="27" text-anchor="middle" font-family="Liberation Serif, serif" font-weight="bold" fill="#111"  textLength="134.0" lengthAdjust="spacingAndGlyphs">Weight (%)</text>
<polyline points="80.3,1143.2 80.6,1143.2 81.3,1143.1 82.2,1143.1 83.6,1143.0 84.8,1142.9 86.0,1142.8 87.2,1142.6 88.4,1142.4 89.5,1142.4 90.6,1142.5 91.6,1142.8 92.7,1143.3 93.9,1144.0 95.3,1145.1 96.9,1146.5 98.6,1148.3 100.3,1150.0 102.1,1151.8 103.8,1153.5 105.6,1155.3 107.4,1156.9 109.4,1158.4 111.5,1159.8 113.7,1161.1 116.1,1162.4 118.7,1163.6 121.5,1164.7 124.6,1165.7 127.9,1166.7 131.7,1167.5 135.7,1168.2 140.1,1168.8 144.6,1169.3 149.4,1169.8 154.5,1170.1 159.7,1170.4 164.9,1170.6 170.2,1170.9 175.4,1171.0 180.6,1171.2 185.9,1171.5 191.1,1171.8 196.3,1172.3 201.6,1172.8 206.4,1173.4 210.7,1174.1 214.7,1174.9 218.2,1175.8 221.3,1176.7 224.1,1177.8 226.7,1179.0 228.8,1180.3 230.8,1181.8 232.5,1183.3 234.1,1184.9 235.4,1186.7 236.7,1188.7 238.0,1191.1 239.3,1193.9 240.6,1196.9 241.9,1200.2 243.2,1203.7 244.5,1207.4 245.9,1211.3 247.2,1215.2 248.5,1219.2 249.8,1223.1 251.1,1227.0 252.5,1231.1 254.0,1235.2 255.7,1239.5 257.4,1243.8 259.2,1248.1 260.9,1252.2 262.7,1256.3 264.4,1260.2 266.1,1263.9 267.9,1267.4 269.6,1270.7 271.4,1273.7 273.1,1276.5 274.9,1279.0 276.6,1281.2 278.4,1283.1 280.2,1284.9 282.2,1286.5 284.2,1288.1 286.4,1289.5 288.7,1290.8 291.1,1292.1 293.6,1293.4 296.2,1294.6 298.9,1295.7 301.5,1296.7 304.1,1297.5 306.7,1298.2 309.2,1298.9 311.6,1299.7 313.9,1300.5 316.1,1301.4 318.2,1302.4 320.1,1303.5 322.0,1304.7 323.7,1306.0 325.5,1307.5 327.2,1309.3 329.0,1311.2 330.7,1313.4 332.5,1315.6 334.2,1317.8 336.0,1320.0 337.7,1322.1 339.4,1324.3 341.2,1326.5 342.9,1328.7 344.7,1330.9 346.4,1332.9 348.2,1334.9 349.9,1336.8 351.7,1338.5 353.5,1340.2 355.5,1341.8 357.5,1343.3 359.7,1344.8 361.9,1346.3 364.1,1347.7 366.3,1349.0 368.5,1350.3 370.6,1351.6 372.8,1352.8 375.0,1354.0 377.2,1355.1 379.4,1356.3 381.5,1357.4 383.7,1358.5 385.9,1359.7 388.1,1360.9 390.3,1362.2 392.5,1363.6 394.6,1365.1 396.8,1366.7 399.0,1368.4 401.2,1370.2 403.4,1372.1 405.5,1374.1 407.7,1376.3 409.9,1378.6 412.1,1381.1 414.3,1383.6 416.4,1386.1 418.6,1388.7 420.8,1391.3 423.0,1393.9 425.2,1396.4 427.4,1398.9 429.5,1401.3 431.7,1403.6 433.9,1405.8 436.1,1407.9 438.3,1409.8 440.4,1411.5 442.6,1413.0 444.8,1414.4 447.0,1415.5 449.3,1416.6 451.7,1417.7 454.2,1418.8 456.8,1419.8 459.6,1420.9 462.7,1421.9 466.0,1423.0 469.5,1424.0 472.9,1425.0 476.4,1426.0 479.9,1426.9 483.4,1427.8 486.9,1428.6 490.4,1429.4 493.9,1430.1 497.4,1430.8 500.7,1431.6 503.7,1432.5 506.5,1433.4 509.2,1434.5 512.0,1435.5 515.1,1436.5 518.3,1437.5 521.8,1438.5 525.3,1439.4 528.8,1440.4 532.3,1441.5 535.8,1442.5 539.0,1443.5 542.1,1444.4 544.9,1445.3 547.6,1446.0 549.8,1446.7 551.8,1447.3 553.4,1447.7 554.8,1448.1 555.7,1448.4 556.4,1448.5 556.7,1448.6 556.7,1466.1" fill="none" stroke="#454545" stroke-width="1.9" stroke-linejoin="round" stroke-linecap="round" />
<polyline points="80.3,1256.6 80.6,1256.6 81.3,1256.6 82.2,1256.5 83.6,1256.4 84.9,1256.5 86.2,1256.7 87.5,1257.1 88.8,1257.6 90.2,1258.3 91.7,1259.2 93.4,1260.2 95.1,1261.4 96.9,1262.6 98.6,1263.8 100.3,1265.0 102.1,1266.1 104.1,1267.1 106.2,1268.1 108.6,1268.9 111.3,1269.6 114.1,1270.2 117.1,1270.6 120.4,1271.0 123.9,1271.3 127.8,1271.5 132.2,1271.7 137.0,1271.8 142.2,1271.9 147.7,1272.0 153.4,1272.1 159.2,1272.3 165.4,1272.4 171.2,1272.7 176.9,1272.9 182.4,1273.2 187.6,1273.6 192.8,1273.9 198.1,1274.3 203.3,1274.8 208.6,1275.2 213.5,1275.6 218.0,1276.1 222.3,1276.5 226.2,1276.9 229.7,1277.5 232.8,1278.1 235.4,1278.8 237.6,1279.6 239.6,1280.5 241.6,1281.5 243.5,1282.7 245.2,1284.0 246.9,1285.6 248.7,1287.5 250.4,1289.6 252.2,1292.1 254.1,1294.9 256.3,1298.1 258.7,1301.6 261.3,1305.6 264.0,1309.5 266.6,1313.4 269.2,1317.3 271.8,1321.3 274.4,1325.1 277.1,1328.8 279.7,1332.4 282.3,1335.9 284.9,1339.4 287.5,1342.9 290.1,1346.4 292.8,1349.8 295.4,1353.3 298.0,1356.8 300.6,1360.3 303.2,1363.8 305.8,1367.1 308.5,1370.1 311.1,1373.0 313.7,1375.6 316.3,1378.2 318.9,1380.7 321.6,1383.2 324.2,1385.6 326.8,1388.0 329.4,1390.4 332.0,1392.8 334.6,1395.2 337.2,1397.4 339.6,1399.6 341.8,1401.6 344.0,1403.5 346.1,1405.3 348.1,1406.9 349.9,1408.4 351.7,1409.7 353.5,1410.8 355.5,1411.8 357.5,1412.7 359.7,1413.4 361.9,1414.1 364.1,1414.9 366.3,1415.7 368.5,1416.6 370.6,1417.5 372.8,1418.3 375.0,1419.2 377.2,1420.1 379.3,1421.0 381.2,1421.8 383.1,1422.7 384.8,1423.6 386.6,1424.5 388.3,1425.5 390.1,1426.5 391.8,1427.5 393.5,1428.7 395.3,1430.0 397.0,1431.4 398.8,1433.0 400.5,1434.7 402.3,1436.6 404.0,1438.6 405.8,1440.8 407.5,1442.9 409.2,1445.0 411.0,1447.1 412.7,1449.1 414.4,1450.9 415.9,1452.4 417.3,1453.7 418.6,1454.7 420.0,1455.7 421.6,1456.6 423.2,1457.3 425.0,1458.0 427.0,1458.7 429.4,1459.4 432.2,1460.1 435.2,1460.8 438.4,1461.4 441.6,1462.0 445.0,1462.4 448.5,1462.8 452.2,1463.1 456.2,1463.4 460.3,1463.7 464.7,1463.9 469.0,1464.2 473.4,1464.4 477.7,1464.6 482.1,1464.8 486.7,1464.9 491.5,1465.0 496.5,1465.2 501.7,1465.2 505.9,1465.4 508.9,1465.5 510.9,1465.8 511.8,1466.0 512.7,1466.2 513.5,1466.2 514.4,1466.0 515.3,1465.8 517.2,1465.6 520.3,1465.6 524.4,1465.6 529.7,1465.8 534.8,1465.9 539.8,1466.0 544.7,1466.1 549.5,1466.1 553.1,1466.1 555.5,1466.1 556.7,1466.1" fill="none" stroke="#d04848" stroke-width="1.9" stroke-linejoin="round" stroke-linecap="round" />
<line x1="434.9" y1="1152.1" x2="491.8" y2="1152.1" stroke="#454545" stroke-width="1.9" />
<text x="497.9" y="1160.7" font-size="24" text-anchor="start" font-family="Liberation Serif, serif" font-weight="bold" fill="#111"  textLength="55.5" lengthAdjust="spacingAndGlyphs">NF35</text>
<line x1="434.9" y1="1183.7" x2="491.8" y2="1183.7" stroke="#c4504e" stroke-width="1.9" />
<text x="497.9" y="1192.2" font-size="24" text-anchor="start" font-family="Liberation Serif, serif" font-weight="bold" fill="#111"  textLength="42.5" lengthAdjust="spacingAndGlyphs">NF2</text>
<line x1="700.8" y1="1412.1" x2="700.8" y2="1404.9" stroke="#8a8a8a" stroke-width="1" />
<line x1="696.8" y1="1412.1" x2="704.8" y2="1412.1" stroke="#8a8a8a" stroke-width="1" />
<line x1="696.8" y1="1404.9" x2="704.8" y2="1404.9" stroke="#8a8a8a" stroke-width="1" />
<line x1="734.1" y1="1367.3" x2="734.1" y2="1354.1" stroke="#8a8a8a" stroke-width="1" />
<line x1="730.1" y1="1367.3" x2="738.1" y2="1367.3" stroke="#8a8a8a" stroke-width="1" />
<line x1="730.1" y1="1354.1" x2="738.1" y2="1354.1" stroke="#8a8a8a" stroke-width="1" />
<line x1="767.5" y1="1338.5" x2="767.5" y2="1324.7" stroke="#8a8a8a" stroke-width="1" />
<line x1="763.5" y1="1338.5" x2="771.5" y2="1338.5" stroke="#8a8a8a" stroke-width="1" />
<line x1="763.5" y1="1324.7" x2="771.5" y2="1324.7" stroke="#8a8a8a" stroke-width="1" />
<line x1="800.8" y1="1305.2" x2="800.8" y2="1289.6" stroke="#8a8a8a" stroke-width="1" />
<line x1="796.8" y1="1305.2" x2="804.8" y2="1305.2" stroke="#8a8a8a" stroke-width="1" />
<line x1="796.8" y1="1289.6" x2="804.8" y2="1289.6" stroke="#8a8a8a" stroke-width="1" />
<line x1="834.2" y1="1283.3" x2="834.2" y2="1265.3" stroke="#8a8a8a" stroke-width="1" />
<line x1="830.2" y1="1283.3" x2="838.2" y2="1283.3" stroke="#8a8a8a" stroke-width="1" />
<line x1="830.2" y1="1265.3" x2="838.2" y2="1265.3" stroke="#8a8a8a" stroke-width="1" />
<line x1="867.5" y1="1249.1" x2="867.5" y2="1229.9" stroke="#8a8a8a" stroke-width="1" />
<line x1="863.5" y1="1249.1" x2="871.5" y2="1249.1" stroke="#8a8a8a" stroke-width="1" />
<line x1="863.5" y1="1229.9" x2="871.5" y2="1229.9" stroke="#8a8a8a" stroke-width="1" />
<line x1="934.2" y1="1218.8" x2="934.2" y2="1199.6" stroke="#8a8a8a" stroke-width="1" />
<line x1="930.2" y1="1218.8" x2="938.2" y2="1218.8" stroke="#8a8a8a" stroke-width="1" />
<line x1="930.2" y1="1199.6" x2="938.2" y2="1199.6" stroke="#8a8a8a" stroke-width="1" />
<line x1="1000.9" y1="1205.6" x2="1000.9" y2="1186.3" stroke="#8a8a8a" stroke-width="1" />
<line x1="996.9" y1="1205.6" x2="1004.9" y2="1205.6" stroke="#8a8a8a" stroke-width="1" />
<line x1="996.9" y1="1186.3" x2="1004.9" y2="1186.3" stroke="#8a8a8a" stroke-width="1" />
<line x1="1067.6" y1="1186.0" x2="1067.6" y2="1166.2" stroke="#8a8a8a" stroke-width="1" />
<line x1="1063.6" y1="1186.0" x2="1071.6" y2="1186.0" stroke="#8a8a8a" stroke-width="1" />
<line x1="1063.6" y1="1166.2" x2="1071.6" y2="1166.2" stroke="#8a8a8a" stroke-width="1" />
<polyline points="667.4,1468.5 700.8,1408.5 734.1,1360.7 767.5,1331.6 800.8,1297.4 834.2,1274.3 867.5,1239.5 934.2,1209.2 1000.9,1195.9 1067.6,1176.1" fill="none" stroke="#111" stroke-width="2.4" stroke-linejoin="round" stroke-linecap="round" />
<rect x="698.8" y="1406.5" width="4.0" height="4.0" fill="#111" stroke="none" stroke-width="1"/>
<rect x="732.1" y="1358.7" width="4.0" height="4.0" fill="#111" stroke="none" stroke-width="1"/>
<rect x="765.5" y="1329.6" width="4.0" height="4.0" fill="#111" stroke="none" stroke-width="1"/>
<rect x="798.8" y="1295.4" width="4.0" height="4.0" fill="#111" stroke="none" stroke-width="1"/>
<rect x="832.2" y="1272.3" width="4.0" height="4.0" fill="#111" stroke="none" stroke-width="1"/>
<rect x="865.5" y="1237.5" width="4.0" height="4.0" fill="#111" stroke="none" stroke-width="1"/>
<rect x="932.2" y="1207.2" width="4.0" height="4.0" fill="#111" stroke="none" stroke-width="1"/>
<rect x="998.9" y="1193.9" width="4.0" height="4.0" fill="#111" stroke="none" stroke-width="1"/>
<rect x="1065.6" y="1174.1" width="4.0" height="4.0" fill="#111" stroke="none" stroke-width="1"/>
<line x1="700.8" y1="1425.6" x2="700.8" y2="1418.4" stroke="#f0b4b8" stroke-width="1" />
<line x1="696.8" y1="1425.6" x2="704.8" y2="1425.6" stroke="#f0b4b8" stroke-width="1" />
<line x1="696.8" y1="1418.4" x2="704.8" y2="1418.4" stroke="#f0b4b8" stroke-width="1" />
<line x1="734.1" y1="1394.1" x2="734.1" y2="1386.9" stroke="#f0b4b8" stroke-width="1" />
<line x1="730.1" y1="1394.1" x2="738.1" y2="1394.1" stroke="#f0b4b8" stroke-width="1" />
<line x1="730.1" y1="1386.9" x2="738.1" y2="1386.9" stroke="#f0b4b8" stroke-width="1" />
<line x1="767.5" y1="1356.8" x2="767.5" y2="1349.0" stroke="#f0b4b8" stroke-width="1" />
<line x1="763.5" y1="1356.8" x2="771.5" y2="1356.8" stroke="#f0b4b8" stroke-width="1" />
<line x1="763.5" y1="1349.0" x2="771.5" y2="1349.0" stroke="#f0b4b8" stroke-width="1" />
<line x1="800.8" y1="1333.7" x2="800.8" y2="1325.3" stroke="#f0b4b8" stroke-width="1" />
<line x1="796.8" y1="1333.7" x2="804.8" y2="1333.7" stroke="#f0b4b8" stroke-width="1" />
<line x1="796.8" y1="1325.3" x2="804.8" y2="1325.3" stroke="#f0b4b8" stroke-width="1" />
<line x1="834.2" y1="1311.8" x2="834.2" y2="1302.8" stroke="#f0b4b8" stroke-width="1" />
<line x1="830.2" y1="1311.8" x2="838.2" y2="1311.8" stroke="#f0b4b8" stroke-width="1" />
<line x1="830.2" y1="1302.8" x2="838.2" y2="1302.8" stroke="#f0b4b8" stroke-width="1" />
<line x1="867.5" y1="1291.1" x2="867.5" y2="1281.5" stroke="#f0b4b8" stroke-width="1" />
<line x1="863.5" y1="1291.1" x2="871.5" y2="1291.1" stroke="#f0b4b8" stroke-width="1" />
<line x1="863.5" y1="1281.5" x2="871.5" y2="1281.5" stroke="#f0b4b8" stroke-width="1" />
<line x1="934.2" y1="1257.5" x2="934.2" y2="1245.5" stroke="#f0b4b8" stroke-width="1" />
<line x1="930.2" y1="1257.5" x2="938.2" y2="1257.5" stroke="#f0b4b8" stroke-width="1" />
<line x1="930.2" y1="1245.5" x2="938.2" y2="1245.5" stroke="#f0b4b8" stroke-width="1" />
<line x1="1000.9" y1="1232.3" x2="1000.9" y2="1220.3" stroke="#f0b4b8" stroke-width="1" />
<line x1="996.9" y1="1232.3" x2="1004.9" y2="1232.3" stroke="#f0b4b8" stroke-width="1" />
<line x1="996.9" y1="1220.3" x2="1004.9" y2="1220.3" stroke="#f0b4b8" stroke-width="1" />
<line x1="1067.6" y1="1208.0" x2="1067.6" y2="1194.7" stroke="#f0b4b8" stroke-width="1" />
<line x1="1063.6" y1="1208.0" x2="1071.6" y2="1208.0" stroke="#f0b4b8" stroke-width="1" />
<line x1="1063.6" y1="1194.7" x2="1071.6" y2="1194.7" stroke="#f0b4b8" stroke-width="1" />
<polyline points="667.4,1468.5 700.8,1422.0 734.1,1390.5 767.5,1352.9 800.8,1329.5 834.2,1307.3 867.5,1286.3 934.2,1251.5 1000.9,1226.3 1067.6,1201.4" fill="none" stroke="#d8545a" stroke-width="2.4" stroke-linejoin="round" stroke-linecap="round" />
<rect x="698.8" y="1420.0" width="4.0" height="4.0" fill="#d8545a" stroke="none" stroke-width="1"/>
<rect x="732.1" y="1388.5" width="4.0" height="4.0" fill="#d8545a" stroke="none" stroke-width="1"/>
<rect x="765.5" y="1350.9" width="4.0" height="4.0" fill="#d8545a" stroke="none" stroke-width="1"/>
<rect x="798.8" y="1327.5" width="4.0" height="4.0" fill="#d8545a" stroke="none" stroke-width="1"/>
<rect x="832.2" y="1305.3" width="4.0" height="4.0" fill="#d8545a" stroke="none" stroke-width="1"/>
<rect x="865.5" y="1284.3" width="4.0" height="4.0" fill="#d8545a" stroke="none" stroke-width="1"/>
<rect x="932.2" y="1249.5" width="4.0" height="4.0" fill="#d8545a" stroke="none" stroke-width="1"/>
<rect x="998.9" y="1224.3" width="4.0" height="4.0" fill="#d8545a" stroke="none" stroke-width="1"/>
<rect x="1065.6" y="1199.4" width="4.0" height="4.0" fill="#d8545a" stroke="none" stroke-width="1"/>
<path d="M667.4,1107.3 V1468.5 H1168.7" fill="none" stroke="#111" stroke-width="2.2" stroke-linejoin="miter"/>
<path d="M667.4,1108.3 H1167.7 V1468.5" fill="none" stroke="#111" stroke-width="2.0" stroke-linejoin="miter"/>
<line x1="659.4" y1="1108.3" x2="667.4" y2="1108.3" stroke="#111" stroke-width="2.3" />
<text x="653.4" y="1115.3" font-size="22" text-anchor="end" font-family="Liberation Serif, serif" font-weight="bold" fill="#111" >120</text>
<line x1="659.4" y1="1168.3" x2="667.4" y2="1168.3" stroke="#111" stroke-width="2.3" />
<text x="653.4" y="1175.3" font-size="22" text-anchor="end" font-family="Liberation Serif, serif" font-weight="bold" fill="#111" >100</text>
<line x1="659.4" y1="1228.4" x2="667.4" y2="1228.4" stroke="#111" stroke-width="2.3" />
<text x="653.4" y="1235.4" font-size="22" text-anchor="end" font-family="Liberation Serif, serif" font-weight="bold" fill="#111" >80</text>
<line x1="659.4" y1="1288.4" x2="667.4" y2="1288.4" stroke="#111" stroke-width="2.3" />
<text x="653.4" y="1295.4" font-size="22" text-anchor="end" font-family="Liberation Serif, serif" font-weight="bold" fill="#111" >60</text>
<line x1="659.4" y1="1348.4" x2="667.4" y2="1348.4" stroke="#111" stroke-width="2.3" />
<text x="653.4" y="1355.4" font-size="22" text-anchor="end" font-family="Liberation Serif, serif" font-weight="bold" fill="#111" >40</text>
<line x1="659.4" y1="1408.5" x2="667.4" y2="1408.5" stroke="#111" stroke-width="2.3" />
<text x="653.4" y="1415.5" font-size="22" text-anchor="end" font-family="Liberation Serif, serif" font-weight="bold" fill="#111" >20</text>
<line x1="659.4" y1="1468.5" x2="667.4" y2="1468.5" stroke="#111" stroke-width="2.3" />
<text x="653.4" y="1475.5" font-size="22" text-anchor="end" font-family="Liberation Serif, serif" font-weight="bold" fill="#111" >0</text>
<line x1="663.4" y1="1138.3" x2="667.4" y2="1138.3" stroke="#111" stroke-width="1.8399999999999999" />
<line x1="663.4" y1="1198.3" x2="667.4" y2="1198.3" stroke="#111" stroke-width="1.8399999999999999" />
<line x1="663.4" y1="1258.4" x2="667.4" y2="1258.4" stroke="#111" stroke-width="1.8399999999999999" />
<line x1="663.4" y1="1318.4" x2="667.4" y2="1318.4" stroke="#111" stroke-width="1.8399999999999999" />
<line x1="663.4" y1="1378.5" x2="667.4" y2="1378.5" stroke="#111" stroke-width="1.8399999999999999" />
<line x1="663.4" y1="1438.5" x2="667.4" y2="1438.5" stroke="#111" stroke-width="1.8399999999999999" />
<line x1="667.4" y1="1468.5" x2="667.4" y2="1474.5" stroke="#111" stroke-width="2.3" />
<text x="667.4" y="1496.8" font-size="22" text-anchor="middle" font-family="Liberation Serif, serif" font-weight="bold" fill="#111" >0</text>
<line x1="734.1" y1="1468.5" x2="734.1" y2="1474.5" stroke="#111" stroke-width="2.3" />
<text x="734.1" y="1496.8" font-size="22" text-anchor="middle" font-family="Liberation Serif, serif" font-weight="bold" fill="#111" >2</text>
<line x1="800.8" y1="1468.5" x2="800.8" y2="1474.5" stroke="#111" stroke-width="2.3" />
<text x="800.8" y="1496.8" font-size="22" text-anchor="middle" font-family="Liberation Serif, serif" font-weight="bold" fill="#111" >4</text>
<line x1="867.5" y1="1468.5" x2="867.5" y2="1474.5" stroke="#111" stroke-width="2.3" />
<text x="867.5" y="1496.8" font-size="22" text-anchor="middle" font-family="Liberation Serif, serif" font-weight="bold" fill="#111" >6</text>
<line x1="934.2" y1="1468.5" x2="934.2" y2="1474.5" stroke="#111" stroke-width="2.3" />
<text x="934.2" y="1496.8" font-size="22" text-anchor="middle" font-family="Liberation Serif, serif" font-weight="bold" fill="#111" >8</text>
<line x1="1000.9" y1="1468.5" x2="1000.9" y2="1474.5" stroke="#111" stroke-width="2.3" />
<text x="1000.9" y="1496.8" font-size="22" text-anchor="middle" font-family="Liberation Serif, serif" font-weight="bold" fill="#111" >10</text>
<line x1="1067.6" y1="1468.5" x2="1067.6" y2="1474.5" stroke="#111" stroke-width="2.3" />
<text x="1067.6" y="1496.8" font-size="22" text-anchor="middle" font-family="Liberation Serif, serif" font-weight="bold" fill="#111" >12</text>
<line x1="1134.3" y1="1468.5" x2="1134.3" y2="1474.5" stroke="#111" stroke-width="2.3" />
<text x="1134.3" y="1496.8" font-size="22" text-anchor="middle" font-family="Liberation Serif, serif" font-weight="bold" fill="#111" >14</text>
<line x1="700.8" y1="1468.5" x2="700.8" y2="1471.5" stroke="#111" stroke-width="1.8399999999999999" />
<line x1="767.5" y1="1468.5" x2="767.5" y2="1471.5" stroke="#111" stroke-width="1.8399999999999999" />
<line x1="834.2" y1="1468.5" x2="834.2" y2="1471.5" stroke="#111" stroke-width="1.8399999999999999" />
<line x1="900.9" y1="1468.5" x2="900.9" y2="1471.5" stroke="#111" stroke-width="1.8399999999999999" />
<line x1="967.6" y1="1468.5" x2="967.6" y2="1471.5" stroke="#111" stroke-width="1.8399999999999999" />
<line x1="1034.3" y1="1468.5" x2="1034.3" y2="1471.5" stroke="#111" stroke-width="1.8399999999999999" />
<line x1="1101.0" y1="1468.5" x2="1101.0" y2="1471.5" stroke="#111" stroke-width="1.8399999999999999" />
<line x1="1167.7" y1="1468.5" x2="1167.7" y2="1471.5" stroke="#111" stroke-width="1.8399999999999999" />
<text x="911.0" y="1520.7" font-size="23" text-anchor="middle" font-family="Liberation Serif, serif" font-weight="bold" fill="#111"  textLength="132.6" lengthAdjust="spacingAndGlyphs">Time (days)</text>
<text transform="translate(623.0,1278.5) rotate(-90)" font-size="28" text-anchor="middle" font-family="Liberation Serif, serif" font-weight="bold" fill="#111"  textLength="190.5" lengthAdjust="spacingAndGlyphs">%Biodegradability</text>
<line x1="698.6" y1="1154.8" x2="751.9" y2="1154.8" stroke="#111" stroke-width="2.8" />
<rect x="723.0" y="1152.4" width="4.6" height="4.8" fill="#111" stroke="none" stroke-width="1"/>
<text x="757.3" y="1162.1" font-size="22" text-anchor="start" font-family="Liberation Serif, serif" font-weight="bold" fill="#111"  textLength="51.4" lengthAdjust="spacingAndGlyphs">NF35</text>
<line x1="698.6" y1="1180.6" x2="751.9" y2="1180.6" stroke="#d8545a" stroke-width="2.8" />
<rect x="723.0" y="1178.2" width="4.6" height="4.8" fill="#d24a50" stroke="none" stroke-width="1"/>
<text x="757.3" y="1187.9" font-size="22" text-anchor="start" font-family="Liberation Serif, serif" font-weight="bold" fill="#111"  textLength="40.2" lengthAdjust="spacingAndGlyphs">NF2</text>
<line x1="1281.7" y1="1120.2" x2="1281.7" y2="1448.4" stroke="#111" stroke-width="2" />
<line x1="1280.7" y1="1447.4" x2="1742.0" y2="1447.4" stroke="#111" stroke-width="2" />
<line x1="1269.2" y1="1447.4" x2="1281.7" y2="1447.4" stroke="#111" stroke-width="2" />
<text x="1265.4" y="1457.2" font-size="26.5" text-anchor="end" font-family="Liberation Serif, serif" font-weight="bold" fill="#111"  textLength="12.3" lengthAdjust="spacingAndGlyphs">0</text>
<line x1="1269.2" y1="1393.0" x2="1281.7" y2="1393.0" stroke="#111" stroke-width="2" />
<text x="1265.4" y="1402.8" font-size="26.5" text-anchor="end" font-family="Liberation Serif, serif" font-weight="bold" fill="#111"  textLength="24.6" lengthAdjust="spacingAndGlyphs">50</text>
<line x1="1269.2" y1="1338.7" x2="1281.7" y2="1338.7" stroke="#111" stroke-width="2" />
<text x="1265.4" y="1348.5" font-size="26.5" text-anchor="end" font-family="Liberation Serif, serif" font-weight="bold" fill="#111"  textLength="37.0" lengthAdjust="spacingAndGlyphs">100</text>
<line x1="1269.2" y1="1284.3" x2="1281.7" y2="1284.3" stroke="#111" stroke-width="2" />
<text x="1265.4" y="1294.1" font-size="26.5" text-anchor="end" font-family="Liberation Serif, serif" font-weight="bold" fill="#111"  textLength="37.0" lengthAdjust="spacingAndGlyphs">150</text>
<line x1="1269.2" y1="1229.9" x2="1281.7" y2="1229.9" stroke="#111" stroke-width="2" />
<text x="1265.4" y="1239.7" font-size="26.5" text-anchor="end" font-family="Liberation Serif, serif" font-weight="bold" fill="#111"  textLength="37.0" lengthAdjust="spacingAndGlyphs">200</text>
<line x1="1269.2" y1="1175.6" x2="1281.7" y2="1175.6" stroke="#111" stroke-width="2" />
<text x="1265.4" y="1185.4" font-size="26.5" text-anchor="end" font-family="Liberation Serif, serif" font-weight="bold" fill="#111"  textLength="37.0" lengthAdjust="spacingAndGlyphs">250</text>
<line x1="1269.2" y1="1121.2" x2="1281.7" y2="1121.2" stroke="#111" stroke-width="2" />
<text x="1265.4" y="1131.0" font-size="26.5" text-anchor="end" font-family="Liberation Serif, serif" font-weight="bold" fill="#111"  textLength="37.0" lengthAdjust="spacingAndGlyphs">300</text>
<line x1="1281.7" y1="1447.4" x2="1281.7" y2="1460.4" stroke="#111" stroke-width="2" />
<text x="1281.7" y="1490.3" font-size="26.5" text-anchor="middle" font-family="Liberation Serif, serif" font-weight="bold" fill="#111"  textLength="12.3" lengthAdjust="spacingAndGlyphs">0</text>
<line x1="1358.2" y1="1447.4" x2="1358.2" y2="1460.4" stroke="#111" stroke-width="2" />
<text x="1358.2" y="1490.3" font-size="26.5" text-anchor="middle" font-family="Liberation Serif, serif" font-weight="bold" fill="#111"  textLength="12.3" lengthAdjust="spacingAndGlyphs">4</text>
<line x1="1434.8" y1="1447.4" x2="1434.8" y2="1460.4" stroke="#111" stroke-width="2" />
<text x="1434.8" y="1490.3" font-size="26.5" text-anchor="middle" font-family="Liberation Serif, serif" font-weight="bold" fill="#111"  textLength="12.3" lengthAdjust="spacingAndGlyphs">8</text>
<line x1="1511.3" y1="1447.4" x2="1511.3" y2="1460.4" stroke="#111" stroke-width="2" />
<text x="1511.3" y="1490.3" font-size="26.5" text-anchor="middle" font-family="Liberation Serif, serif" font-weight="bold" fill="#111"  textLength="24.6" lengthAdjust="spacingAndGlyphs">12</text>
<line x1="1587.9" y1="1447.4" x2="1587.9" y2="1460.4" stroke="#111" stroke-width="2" />
<text x="1587.9" y="1490.3" font-size="26.5" text-anchor="middle" font-family="Liberation Serif, serif" font-weight="bold" fill="#111"  textLength="24.6" lengthAdjust="spacingAndGlyphs">16</text>
<line x1="1664.5" y1="1447.4" x2="1664.5" y2="1460.4" stroke="#111" stroke-width="2" />
<text x="1664.5" y="1490.3" font-size="26.5" text-anchor="middle" font-family="Liberation Serif, serif" font-weight="bold" fill="#111"  textLength="24.6" lengthAdjust="spacingAndGlyphs">20</text>
<line x1="1741.0" y1="1447.4" x2="1741.0" y2="1460.4" stroke="#111" stroke-width="2" />
<text x="1741.0" y="1490.3" font-size="26.5" text-anchor="middle" font-family="Liberation Serif, serif" font-weight="bold" fill="#111"  textLength="24.6" lengthAdjust="spacingAndGlyphs">24</text>
<line x1="1300.8" y1="1389.2" x2="1300.8" y2="1380.5" stroke="#111" stroke-width="1.4" />
<line x1="1297.6" y1="1389.2" x2="1304.0" y2="1389.2" stroke="#111" stroke-width="1.4" />
<line x1="1297.6" y1="1380.5" x2="1304.0" y2="1380.5" stroke="#111" stroke-width="1.4" />
<line x1="1320.0" y1="1314.7" x2="1320.0" y2="1303.9" stroke="#111" stroke-width="1.4" />
<line x1="1316.8" y1="1314.7" x2="1323.2" y2="1314.7" stroke="#111" stroke-width="1.4" />
<line x1="1316.8" y1="1303.9" x2="1323.2" y2="1303.9" stroke="#111" stroke-width="1.4" />
<line x1="1358.2" y1="1228.3" x2="1358.2" y2="1215.3" stroke="#111" stroke-width="1.4" />
<line x1="1355.0" y1="1228.3" x2="1361.5" y2="1228.3" stroke="#111" stroke-width="1.4" />
<line x1="1355.0" y1="1215.3" x2="1361.5" y2="1215.3" stroke="#111" stroke-width="1.4" />
<line x1="1396.5" y1="1216.1" x2="1396.5" y2="1200.9" stroke="#111" stroke-width="1.4" />
<line x1="1393.3" y1="1216.1" x2="1399.7" y2="1216.1" stroke="#111" stroke-width="1.4" />
<line x1="1393.3" y1="1200.9" x2="1399.7" y2="1200.9" stroke="#111" stroke-width="1.4" />
<line x1="1434.8" y1="1175.6" x2="1434.8" y2="1160.3" stroke="#111" stroke-width="1.4" />
<line x1="1431.6" y1="1175.6" x2="1438.0" y2="1175.6" stroke="#111" stroke-width="1.4" />
<line x1="1431.6" y1="1160.3" x2="1438.0" y2="1160.3" stroke="#111" stroke-width="1.4" />
<line x1="1473.1" y1="1255.6" x2="1473.1" y2="1240.4" stroke="#111" stroke-width="1.4" />
<line x1="1469.9" y1="1255.6" x2="1476.3" y2="1255.6" stroke="#111" stroke-width="1.4" />
<line x1="1469.9" y1="1240.4" x2="1476.3" y2="1240.4" stroke="#111" stroke-width="1.4" />
<line x1="1511.3" y1="1273.8" x2="1511.3" y2="1260.7" stroke="#111" stroke-width="1.4" />
<line x1="1508.1" y1="1273.8" x2="1514.5" y2="1273.8" stroke="#111" stroke-width="1.4" />
<line x1="1508.1" y1="1260.7" x2="1514.5" y2="1260.7" stroke="#111" stroke-width="1.4" />
<line x1="1626.2" y1="1294.8" x2="1626.2" y2="1282.9" stroke="#111" stroke-width="1.4" />
<line x1="1623.0" y1="1294.8" x2="1629.4" y2="1294.8" stroke="#111" stroke-width="1.4" />
<line x1="1623.0" y1="1282.9" x2="1629.4" y2="1282.9" stroke="#111" stroke-width="1.4" />
<line x1="1741.0" y1="1324.5" x2="1741.0" y2="1313.7" stroke="#111" stroke-width="1.4" />
<line x1="1737.8" y1="1324.5" x2="1744.2" y2="1324.5" stroke="#111" stroke-width="1.4" />
<line x1="1737.8" y1="1313.7" x2="1744.2" y2="1313.7" stroke="#111" stroke-width="1.4" />
<polyline points="1281.7,1447.4 1300.8,1384.9 1320.0,1309.3 1358.2,1221.8 1396.5,1208.5 1434.8,1168.0 1473.1,1248.0 1511.3,1267.2 1626.2,1288.9 1741.0,1319.1" fill="none" stroke="#111" stroke-width="1.6" stroke-linejoin="round" stroke-linecap="round" />
<rect x="1278.7" y="1444.4" width="6.0" height="6.0" fill="#111" stroke="none" stroke-width="1"/>
<rect x="1297.8" y="1381.9" width="6.0" height="6.0" fill="#111" stroke="none" stroke-width="1"/>
<rect x="1317.0" y="1306.3" width="6.0" height="6.0" fill="#111" stroke="none" stroke-width="1"/>
<rect x="1355.2" y="1218.8" width="6.0" height="6.0" fill="#111" stroke="none" stroke-width="1"/>
<rect x="1393.5" y="1205.5" width="6.0" height="6.0" fill="#111" stroke="none" stroke-width="1"/>
<rect x="1431.8" y="1165.0" width="6.0" height="6.0" fill="#111" stroke="none" stroke-width="1"/>
<rect x="1470.1" y="1245.0" width="6.0" height="6.0" fill="#111" stroke="none" stroke-width="1"/>
<rect x="1508.3" y="1264.2" width="6.0" height="6.0" fill="#111" stroke="none" stroke-width="1"/>
<rect x="1623.2" y="1285.9" width="6.0" height="6.0" fill="#111" stroke="none" stroke-width="1"/>
<rect x="1738.0" y="1316.1" width="6.0" height="6.0" fill="#111" stroke="none" stroke-width="1"/>
<line x1="1300.8" y1="1402.5" x2="1300.8" y2="1393.8" stroke="#d22424" stroke-width="1.4" />
<line x1="1297.6" y1="1402.5" x2="1304.0" y2="1402.5" stroke="#d22424" stroke-width="1.4" />
<line x1="1297.6" y1="1393.8" x2="1304.0" y2="1393.8" stroke="#d22424" stroke-width="1.4" />
<line x1="1320.0" y1="1356.0" x2="1320.0" y2="1344.0" stroke="#d22424" stroke-width="1.4" />
<line x1="1316.8" y1="1356.0" x2="1323.2" y2="1356.0" stroke="#d22424" stroke-width="1.4" />
<line x1="1316.8" y1="1344.0" x2="1323.2" y2="1344.0" stroke="#d22424" stroke-width="1.4" />
<line x1="1358.2" y1="1244.1" x2="1358.2" y2="1228.8" stroke="#d22424" stroke-width="1.4" />
<line x1="1355.0" y1="1244.1" x2="1361.5" y2="1244.1" stroke="#d22424" stroke-width="1.4" />
<line x1="1355.0" y1="1228.8" x2="1361.5" y2="1228.8" stroke="#d22424" stroke-width="1.4" />
<line x1="1396.5" y1="1222.9" x2="1396.5" y2="1206.6" stroke="#d22424" stroke-width="1.4" />
<line x1="1393.3" y1="1222.9" x2="1399.7" y2="1222.9" stroke="#d22424" stroke-width="1.4" />
<line x1="1393.3" y1="1206.6" x2="1399.7" y2="1206.6" stroke="#d22424" stroke-width="1.4" />
<line x1="1434.8" y1="1189.3" x2="1434.8" y2="1171.9" stroke="#d22424" stroke-width="1.4" />
<line x1="1431.6" y1="1189.3" x2="1438.0" y2="1189.3" stroke="#d22424" stroke-width="1.4" />
<line x1="1431.6" y1="1171.9" x2="1438.0" y2="1171.9" stroke="#d22424" stroke-width="1.4" />
<line x1="1473.1" y1="1274.5" x2="1473.1" y2="1259.3" stroke="#d22424" stroke-width="1.4" />
<line x1="1469.9" y1="1274.5" x2="1476.3" y2="1274.5" stroke="#d22424" stroke-width="1.4" />
<line x1="1469.9" y1="1259.3" x2="1476.3" y2="1259.3" stroke="#d22424" stroke-width="1.4" />
<line x1="1511.3" y1="1287.7" x2="1511.3" y2="1272.4" stroke="#d22424" stroke-width="1.4" />
<line x1="1508.1" y1="1287.7" x2="1514.5" y2="1287.7" stroke="#d22424" stroke-width="1.4" />
<line x1="1508.1" y1="1272.4" x2="1514.5" y2="1272.4" stroke="#d22424" stroke-width="1.4" />
<line x1="1626.2" y1="1303.4" x2="1626.2" y2="1290.4" stroke="#d22424" stroke-width="1.4" />
<line x1="1623.0" y1="1303.4" x2="1629.4" y2="1303.4" stroke="#d22424" stroke-width="1.4" />
<line x1="1623.0" y1="1290.4" x2="1629.4" y2="1290.4" stroke="#d22424" stroke-width="1.4" />
<line x1="1741.0" y1="1332.1" x2="1741.0" y2="1319.1" stroke="#d22424" stroke-width="1.4" />
<line x1="1737.8" y1="1332.1" x2="1744.2" y2="1332.1" stroke="#d22424" stroke-width="1.4" />
<line x1="1737.8" y1="1319.1" x2="1744.2" y2="1319.1" stroke="#d22424" stroke-width="1.4" />
<polyline points="1281.7,1447.4 1300.8,1398.1 1320.0,1350.0 1358.2,1236.5 1396.5,1214.7 1434.8,1180.6 1473.1,1266.9 1511.3,1280.1 1626.2,1296.9 1741.0,1325.6" fill="none" stroke="#d22424" stroke-width="1.6" stroke-linejoin="round" stroke-linecap="round" />
<circle cx="1281.7" cy="1447.4" r="3.2" fill="#d22424"/>
<circle cx="1300.8" cy="1398.1" r="3.2" fill="#d22424"/>
<circle cx="1320.0" cy="1350.0" r="3.2" fill="#d22424"/>
<circle cx="1358.2" cy="1236.5" r="3.2" fill="#d22424"/>
<circle cx="1396.5" cy="1214.7" r="3.2" fill="#d22424"/>
<circle cx="1434.8" cy="1180.6" r="3.2" fill="#d22424"/>
<circle cx="1473.1" cy="1266.9" r="3.2" fill="#d22424"/>
<circle cx="1511.3" cy="1280.1" r="3.2" fill="#d22424"/>
<circle cx="1626.2" cy="1296.9" r="3.2" fill="#d22424"/>
<circle cx="1741.0" cy="1325.6" r="3.2" fill="#d22424"/>
<text x="1511.9" y="1529.2" font-size="26" text-anchor="middle" font-family="Liberation Serif, serif" font-weight="bold" fill="#111"  textLength="125.5" lengthAdjust="spacingAndGlyphs">Time (hrs.)</text>
<text transform="translate(1204.2,1281.4) rotate(-90)" font-size="27" text-anchor="middle" font-family="Liberation Serif, serif" font-weight="bold" fill="#111"  textLength="208.0" lengthAdjust="spacingAndGlyphs">% Swelling index</text>
<line x1="1607.2" y1="1138.4" x2="1640.1" y2="1138.4" stroke="#d22424" stroke-width="1.8" />
<circle cx="1623.6" cy="1138.4" r="3.2" fill="#d22424"/>
<text x="1659.0" y="1147.0" font-size="26.5" text-anchor="start" font-family="Liberation Serif, serif" font-weight="bold" fill="#111"  textLength="47.0" lengthAdjust="spacingAndGlyphs">NF2</text>
<line x1="1607.2" y1="1167.5" x2="1640.1" y2="1167.5" stroke="#111" stroke-width="1.8" />
<rect x="1620.6" y="1164.5" width="6.0" height="6.0" fill="#111" stroke="none" stroke-width="1"/>
<text x="1659.0" y="1176.8" font-size="26.5" text-anchor="start" font-family="Liberation Serif, serif" font-weight="bold" fill="#111"  textLength="61.5" lengthAdjust="spacingAndGlyphs">NF35</text>
</svg></body></html>
